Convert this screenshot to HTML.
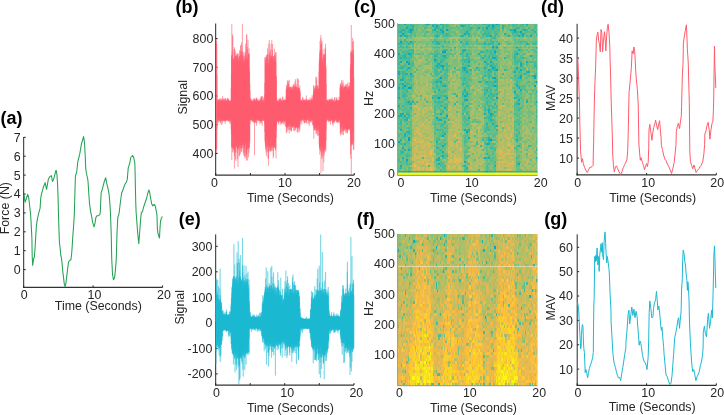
<!DOCTYPE html>
<html><head><meta charset="utf-8"><style>
html,body{margin:0;padding:0;background:#fff;overflow:hidden;}
svg{display:block;font-family:"Liberation Sans", sans-serif;will-change:transform;}
</style></head><body>
<svg width="724" height="415" viewBox="0 0 724 415">
<defs><filter id="sblur" x="-5%" y="-5%" width="110%" height="110%"><feGaussianBlur stdDeviation="0.55"/></filter></defs>
<rect width="724" height="415" fill="#fff"/>
<path d="M23.70 137.00 V288.00" fill="none" stroke="#262626" stroke-width="1"/>
<path d="M23.20 287.40 H162.60" fill="none" stroke="#333" stroke-width="1.25"/>
<line x1="23.70" y1="269.60" x2="25.70" y2="269.60" stroke="#262626" stroke-width="1"/>
<line x1="23.70" y1="250.70" x2="25.70" y2="250.70" stroke="#262626" stroke-width="1"/>
<line x1="23.70" y1="231.80" x2="25.70" y2="231.80" stroke="#262626" stroke-width="1"/>
<line x1="23.70" y1="212.90" x2="25.70" y2="212.90" stroke="#262626" stroke-width="1"/>
<line x1="23.70" y1="194.00" x2="25.70" y2="194.00" stroke="#262626" stroke-width="1"/>
<line x1="23.70" y1="175.10" x2="25.70" y2="175.10" stroke="#262626" stroke-width="1"/>
<line x1="23.70" y1="156.20" x2="25.70" y2="156.20" stroke="#262626" stroke-width="1"/>
<line x1="23.70" y1="137.30" x2="25.70" y2="137.30" stroke="#262626" stroke-width="1"/>
<line x1="23.70" y1="287.40" x2="23.70" y2="285.40" stroke="#262626" stroke-width="1"/>
<line x1="93.10" y1="287.40" x2="93.10" y2="285.40" stroke="#262626" stroke-width="1"/>
<line x1="162.60" y1="287.40" x2="162.60" y2="285.40" stroke="#262626" stroke-width="1"/>
<path d="M24.0 194.8 L25.1 202.2 L26.2 199.0 L27.6 194.3 L28.7 197.5 L29.8 207.0 L30.6 214.4 L31.1 222.6 L31.9 238.5 L32.2 256.5 L32.7 265.5 L33.6 258.6 L34.3 257.5 L35.0 249.0 L35.6 238.5 L36.4 225.8 L37.5 218.4 L38.6 213.6 L40.1 208.1 L40.7 198.5 L41.5 193.8 L43.2 187.8 L45.1 182.6 L46.6 189.5 L48.3 179.4 L49.5 176.9 L51.4 175.6 L52.5 181.5 L53.8 178.6 L55.9 170.5 L56.3 170.7 L57.0 175.2 L57.6 185.3 L58.1 198.0 L58.5 215.0 L58.9 228.0 L59.4 241.7 L60.1 248.0 L60.8 255.5 L61.6 258.6 L62.9 272.4 L64.3 284.1 L65.1 286.7 L65.8 284.1 L67.2 272.4 L68.6 261.8 L69.6 260.5 L70.9 259.7 L71.7 253.3 L72.3 245.0 L72.5 240.6 L73.6 225.8 L74.3 215.0 L74.9 193.2 L75.4 176.2 L76.7 172.0 L77.8 161.7 L78.9 157.5 L79.9 153.2 L81.5 143.7 L82.6 140.0 L83.6 136.5 L84.5 142.6 L85.2 155.3 L85.7 168.1 L86.3 172.5 L87.9 180.0 L89.5 203.8 L90.8 212.3 L91.6 216.2 L92.7 222.6 L94.0 226.8 L95.1 222.6 L95.8 217.8 L96.9 215.7 L98.5 215.7 L99.8 214.7 L100.3 212.0 L101.1 193.2 L102.2 189.5 L103.3 185.3 L104.3 181.5 L105.7 177.8 L106.8 183.7 L108.0 188.4 L109.1 194.3 L109.9 203.8 L110.4 212.0 L111.2 233.2 L111.7 258.0 L112.5 274.0 L113.5 279.8 L114.6 277.7 L115.5 269.2 L116.3 258.6 L117.0 233.2 L117.8 217.3 L118.8 214.7 L119.2 212.3 L120.2 203.8 L121.6 193.2 L122.9 190.0 L124.5 185.3 L126.1 182.6 L127.3 179.4 L128.2 168.1 L129.8 162.8 L130.8 157.5 L132.7 155.5 L133.7 157.5 L134.8 162.8 L135.1 172.0 L135.4 187.9 L135.8 203.8 L136.1 212.0 L136.9 222.6 L137.7 233.2 L138.8 243.8 L139.6 233.2 L140.7 218.4 L141.4 212.3 L142.5 211.8 L143.6 207.0 L145.1 202.8 L146.7 198.0 L147.8 193.2 L148.9 190.0 L149.7 192.7 L150.7 198.5 L151.7 203.8 L152.8 205.9 L154.2 204.3 L155.2 205.9 L156.3 211.2 L157.0 215.5 L157.3 227.9 L157.9 233.2 L158.9 236.4 L159.5 238.0 L160.0 227.9 L160.5 221.5 L161.3 218.4 L162.4 216.5" fill="none" stroke="#22a252" stroke-width="1.05" stroke-linejoin="round" opacity="1"/>
<path d="M215.70 23.50 V175.60" fill="none" stroke="#262626" stroke-width="1"/>
<path d="M215.20 175.00 H354.30" fill="none" stroke="#333" stroke-width="1.25"/>
<line x1="215.70" y1="153.40" x2="217.70" y2="153.40" stroke="#262626" stroke-width="1"/>
<line x1="215.70" y1="124.70" x2="217.70" y2="124.70" stroke="#262626" stroke-width="1"/>
<line x1="215.70" y1="96.00" x2="217.70" y2="96.00" stroke="#262626" stroke-width="1"/>
<line x1="215.70" y1="67.30" x2="217.70" y2="67.30" stroke="#262626" stroke-width="1"/>
<line x1="215.70" y1="38.60" x2="217.70" y2="38.60" stroke="#262626" stroke-width="1"/>
<line x1="215.70" y1="175.00" x2="215.70" y2="173.00" stroke="#262626" stroke-width="1"/>
<line x1="250.40" y1="175.00" x2="250.40" y2="173.00" stroke="#262626" stroke-width="1"/>
<line x1="285.00" y1="175.00" x2="285.00" y2="173.00" stroke="#262626" stroke-width="1"/>
<line x1="319.60" y1="175.00" x2="319.60" y2="173.00" stroke="#262626" stroke-width="1"/>
<line x1="354.30" y1="175.00" x2="354.30" y2="173.00" stroke="#262626" stroke-width="1"/>
<clipPath id="nclip11"><rect x="215" y="23.4" width="140" height="151.1"/></clipPath>
<path d="M217.00 74.7V128.8M217.20 99.1V121.1M217.40 102.2V120.9M217.60 100.2V121.9M217.80 100.2V120.1M218.00 101.8V120.1M218.20 101.0V123.4M218.40 100.0V120.7M218.60 99.3V120.6M218.80 101.3V119.9M219.00 99.6V119.3M219.20 101.0V120.8M219.40 98.7V119.9M219.60 99.3V119.2M219.80 100.7V121.7M220.00 98.6V121.0M220.20 101.3V122.2M220.40 100.6V119.6M220.60 99.7V123.5M220.80 101.9V121.9M221.00 98.2V119.3M221.20 101.6V120.6M221.40 99.6V125.0M221.60 100.7V118.9M221.80 100.9V121.0M222.00 98.7V120.6M222.20 100.3V120.4M222.40 100.2V123.6M222.60 96.2V120.4M222.80 101.6V119.9M223.00 98.9V120.6M223.20 100.2V121.0M223.40 100.5V118.2M223.60 98.6V120.2M223.80 101.6V119.7M224.00 98.7V122.0M224.20 100.7V120.7M224.40 102.3V121.4M224.60 100.7V120.0M224.80 98.6V118.2M225.00 99.3V120.3M225.20 100.2V124.0M225.40 98.0V120.8M225.60 98.9V120.6M225.80 100.1V121.3M226.00 100.5V120.2M226.20 101.1V120.0M226.40 100.7V120.2M226.60 101.0V120.9M226.80 100.0V118.6M227.00 100.6V119.1M227.20 98.2V120.7M227.40 100.1V120.6M227.60 98.9V120.0M227.80 98.0V118.8M228.00 100.6V120.4M228.20 99.8V120.7M228.40 100.8V119.0M228.60 98.5V121.0M228.80 99.5V121.3M229.00 100.5V122.1M229.20 101.8V120.7M229.40 101.2V120.5M229.60 101.1V119.6M229.80 100.9V122.6M230.00 102.5V120.2M230.20 100.4V124.1M230.40 100.6V119.4M230.60 100.4V120.2M230.80 102.3V120.7M231.00 100.2V121.9M231.20 88.0V129.6M231.40 73.9V134.2M231.60 54.9V146.7M231.80 57.6V160.1M232.00 56.5V148.0M232.20 51.4V147.1M232.40 61.7V147.5M232.60 34.4V152.2M232.80 36.2V148.2M233.00 58.2V148.8M233.20 58.8V145.5M233.40 71.0V136.0M233.60 59.0V150.2M233.80 59.4V148.1M234.00 49.5V152.8M234.20 61.7V148.6M234.40 47.2V168.6M234.60 56.9V156.3M234.80 49.2V150.6M235.00 64.0V142.3M235.20 68.0V148.9M235.40 51.7V159.5M235.60 56.0V152.2M235.80 55.2V145.4M236.00 56.7V161.2M236.20 59.8V146.4M236.40 53.8V146.1M236.60 57.1V141.5M236.80 56.0V147.0M237.00 55.5V147.3M237.20 55.6V152.8M237.40 58.6V147.9M237.60 53.3V159.2M237.80 61.7V149.8M238.00 54.9V148.5M238.20 53.3V148.2M238.40 61.6V149.5M238.60 58.1V142.1M238.80 57.7V148.2M239.00 61.9V145.5M239.20 63.4V155.6M239.40 56.0V156.4M239.60 56.1V146.9M239.80 49.8V141.1M240.00 51.0V140.2M240.20 60.3V145.6M240.40 54.3V154.0M240.60 45.5V145.6M240.80 59.4V147.9M241.00 44.9V148.6M241.20 61.5V151.9M241.40 51.9V147.5M241.60 42.2V151.5M241.80 55.2V148.0M242.00 61.6V145.6M242.20 50.5V144.3M242.40 55.4V145.5M242.60 58.4V144.1M242.80 51.8V148.8M243.00 61.6V145.3M243.20 64.6V153.2M243.40 60.3V141.7M243.60 56.2V143.7M243.80 52.7V155.7M244.00 59.0V151.4M244.20 60.4V146.4M244.40 62.2V156.1M244.60 60.4V148.0M244.80 55.5V158.3M245.00 57.2V146.2M245.20 51.4V141.5M245.40 54.1V142.7M245.60 43.6V144.2M245.80 64.6V157.9M246.00 60.7V155.9M246.20 60.9V153.1M246.40 58.4V154.5M246.60 34.5V160.7M246.80 34.7V147.1M247.00 57.1V149.8M247.20 46.7V143.2M247.40 49.5V160.3M247.60 59.5V149.4M247.80 63.3V147.5M248.00 39.8V142.4M248.20 60.7V148.3M248.40 54.3V141.4M248.60 53.8V157.5M248.80 53.2V152.7M249.00 48.2V147.2M249.20 53.7V148.9M249.40 68.5V147.6M249.60 72.3V140.0M249.80 83.9V142.9M250.00 91.2V123.7M250.20 99.7V119.5M250.40 101.4V120.0M250.60 98.5V119.9M250.80 98.5V120.4M251.00 100.3V120.6M251.20 98.8V118.7M251.40 101.4V118.8M251.60 101.1V120.1M251.80 101.9V120.8M252.00 100.1V119.8M252.20 100.1V121.8M252.40 102.5V119.6M252.60 101.1V121.6M252.80 100.9V120.2M253.00 100.9V118.3M253.20 101.8V120.8M253.40 99.2V122.9M253.60 101.4V119.6M253.80 99.7V121.6M254.00 98.2V121.2M254.20 100.2V119.1M254.40 98.3V122.2M254.60 100.9V122.3M254.80 100.6V121.2M255.00 99.4V120.7M255.20 101.9V122.1M255.40 100.3V120.2M255.60 100.2V122.8M255.80 101.4V120.3M256.00 98.8V123.0M256.20 97.8V119.1M256.40 98.8V125.9M256.60 97.7V119.5M256.80 101.8V119.5M257.00 98.5V123.4M257.20 100.5V118.1M257.40 101.1V120.1M257.60 100.3V119.3M257.80 99.4V120.1M258.00 101.1V120.8M258.20 101.1V120.3M258.40 102.6V121.4M258.60 100.6V120.3M258.80 99.6V119.5M259.00 101.2V120.3M259.20 103.1V119.6M259.40 100.1V119.6M259.60 100.4V120.9M259.80 101.3V124.4M260.00 102.1V121.0M260.20 98.1V120.6M260.40 101.8V120.7M260.60 99.9V123.1M260.80 100.6V120.7M261.00 96.1V120.7M261.20 98.9V121.9M261.40 97.3V123.4M261.60 97.9V120.9M261.80 100.7V119.1M262.00 96.3V120.7M262.20 96.1V125.9M262.40 101.0V117.8M262.60 100.6V119.2M262.80 100.1V120.5M263.00 101.6V119.8M263.20 100.5V120.9M263.40 102.6V120.9M263.60 97.4V119.9M263.80 98.9V119.9M264.00 100.9V121.2M264.20 101.7V120.9M264.40 101.7V119.8M264.60 94.9V124.3M264.80 83.0V131.9M265.00 57.0V140.4M265.20 57.6V142.6M265.40 59.0V147.9M265.60 64.2V144.6M265.80 66.8V150.0M266.00 61.5V146.5M266.20 55.4V152.6M266.40 63.2V156.1M266.60 56.9V139.6M266.80 58.1V146.2M267.00 55.1V144.9M267.20 54.5V138.4M267.40 54.8V147.3M267.60 48.3V151.8M267.80 66.6V138.2M268.00 53.4V158.0M268.20 72.7V144.9M268.40 59.1V165.8M268.60 63.2V159.0M268.80 43.4V143.5M269.00 64.5V146.9M269.20 61.9V146.3M269.40 63.6V149.1M269.60 54.2V146.2M269.80 51.7V151.8M270.00 68.2V150.9M270.20 55.1V150.5M270.40 49.5V140.4M270.60 56.3V147.2M270.80 59.2V151.1M271.00 43.8V151.5M271.20 55.9V145.7M271.40 58.9V139.8M271.60 55.5V148.0M271.80 40.2V150.2M272.00 56.9V145.7M272.20 58.1V151.0M272.40 50.5V144.5M272.60 44.1V145.9M272.80 61.8V145.8M273.00 60.1V148.4M273.20 59.6V158.2M273.40 56.0V147.6M273.60 56.1V156.2M273.80 75.0V147.3M274.00 58.8V142.3M274.20 60.3V145.0M274.40 48.7V147.0M274.60 54.8V147.9M274.80 57.7V147.7M275.00 57.2V145.6M275.20 54.1V149.5M275.40 61.4V141.9M275.60 52.4V150.4M275.80 62.0V147.2M276.00 52.1V158.4M276.20 77.6V137.8M276.40 75.8V129.9M276.60 101.1V125.7M276.80 97.7V121.4M277.00 100.5V121.5M277.20 100.3V119.5M277.40 101.8V121.1M277.60 101.3V121.7M277.80 102.9V121.0M278.00 101.3V121.6M278.20 101.8V124.6M278.40 100.4V122.9M278.60 101.0V121.5M278.80 100.4V123.3M279.00 98.4V120.8M279.20 102.7V119.0M279.40 99.0V121.3M279.60 100.0V120.9M279.80 101.6V121.6M280.00 99.1V121.2M280.20 97.6V125.0M280.40 100.1V119.9M280.60 100.4V120.9M280.80 98.5V122.3M281.00 102.6V122.7M281.20 99.3V121.0M281.40 101.0V122.8M281.60 101.8V123.9M281.80 100.1V121.4M282.00 101.2V123.7M282.20 100.1V119.9M282.40 97.1V122.4M282.60 103.2V120.3M282.80 96.6V121.9M283.00 101.1V121.4M283.20 101.3V124.3M283.40 100.4V120.7M283.60 100.2V120.4M283.80 99.9V123.7M284.00 98.6V121.8M284.20 100.4V121.2M284.40 100.9V121.5M284.60 100.3V120.3M284.80 100.9V120.8M285.00 99.4V124.5M285.20 99.8V125.9M285.40 100.8V121.1M285.60 100.0V118.8M285.80 100.7V121.2M286.00 97.2V127.1M286.20 89.3V127.6M286.40 84.8V133.4M286.60 90.1V124.5M286.80 86.9V131.5M287.00 89.2V131.8M287.20 87.8V127.4M287.40 80.3V126.7M287.60 84.6V128.6M287.80 81.5V127.0M288.00 88.6V126.6M288.20 87.3V124.8M288.40 84.0V123.9M288.60 80.9V130.0M288.80 87.0V125.5M289.00 90.8V126.7M289.20 79.8V133.5M289.40 86.6V124.2M289.60 94.8V126.1M289.80 87.4V130.1M290.00 88.7V129.3M290.20 88.1V123.9M290.40 87.1V126.1M290.60 86.7V125.1M290.80 89.1V130.7M291.00 87.0V125.4M291.20 87.7V130.5M291.40 89.2V131.9M291.60 88.7V130.2M291.80 86.5V126.7M292.00 90.9V127.5M292.20 89.8V125.5M292.40 89.0V127.0M292.60 86.4V127.1M292.80 87.0V127.9M293.00 91.1V126.3M293.20 84.0V126.2M293.40 87.7V125.4M293.60 89.3V130.8M293.80 85.4V126.2M294.00 86.7V125.5M294.20 84.2V127.1M294.40 87.1V125.4M294.60 86.3V131.2M294.80 89.1V129.5M295.00 81.6V126.9M295.20 87.4V127.6M295.40 79.2V127.2M295.60 86.8V130.1M295.80 86.1V128.0M296.00 86.7V128.2M296.20 84.3V127.3M296.40 87.3V127.0M296.60 90.2V127.1M296.80 87.6V127.1M297.00 91.5V125.5M297.20 78.1V132.5M297.40 91.0V132.0M297.60 88.0V127.8M297.80 87.1V126.6M298.00 79.9V127.3M298.20 78.9V128.7M298.40 87.6V125.9M298.60 87.6V127.8M298.80 91.9V132.5M299.00 88.0V125.8M299.20 88.0V127.6M299.40 89.0V129.4M299.60 89.7V126.9M299.80 85.1V131.4M300.00 93.1V122.9M300.20 91.5V124.6M300.40 102.1V119.3M300.60 100.5V120.9M300.80 99.9V118.9M301.00 100.2V120.3M301.20 101.6V119.9M301.40 101.8V121.9M301.60 99.7V120.2M301.80 100.3V124.3M302.00 100.1V119.7M302.20 102.0V120.3M302.40 101.5V118.9M302.60 96.9V119.2M302.80 97.8V120.5M303.00 100.3V118.3M303.20 101.5V120.3M303.40 101.0V119.7M303.60 98.9V121.3M303.80 100.1V117.0M304.00 100.3V123.0M304.20 101.1V119.5M304.40 100.2V119.6M304.60 99.5V123.3M304.80 100.7V123.2M305.00 100.5V118.9M305.20 100.6V119.4M305.40 102.2V120.7M305.60 98.6V118.9M305.80 100.2V122.6M306.00 101.0V119.6M306.20 101.3V122.8M306.40 95.5V122.1M306.60 100.4V120.2M306.80 99.4V120.3M307.00 99.2V124.0M307.20 101.2V120.0M307.40 101.9V119.8M307.60 100.1V119.6M307.80 100.6V118.8M308.00 99.8V120.4M308.20 100.1V117.2M308.40 101.9V120.7M308.60 100.1V118.0M308.80 100.4V123.8M309.00 99.5V123.0M309.20 101.4V126.1M309.40 99.8V120.7M309.60 100.7V118.4M309.80 101.6V119.9M310.00 97.5V121.0M310.20 99.6V119.3M310.40 101.2V121.8M310.60 100.3V120.6M310.80 100.6V122.5M311.00 99.2V120.7M311.20 101.5V120.2M311.40 98.1V120.2M311.60 99.8V121.9M311.80 100.8V120.4M312.00 95.3V120.9M312.20 101.6V118.7M312.40 100.0V124.7M312.60 99.7V120.6M312.80 98.0V119.6M313.00 96.7V125.6M313.20 95.0V124.2M313.40 92.5V127.6M313.60 85.2V124.3M313.80 85.5V138.7M314.00 88.6V124.4M314.20 91.9V130.5M314.40 92.2V130.0M314.60 88.4V128.2M314.80 90.1V128.6M315.00 89.5V130.4M315.20 87.0V129.6M315.40 86.1V127.3M315.60 86.0V126.9M315.80 76.7V129.5M316.00 90.5V133.9M316.20 88.8V130.9M316.40 79.3V127.0M316.60 88.3V134.1M316.80 76.8V130.1M317.00 85.5V129.7M317.20 87.5V128.8M317.40 90.1V131.8M317.60 85.4V127.0M317.80 88.9V136.0M318.00 85.5V134.9M318.20 92.7V127.1M318.40 87.5V130.7M318.60 88.9V128.3M318.80 89.0V129.6M319.00 71.5V135.6M319.20 60.3V144.3M319.40 64.0V146.7M319.60 52.4V148.5M319.80 57.7V154.7M320.00 40.8V149.7M320.20 49.4V148.0M320.40 58.8V150.3M320.60 51.0V151.7M320.80 35.0V147.0M321.00 44.1V172.9M321.20 44.4V145.1M321.40 61.8V147.4M321.60 42.6V155.3M321.80 53.3V159.1M322.00 40.7V143.1M322.20 58.4V151.9M322.40 61.9V157.4M322.60 62.5V148.2M322.80 58.3V145.8M323.00 49.2V146.4M323.20 65.8V151.6M323.40 54.3V152.4M323.60 55.2V150.9M323.80 58.0V162.5M324.00 55.6V156.0M324.20 60.0V153.7M324.40 54.5V147.4M324.60 54.4V149.5M324.80 67.1V150.6M325.00 47.9V139.7M325.20 53.6V148.5M325.40 49.2V145.0M325.60 43.8V150.0M325.80 69.0V151.9M326.00 66.1V140.5M326.20 84.4V130.0M326.40 101.1V122.3M326.60 99.8V118.6M326.80 103.9V118.9M327.00 100.6V118.9M327.20 101.5V120.0M327.40 100.1V120.4M327.60 100.2V119.0M327.80 100.3V120.3M328.00 99.1V121.0M328.20 101.3V120.3M328.40 100.1V121.9M328.60 101.1V119.1M328.80 101.0V119.4M329.00 102.0V120.1M329.20 99.2V122.4M329.40 100.8V120.6M329.60 99.3V119.0M329.80 100.1V120.3M330.00 100.1V121.6M330.20 103.4V120.7M330.40 98.9V120.8M330.60 100.8V124.8M330.80 98.8V119.3M331.00 100.5V120.9M331.20 98.9V116.8M331.40 101.3V120.6M331.60 99.4V120.5M331.80 100.8V120.2M332.00 100.1V119.7M332.20 97.5V119.5M332.40 100.2V123.7M332.60 101.5V123.1M332.80 100.1V118.0M333.00 99.4V125.7M333.20 100.5V123.6M333.40 100.7V122.3M333.60 101.6V120.1M333.80 101.5V118.6M334.00 99.0V121.9M334.20 102.2V121.4M334.40 101.6V120.4M334.60 97.6V121.8M334.80 101.3V123.2M335.00 97.1V120.7M335.20 100.6V119.1M335.40 101.4V120.7M335.60 101.6V120.2M335.80 101.1V117.9M336.00 99.7V118.4M336.20 100.3V119.6M336.40 100.8V121.7M336.60 98.2V121.4M336.80 97.1V121.6M337.00 99.2V122.3M337.20 100.0V123.3M337.40 100.4V119.1M337.60 100.8V122.3M337.80 100.5V119.9M338.00 101.0V121.6M338.20 101.2V122.6M338.40 100.4V121.7M338.60 100.2V121.1M338.80 100.6V119.6M339.00 97.1V122.6M339.20 100.0V117.7M339.40 100.3V119.7M339.60 101.4V120.6M339.80 96.8V121.3M340.00 88.5V123.4M340.20 85.2V133.2M340.40 83.1V125.7M340.60 84.0V135.4M340.80 88.3V128.7M341.00 86.2V134.1M341.20 87.6V132.9M341.40 86.4V131.1M341.60 79.9V128.3M341.80 87.1V128.6M342.00 82.3V123.5M342.20 86.1V126.6M342.40 91.9V125.3M342.60 84.7V134.6M342.80 86.0V131.0M343.00 80.3V131.2M343.20 87.6V131.1M343.40 89.9V135.1M343.60 88.1V128.0M343.80 83.4V129.3M344.00 90.3V127.5M344.20 86.9V129.6M344.40 88.2V129.1M344.60 86.6V130.8M344.80 86.1V124.4M345.00 86.8V127.8M345.20 87.3V132.4M345.40 85.6V129.4M345.60 86.5V128.8M345.80 86.9V127.8M346.00 84.0V128.9M346.20 86.9V133.5M346.40 84.8V129.0M346.60 87.2V131.4M346.80 90.2V129.0M347.00 87.7V129.2M347.20 83.6V128.5M347.40 87.5V133.4M347.60 91.3V132.6M347.80 89.1V129.2M348.00 82.6V130.1M348.20 85.8V130.1M348.40 88.9V129.5M348.60 88.4V128.7M348.80 86.6V128.0M349.00 86.1V129.4M349.20 86.1V128.0M349.40 82.5V127.9M349.60 86.4V128.9M349.80 90.3V129.9M350.00 91.2V130.4M350.20 91.5V129.9M350.40 67.8V134.3M350.60 64.3V154.0M350.80 52.2V158.6M351.00 50.5V142.2M351.20 70.7V144.7M351.40 52.9V144.0M351.60 52.3V139.5M351.80 51.2V145.8M352.00 53.5V144.7M352.20 62.6V143.7M352.40 59.2V132.5M352.60 38.0V144.5M352.80 54.3V134.0M353.00 50.6V144.5M353.20 54.5V142.2M353.40 50.1V149.6M353.60 40.7V140.8M353.80 76.9V150.0M216.10 39.0V153.0M216.50 41.0V151.0M216.90 44.0V149.0M231.80 24.0V110.0M242.40 24.0V110.0M238.00 110.0V167.0M269.30 40.0V110.0M254.50 110.0V155.0M321.00 38.0V110.0M323.00 110.0V171.0M351.30 25.0V174.0M352.70 42.0V110.0" stroke="#ff5b6b" stroke-width="0.6" fill="none" clip-path="url(#nclip11)"/>
<path d="M215.70 234.40 V385.70" fill="none" stroke="#262626" stroke-width="1"/>
<path d="M215.20 385.10 H354.00" fill="none" stroke="#333" stroke-width="1.25"/>
<line x1="215.70" y1="373.90" x2="217.70" y2="373.90" stroke="#262626" stroke-width="1"/>
<line x1="215.70" y1="348.38" x2="217.70" y2="348.38" stroke="#262626" stroke-width="1"/>
<line x1="215.70" y1="322.86" x2="217.70" y2="322.86" stroke="#262626" stroke-width="1"/>
<line x1="215.70" y1="297.34" x2="217.70" y2="297.34" stroke="#262626" stroke-width="1"/>
<line x1="215.70" y1="271.82" x2="217.70" y2="271.82" stroke="#262626" stroke-width="1"/>
<line x1="215.70" y1="246.30" x2="217.70" y2="246.30" stroke="#262626" stroke-width="1"/>
<line x1="215.70" y1="385.10" x2="215.70" y2="383.10" stroke="#262626" stroke-width="1"/>
<line x1="250.20" y1="385.10" x2="250.20" y2="383.10" stroke="#262626" stroke-width="1"/>
<line x1="284.70" y1="385.10" x2="284.70" y2="383.10" stroke="#262626" stroke-width="1"/>
<line x1="319.30" y1="385.10" x2="319.30" y2="383.10" stroke="#262626" stroke-width="1"/>
<line x1="354.00" y1="385.10" x2="354.00" y2="383.10" stroke="#262626" stroke-width="1"/>
<clipPath id="nclip23"><rect x="215" y="234.4" width="140" height="150.20000000000002"/></clipPath>
<path d="M216.00 292.8V363.8M216.20 300.1V351.5M216.40 295.6V345.6M216.60 279.5V346.6M216.80 295.1V340.4M217.00 291.4V346.4M217.20 294.2V347.3M217.40 294.6V345.3M217.60 304.1V342.8M217.80 279.7V344.1M218.00 295.2V342.0M218.20 298.3V347.6M218.40 286.3V347.2M218.60 300.4V347.4M218.80 300.4V350.3M219.00 299.7V346.5M219.20 299.4V355.8M219.40 300.4V347.9M219.60 302.1V347.8M219.80 288.4V345.8M220.00 300.2V347.5M220.20 299.1V362.1M220.40 295.4V356.8M220.60 306.7V343.8M220.80 301.9V344.2M221.00 301.2V355.0M221.20 303.0V344.4M221.40 306.1V344.1M221.60 302.8V344.8M221.80 310.1V338.6M222.00 309.6V336.2M222.20 312.0V340.9M222.40 311.2V336.0M222.60 311.6V330.4M222.80 314.9V331.3M223.00 314.0V329.9M223.20 310.7V330.7M223.40 315.4V328.4M223.60 314.1V330.6M223.80 313.6V330.6M224.00 316.0V330.6M224.20 314.4V329.7M224.40 313.9V329.9M224.60 315.6V329.7M224.80 314.1V329.1M225.00 311.7V329.6M225.20 314.5V330.1M225.40 314.3V330.2M225.60 314.9V329.8M225.80 314.3V330.1M226.00 314.2V331.4M226.20 312.7V329.2M226.40 309.5V332.0M226.60 311.8V330.4M226.80 315.0V330.9M227.00 314.2V331.1M227.20 315.0V330.9M227.40 315.3V330.8M227.60 315.1V330.7M227.80 315.2V330.3M228.00 314.9V330.6M228.20 314.4V329.9M228.40 314.7V330.6M228.60 314.3V335.2M228.80 315.1V336.9M229.00 315.2V330.8M229.20 314.0V332.8M229.40 316.1V329.9M229.60 311.7V336.0M229.80 314.4V330.7M230.00 311.7V332.5M230.20 315.3V332.4M230.40 315.6V329.5M230.60 311.8V332.0M230.80 310.5V334.2M231.00 305.9V337.8M231.20 303.8V344.0M231.40 297.4V344.1M231.60 300.3V348.2M231.80 292.7V349.8M232.00 287.3V343.4M232.20 287.1V353.0M232.40 283.8V353.1M232.60 283.4V353.4M232.80 278.6V354.4M233.00 278.6V348.8M233.20 280.3V346.7M233.40 276.2V364.4M233.60 277.9V355.4M233.80 276.6V352.9M234.00 276.7V355.2M234.20 279.8V354.7M234.40 279.2V357.2M234.60 286.8V359.1M234.80 264.5V354.4M235.00 276.4V372.4M235.20 279.5V353.0M235.40 277.7V352.8M235.60 282.7V354.2M235.80 280.2V358.2M236.00 284.3V365.0M236.20 278.1V363.4M236.40 279.7V370.0M236.60 276.0V350.1M236.80 280.6V356.6M237.00 252.5V358.9M237.20 262.9V345.1M237.40 282.8V357.7M237.60 262.8V358.0M237.80 280.8V353.8M238.00 280.0V367.5M238.20 241.2V352.7M238.40 284.9V364.9M238.60 283.1V357.6M238.80 277.4V358.1M239.00 258.7V357.1M239.20 278.3V358.6M239.40 274.8V366.3M239.60 262.7V380.3M239.80 270.8V356.6M240.00 276.8V378.4M240.20 285.8V357.0M240.40 277.6V357.3M240.60 276.6V358.2M240.80 279.8V353.7M241.00 279.1V356.9M241.20 279.4V358.5M241.40 282.4V358.5M241.60 281.2V355.3M241.80 292.7V361.3M242.00 280.0V363.7M242.20 283.0V356.5M242.40 279.0V354.9M242.60 264.9V352.7M242.80 272.5V369.4M243.00 280.6V354.5M243.20 292.5V376.6M243.40 283.4V356.3M243.60 277.2V350.5M243.80 281.1V354.7M244.00 265.4V355.4M244.20 286.1V354.6M244.40 280.6V353.3M244.60 281.3V357.9M244.80 280.3V370.2M245.00 275.0V357.5M245.20 281.6V353.0M245.40 285.5V355.7M245.60 284.8V353.7M245.80 278.4V351.2M246.00 265.9V364.6M246.20 281.6V353.7M246.40 283.1V353.5M246.60 279.2V350.4M246.80 282.2V351.4M247.00 273.4V352.1M247.20 282.0V353.0M247.40 280.4V352.1M247.60 279.0V353.6M247.80 286.1V355.1M248.00 271.5V352.5M248.20 289.0V352.5M248.40 284.4V344.6M248.60 292.7V352.0M248.80 287.9V352.1M249.00 279.3V354.5M249.20 304.6V338.2M249.40 301.1V330.5M249.60 309.5V328.0M249.80 316.4V328.5M250.00 317.0V327.8M250.20 313.9V328.4M250.40 312.2V328.3M250.60 317.2V328.4M250.80 316.6V329.3M251.00 317.2V328.6M251.20 316.7V328.9M251.40 316.9V331.9M251.60 317.2V328.6M251.80 315.8V328.1M252.00 317.1V329.1M252.20 316.8V328.5M252.40 316.8V328.3M252.60 316.6V329.7M252.80 316.4V330.1M253.00 313.9V327.9M253.20 316.4V328.3M253.40 315.9V328.1M253.60 315.3V329.3M253.80 317.0V328.3M254.00 316.4V328.0M254.20 317.0V328.5M254.40 315.4V330.3M254.60 315.7V329.2M254.80 317.1V328.6M255.00 316.5V328.5M255.20 317.5V329.6M255.40 317.7V328.4M255.60 316.9V328.1M255.80 317.4V330.9M256.00 317.5V328.1M256.20 316.7V328.5M256.40 316.9V328.1M256.60 317.0V328.1M256.80 314.5V328.8M257.00 317.1V328.4M257.20 316.8V328.7M257.40 317.1V331.7M257.60 316.0V329.1M257.80 317.3V330.1M258.00 317.8V328.8M258.20 317.1V328.6M258.40 315.1V328.6M258.60 317.1V328.9M258.80 315.3V331.3M259.00 317.0V329.0M259.20 317.2V330.5M259.40 312.9V328.8M259.60 317.6V329.0M259.80 317.0V328.5M260.00 317.4V328.7M260.20 316.0V330.4M260.40 316.9V330.7M260.60 312.5V330.2M260.80 317.0V328.3M261.00 317.7V331.5M261.20 314.6V328.7M261.40 313.7V329.1M261.60 313.7V336.4M261.80 311.8V332.5M262.00 312.1V333.6M262.20 303.9V335.0M262.40 309.3V342.3M262.60 301.6V337.4M262.80 295.0V339.7M263.00 304.9V337.5M263.20 304.4V342.7M263.40 301.4V338.5M263.60 301.3V337.3M263.80 298.7V338.9M264.00 296.5V339.0M264.20 296.2V351.1M264.40 294.6V342.6M264.60 292.5V340.8M264.80 292.1V344.6M265.00 289.6V339.3M265.20 286.9V343.9M265.40 293.5V349.2M265.60 289.6V342.2M265.80 287.9V344.9M266.00 288.5V343.5M266.20 267.5V346.2M266.40 292.1V345.0M266.60 284.7V364.6M266.80 291.2V346.4M267.00 287.1V342.7M267.20 287.9V346.0M267.40 291.8V343.4M267.60 286.8V340.3M267.80 271.1V353.0M268.00 297.0V346.4M268.20 288.2V344.5M268.40 288.4V352.0M268.60 291.8V366.4M268.80 286.8V347.0M269.00 289.0V355.9M269.20 283.0V343.7M269.40 285.7V344.1M269.60 285.8V342.3M269.80 285.3V350.2M270.00 297.6V346.2M270.20 287.0V346.8M270.40 288.2V341.2M270.60 292.7V344.9M270.80 267.7V345.7M271.00 285.4V343.8M271.20 285.2V344.5M271.40 285.5V349.8M271.60 289.9V357.6M271.80 265.9V346.3M272.00 276.6V343.9M272.20 287.4V351.9M272.40 288.8V345.7M272.60 290.8V342.5M272.80 292.6V346.6M273.00 282.5V352.1M273.20 284.4V347.2M273.40 287.7V347.0M273.60 272.4V342.7M273.80 289.7V355.3M274.00 288.3V346.1M274.20 283.7V346.7M274.40 294.1V344.2M274.60 288.3V348.9M274.80 286.2V346.2M275.00 291.5V346.9M275.20 293.1V344.2M275.40 292.1V375.6M275.60 286.6V347.6M275.80 288.4V345.7M276.00 289.7V342.4M276.20 295.4V341.2M276.40 294.2V344.3M276.60 287.8V345.1M276.80 291.8V342.4M277.00 288.2V346.1M277.20 296.8V350.2M277.40 287.1V346.1M277.60 285.7V343.4M277.80 272.1V344.1M278.00 289.9V346.6M278.20 292.4V345.5M278.40 288.1V343.1M278.60 280.2V349.3M278.80 287.5V343.6M279.00 290.3V344.3M279.20 296.6V344.4M279.40 294.7V342.7M279.60 295.9V345.5M279.80 290.0V342.2M280.00 299.9V344.0M280.20 291.6V342.0M280.40 293.5V352.8M280.60 295.6V355.6M280.80 277.7V344.8M281.00 294.8V343.4M281.20 295.5V341.4M281.40 295.6V344.1M281.60 295.3V342.1M281.80 296.3V348.4M282.00 299.5V341.4M282.20 299.5V357.4M282.40 288.8V340.2M282.60 304.7V341.3M282.80 295.2V342.8M283.00 301.6V347.8M283.20 300.8V339.8M283.40 303.5V342.4M283.60 299.2V343.2M283.80 299.2V342.0M284.00 299.2V341.3M284.20 297.4V344.1M284.40 288.9V344.8M284.60 294.8V338.2M284.80 294.5V342.1M285.00 281.0V356.0M285.20 292.2V343.1M285.40 293.3V348.8M285.60 299.9V346.0M285.80 286.8V350.2M286.00 292.2V341.4M286.20 292.9V348.2M286.40 283.5V346.0M286.60 291.9V344.4M286.80 294.7V358.1M287.00 286.9V344.9M287.20 280.0V347.2M287.40 297.1V347.5M287.60 276.3V355.5M287.80 291.7V347.6M288.00 286.5V345.9M288.20 288.9V343.7M288.40 296.0V346.7M288.60 283.1V346.4M288.80 294.3V345.8M289.00 295.2V343.3M289.20 293.6V346.6M289.40 289.7V346.1M289.60 293.2V352.6M289.80 285.5V355.4M290.00 289.9V347.5M290.20 288.9V347.1M290.40 290.6V346.9M290.60 289.3V345.5M290.80 289.8V347.5M291.00 289.1V346.9M291.20 292.5V346.9M291.40 289.9V349.5M291.60 290.8V345.7M291.80 288.6V362.0M292.00 292.6V347.7M292.20 291.8V352.6M292.40 277.1V344.4M292.60 293.9V353.2M292.80 281.8V341.5M293.00 291.4V346.3M293.20 293.1V348.5M293.40 293.6V347.8M293.60 284.2V350.6M293.80 294.3V352.7M294.00 295.4V344.8M294.20 293.9V346.8M294.40 285.0V350.7M294.60 281.3V347.3M294.80 285.4V347.7M295.00 291.1V347.3M295.20 291.3V346.0M295.40 289.5V346.7M295.60 285.3V344.9M295.80 293.8V353.3M296.00 293.4V345.0M296.20 294.1V344.9M296.40 290.2V364.2M296.60 289.6V346.1M296.80 292.8V346.7M297.00 295.1V343.8M297.20 290.1V345.8M297.40 290.4V346.7M297.60 290.7V348.2M297.80 293.2V342.6M298.00 291.4V345.9M298.20 289.8V350.9M298.40 290.7V360.1M298.60 291.4V358.9M298.80 295.9V346.9M299.00 292.8V346.6M299.20 295.9V346.8M299.40 297.7V341.2M299.60 302.1V339.0M299.80 308.6V340.5M300.00 308.7V333.9M300.20 313.1V336.7M300.40 316.7V329.3M300.60 318.3V328.3M300.80 317.3V327.9M301.00 318.1V328.3M301.20 317.5V330.7M301.40 318.6V328.7M301.60 317.1V328.4M301.80 318.6V328.3M302.00 318.2V331.2M302.20 318.0V333.1M302.40 318.3V327.9M302.60 317.9V327.2M302.80 318.5V330.3M303.00 318.4V327.8M303.20 319.1V328.3M303.40 318.8V328.9M303.60 318.7V328.7M303.80 318.7V329.1M304.00 319.0V328.3M304.20 318.9V328.6M304.40 318.8V328.9M304.60 318.9V327.7M304.80 318.9V327.9M305.00 318.6V328.7M305.20 319.3V327.9M305.40 319.0V328.6M305.60 318.7V327.8M305.80 318.8V328.8M306.00 318.4V328.0M306.20 319.3V327.6M306.40 316.7V328.8M306.60 318.9V328.7M306.80 318.9V328.4M307.00 318.7V328.8M307.20 318.9V327.8M307.40 318.7V328.9M307.60 319.5V329.5M307.80 318.8V328.7M308.00 318.9V327.7M308.20 319.2V328.5M308.40 319.1V329.0M308.60 319.5V327.8M308.80 317.9V328.7M309.00 319.1V327.7M309.20 319.4V329.0M309.40 319.6V327.3M309.60 318.4V333.3M309.80 319.6V329.9M310.00 318.0V328.3M310.20 318.4V330.1M310.40 314.2V332.9M310.60 309.0V335.1M310.80 309.4V338.5M311.00 309.9V339.4M311.20 303.9V342.0M311.40 291.0V341.8M311.60 296.7V346.6M311.80 298.4V347.1M312.00 301.5V344.6M312.20 300.3V347.9M312.40 300.8V343.8M312.60 292.3V348.1M312.80 292.3V349.1M313.00 299.5V349.3M313.20 298.1V363.4M313.40 298.7V351.3M313.60 299.5V347.7M313.80 302.7V346.9M314.00 301.4V345.2M314.20 296.4V349.8M314.40 297.5V359.9M314.60 294.9V348.3M314.80 286.1V345.5M315.00 298.7V344.5M315.20 297.2V350.8M315.40 296.5V359.9M315.60 298.2V359.9M315.80 294.9V356.4M316.00 289.3V359.0M316.20 294.3V351.9M316.40 289.8V349.5M316.60 296.1V361.0M316.80 293.3V355.4M317.00 294.7V349.3M317.20 278.5V353.5M317.40 291.0V346.9M317.60 290.4V345.0M317.80 268.9V349.1M318.00 293.7V346.3M318.20 290.0V360.0M318.40 290.9V353.9M318.60 298.4V359.8M318.80 291.5V352.8M319.00 290.3V354.4M319.20 265.7V374.2M319.40 291.5V354.0M319.60 282.6V350.1M319.80 296.3V357.1M320.00 292.9V362.5M320.20 292.1V343.3M320.40 290.6V377.9M320.60 290.7V348.2M320.80 291.3V356.8M321.00 287.8V355.6M321.20 290.0V353.7M321.40 290.4V357.8M321.60 292.9V368.9M321.80 296.3V349.9M322.00 289.5V354.8M322.20 295.0V357.1M322.40 291.3V353.5M322.60 282.4V354.4M322.80 292.8V352.9M323.00 294.9V351.4M323.20 289.2V361.7M323.40 294.2V363.9M323.60 292.1V362.8M323.80 291.7V355.6M324.00 288.7V356.2M324.20 289.2V379.2M324.40 280.6V354.5M324.60 294.6V355.3M324.80 294.8V355.2M325.00 292.0V354.6M325.20 289.4V353.8M325.40 292.0V360.9M325.60 271.8V349.8M325.80 289.6V352.3M326.00 295.6V351.8M326.20 291.7V357.2M326.40 294.5V350.7M326.60 295.3V360.8M326.80 294.5V348.4M327.00 289.4V349.2M327.20 292.2V353.6M327.40 294.1V350.1M327.60 296.5V351.5M327.80 297.6V348.7M328.00 296.1V343.4M328.20 287.0V348.5M328.40 292.7V341.4M328.60 304.4V341.1M328.80 310.4V339.3M329.00 309.7V333.6M329.20 312.3V331.3M329.40 314.9V333.4M329.60 314.6V329.9M329.80 315.2V329.2M330.00 316.4V329.9M330.20 316.1V328.6M330.40 316.3V329.0M330.60 317.6V333.8M330.80 316.2V332.2M331.00 316.1V331.1M331.20 314.3V329.5M331.40 316.0V330.8M331.60 312.2V329.8M331.80 315.9V329.6M332.00 316.6V330.1M332.20 316.4V329.8M332.40 316.3V329.3M332.60 317.1V328.6M332.80 316.2V330.6M333.00 317.2V328.7M333.20 316.4V327.7M333.40 316.0V329.5M333.60 314.0V329.9M333.80 312.2V332.7M334.00 316.7V330.3M334.20 314.8V329.1M334.40 316.4V332.5M334.60 315.6V332.4M334.80 317.2V329.6M335.00 316.7V329.5M335.20 316.7V329.7M335.40 316.6V327.6M335.60 316.2V332.1M335.80 316.2V329.5M336.00 313.9V329.1M336.20 316.9V331.0M336.40 316.8V327.7M336.60 316.2V328.9M336.80 316.2V329.9M337.00 313.6V329.7M337.20 315.5V328.7M337.40 316.2V331.1M337.60 316.3V329.5M337.80 315.7V329.4M338.00 316.1V333.1M338.20 314.6V330.8M338.40 315.7V329.7M338.60 316.2V329.8M338.80 316.3V328.7M339.00 317.4V329.6M339.20 316.0V329.6M339.40 316.7V329.0M339.60 316.4V329.7M339.80 317.3V329.2M340.00 317.0V329.3M340.20 316.3V330.7M340.40 313.1V334.9M340.60 311.5V334.7M340.80 310.2V338.9M341.00 309.2V337.1M341.20 311.7V342.7M341.40 307.6V339.9M341.60 295.4V341.8M341.80 302.1V346.7M342.00 303.1V343.1M342.20 303.3V354.7M342.40 302.0V341.4M342.60 298.4V343.0M342.80 285.0V339.7M343.00 288.5V346.0M343.20 285.7V343.1M343.40 289.5V342.4M343.60 293.3V343.6M343.80 296.9V363.0M344.00 295.3V342.2M344.20 295.4V340.7M344.40 295.9V362.4M344.60 293.7V342.1M344.80 296.4V344.0M345.00 298.8V348.0M345.20 293.5V352.4M345.40 292.9V347.8M345.60 294.5V348.4M345.80 288.4V351.1M346.00 297.9V345.8M346.20 293.3V345.7M346.40 293.0V346.8M346.60 296.2V347.4M346.80 295.2V353.5M347.00 296.6V348.2M347.20 271.6V348.2M347.40 261.6V350.7M347.60 284.1V351.9M347.80 293.4V347.5M348.00 296.7V347.1M348.20 290.6V353.0M348.40 295.0V348.7M348.60 292.6V350.2M348.80 292.1V350.6M349.00 296.1V348.5M349.20 288.2V342.4M349.40 296.0V344.7M349.60 296.5V346.2M349.80 292.9V357.3M350.00 285.0V351.3M350.20 294.3V354.4M350.40 283.0V367.7M350.60 293.6V353.3M350.80 292.7V351.2M351.00 290.9V350.4M351.20 291.3V347.7M351.40 291.1V371.4M351.60 294.7V349.6M351.80 292.9V348.1M352.00 293.9V362.0M352.20 298.2V347.8M352.40 284.0V351.1M352.60 288.4V352.1M352.80 294.0V348.4M353.00 295.9V349.8M353.20 282.2V347.4M353.40 279.7V347.7M353.60 284.4V349.7M353.80 295.1V347.8M220.10 268.5V322.0M216.00 278.6V322.0M233.90 244.0V322.0M242.40 238.0V322.0M240.30 255.0V322.0M265.60 278.6V322.0M285.90 270.5V322.0M293.00 274.5V322.0M320.70 234.0V322.0M322.30 252.0V322.0M350.90 237.0V322.0M352.00 256.0V322.0M238.90 322.0V385.0M350.00 322.0V375.0" stroke="#1cb9d3" stroke-width="0.65" fill="none" clip-path="url(#nclip23)"/>
<path d="M577.10 23.80 V175.50" fill="none" stroke="#262626" stroke-width="1"/>
<path d="M576.60 174.90 H716.30" fill="none" stroke="#333" stroke-width="1.25"/>
<line x1="577.10" y1="158.10" x2="579.10" y2="158.10" stroke="#262626" stroke-width="1"/>
<line x1="577.10" y1="138.10" x2="579.10" y2="138.10" stroke="#262626" stroke-width="1"/>
<line x1="577.10" y1="118.10" x2="579.10" y2="118.10" stroke="#262626" stroke-width="1"/>
<line x1="577.10" y1="98.10" x2="579.10" y2="98.10" stroke="#262626" stroke-width="1"/>
<line x1="577.10" y1="78.10" x2="579.10" y2="78.10" stroke="#262626" stroke-width="1"/>
<line x1="577.10" y1="58.10" x2="579.10" y2="58.10" stroke="#262626" stroke-width="1"/>
<line x1="577.10" y1="38.10" x2="579.10" y2="38.10" stroke="#262626" stroke-width="1"/>
<line x1="577.20" y1="174.90" x2="577.20" y2="172.90" stroke="#262626" stroke-width="1"/>
<line x1="646.60" y1="174.90" x2="646.60" y2="172.90" stroke="#262626" stroke-width="1"/>
<line x1="716.30" y1="174.90" x2="716.30" y2="172.90" stroke="#262626" stroke-width="1"/>
<path d="M577.8 58.0 L578.5 76.0 L579.1 92.0 L579.5 104.0 L579.8 121.2 L580.2 138.0 L580.6 151.8 L581.2 157.6 L581.6 162.4 L582.5 158.7 L583.3 163.5 L584.6 167.7 L586.2 170.9 L587.3 172.5 L588.6 169.8 L589.9 167.2 L591.0 167.2 L592.2 166.6 L593.1 165.6 L593.3 153.9 L593.6 144.0 L594.4 100.0 L595.0 81.2 L595.7 65.3 L596.3 41.2 L597.1 34.8 L597.9 32.2 L598.6 40.1 L599.5 44.4 L600.3 51.8 L601.0 29.5 L601.8 32.7 L602.6 51.8 L603.5 40.1 L604.5 31.7 L605.3 41.2 L605.8 50.8 L606.7 35.9 L607.4 27.4 L608.1 24.2 L609.0 32.7 L609.8 46.5 L610.1 60.0 L610.6 75.9 L611.2 101.0 L612.4 138.0 L612.7 153.9 L613.4 164.5 L614.3 171.9 L615.4 167.2 L616.4 165.8 L617.7 168.8 L619.1 171.9 L620.7 174.6 L621.9 171.9 L623.3 167.7 L624.7 164.5 L626.0 161.9 L627.0 159.2 L627.6 151.8 L627.9 144.0 L628.1 138.0 L628.9 100.0 L629.1 91.8 L630.2 81.2 L631.3 68.5 L631.8 58.0 L632.1 50.8 L633.2 53.9 L633.9 47.0 L634.7 50.8 L635.3 62.0 L635.7 70.6 L636.4 80.1 L637.4 89.7 L637.8 97.1 L638.2 104.0 L638.9 144.0 L639.7 153.9 L640.3 160.3 L641.0 157.6 L642.4 162.4 L643.5 165.6 L644.5 169.8 L645.6 166.1 L646.6 163.5 L647.4 166.6 L648.2 162.4 L648.7 148.6 L649.0 129.7 L649.8 124.4 L650.8 131.8 L651.9 140.3 L652.6 133.9 L653.7 127.6 L655.1 122.8 L655.6 120.1 L656.7 125.5 L657.7 129.7 L658.8 123.3 L659.6 120.7 L660.4 129.7 L661.1 138.2 L661.4 145.4 L662.5 149.7 L663.6 155.0 L664.9 159.2 L666.2 160.8 L667.3 164.0 L668.5 166.1 L669.9 169.3 L671.5 173.5 L672.8 168.8 L674.2 162.4 L675.2 152.8 L676.0 144.4 L676.3 131.8 L677.3 126.5 L678.4 123.3 L679.5 128.6 L680.5 121.2 L681.3 115.9 L681.6 106.4 L682.3 75.9 L683.0 64.2 L683.4 43.3 L684.4 35.9 L685.3 30.6 L686.4 24.8 L686.9 35.9 L687.4 49.7 L687.9 57.1 L688.3 64.2 L688.7 81.2 L689.3 102.4 L689.5 121.2 L689.8 150.7 L690.4 161.3 L691.7 165.6 L692.7 168.8 L694.0 165.0 L695.1 168.8 L696.1 172.5 L697.5 170.3 L698.9 168.8 L700.1 166.6 L701.4 165.0 L702.8 161.3 L703.9 153.9 L704.6 144.4 L704.9 133.9 L706.0 130.8 L707.0 125.5 L708.1 122.3 L709.2 129.7 L709.9 139.2 L711.0 129.7 L712.0 123.3 L712.9 121.2 L713.4 110.6 L713.7 100.0 L714.1 70.0 L714.5 46.0 L714.8 65.3 L715.2 72.7 L715.8 88.1" fill="none" stroke="#ff5b6b" stroke-width="1.0" stroke-linejoin="round" opacity="1"/>
<path d="M577.20 234.30 V385.90" fill="none" stroke="#262626" stroke-width="1"/>
<path d="M576.70 385.30 H716.30" fill="none" stroke="#333" stroke-width="1.25"/>
<line x1="577.20" y1="369.10" x2="579.20" y2="369.10" stroke="#262626" stroke-width="1"/>
<line x1="577.20" y1="344.74" x2="579.20" y2="344.74" stroke="#262626" stroke-width="1"/>
<line x1="577.20" y1="320.38" x2="579.20" y2="320.38" stroke="#262626" stroke-width="1"/>
<line x1="577.20" y1="296.02" x2="579.20" y2="296.02" stroke="#262626" stroke-width="1"/>
<line x1="577.20" y1="271.66" x2="579.20" y2="271.66" stroke="#262626" stroke-width="1"/>
<line x1="577.20" y1="247.30" x2="579.20" y2="247.30" stroke="#262626" stroke-width="1"/>
<line x1="577.20" y1="385.30" x2="577.20" y2="383.30" stroke="#262626" stroke-width="1"/>
<line x1="646.60" y1="385.30" x2="646.60" y2="383.30" stroke="#262626" stroke-width="1"/>
<line x1="716.30" y1="385.30" x2="716.30" y2="383.30" stroke="#262626" stroke-width="1"/>
<path d="M577.6 302.5 L578.2 306.0 L578.5 308.3 L578.8 312.0 L579.1 318.7 L579.8 333.6 L580.4 343.1 L580.6 349.0 L581.2 346.0 L581.4 335.7 L582.0 327.2 L582.5 324.6 L583.0 327.2 L583.3 337.8 L583.8 348.4 L584.4 352.5 L584.8 362.0 L585.2 372.6 L585.9 369.5 L586.7 372.6 L587.6 377.9 L588.3 373.7 L589.4 368.4 L590.4 365.2 L591.5 362.0 L592.6 357.8 L593.3 352.5 L593.5 330.0 L593.8 306.0 L594.1 299.8 L594.4 280.0 L594.7 256.5 L595.2 261.8 L595.7 255.5 L596.3 260.8 L597.1 248.0 L597.9 265.0 L598.6 256.5 L599.2 271.4 L599.8 254.4 L600.5 249.1 L601.0 243.8 L601.8 252.3 L602.3 242.7 L602.8 256.5 L603.5 259.7 L604.2 240.6 L605.0 232.1 L605.6 242.7 L606.0 251.2 L606.7 262.9 L607.4 256.5 L608.1 261.8 L609.0 269.2 L609.5 277.0 L610.1 294.5 L610.9 308.3 L611.1 321.9 L612.0 337.8 L612.7 350.0 L613.0 354.6 L614.1 363.1 L615.4 367.3 L616.4 371.6 L617.5 375.8 L618.5 377.9 L619.6 377.4 L620.7 380.6 L621.7 373.7 L622.8 367.3 L623.8 361.0 L624.7 354.6 L625.8 348.2 L626.0 341.0 L626.8 332.5 L627.6 321.9 L628.1 314.5 L628.9 310.2 L629.7 324.0 L630.7 315.5 L631.8 307.1 L632.9 315.5 L633.9 309.2 L635.0 317.7 L636.0 311.3 L637.1 316.6 L637.6 324.0 L638.5 335.7 L639.2 345.2 L640.0 341.0 L640.6 342.1 L641.3 346.3 L642.4 354.6 L643.5 359.9 L644.5 362.0 L645.9 364.1 L647.0 369.5 L647.7 362.0 L648.2 356.7 L648.7 340.0 L648.9 327.2 L649.2 312.4 L649.8 300.9 L650.8 308.3 L651.9 318.0 L653.0 316.6 L653.5 308.3 L654.5 303.0 L655.6 299.8 L656.5 291.3 L657.2 299.8 L657.9 310.0 L658.8 306.0 L659.6 312.0 L660.7 325.1 L661.4 330.4 L662.0 327.2 L662.8 337.8 L663.6 346.3 L664.1 354.6 L665.1 365.2 L666.0 374.8 L667.3 376.9 L668.5 381.1 L669.9 384.6 L671.0 383.2 L672.0 375.8 L672.8 365.2 L673.6 354.6 L674.7 337.8 L675.8 332.5 L676.8 327.2 L677.9 319.8 L678.7 317.7 L679.5 328.3 L680.2 320.8 L681.1 311.3 L681.6 289.2 L682.3 278.6 L682.6 261.8 L683.2 250.1 L684.0 253.3 L684.8 261.8 L685.5 265.0 L686.1 273.3 L686.9 280.7 L687.4 290.3 L687.9 281.8 L688.5 289.2 L689.0 299.8 L689.5 321.9 L690.4 343.1 L691.1 354.6 L691.9 365.2 L692.7 371.6 L693.8 369.5 L694.8 374.8 L695.9 380.6 L697.0 376.9 L698.0 374.8 L699.3 371.6 L700.4 365.2 L701.4 362.0 L702.3 356.7 L703.1 348.2 L703.3 332.5 L704.4 326.1 L705.4 333.6 L706.5 336.8 L707.6 319.8 L708.4 313.4 L709.5 328.3 L710.5 321.9 L711.6 310.2 L712.3 318.0 L712.9 300.0 L713.4 280.0 L713.9 255.0 L714.5 245.9 L715.0 259.7 L715.3 273.0 L715.8 288.1" fill="none" stroke="#1cb9d3" stroke-width="1.0" stroke-linejoin="round" opacity="1"/>
<clipPath id="clip5"><rect x="397.90" y="23.50" width="139.60" height="151.80"/></clipPath>
<g clip-path="url(#clip5)"><g filter="url(#sblur)"><g transform="translate(397.90 23.50) scale(1.9943 1.9974)" shape-rendering="crispEdges"><path fill="#0998d1" d="M23 14h1v1h-1zM5 20h1v1h-1z"/><path fill="#06a0cd" d="M5 32h1v1h-1zM46 58h1v1h-1z"/><path fill="#06a2cb" d="M47 11h1v1h-1zM49 37h1v1h-1zM34 54h1v1h-1z"/><path fill="#06a4c9" d="M47 1h1v1h-1zM22 4h1v1h-1zM47 22h1v1h-1zM49 23h1v1h-1zM21 27h1v1h-1zM34 38h1v1h-1z"/><path fill="#06a6c7" d="M44 2h1v1h-1zM58 3h1v1h-1zM61 4h1v1h-1zM49 12h1v1h-1zM48 14h1v1h-1zM18 18h1v1h-1zM6 25h1v1h-1zM48 27h1v1h-1zM20 37h1v1h-1zM24 46h1v1h-1zM5 58h1v1h-1zM4 68h1v1h-1zM5 74h1v1h-1z"/><path fill="#06a8c4" d="M3 0h1v1h-1zM49 0h1v1h-1zM6 3h1v1h-1zM24 3h1v1h-1zM2 5h1v1h-1zM47 7h2v1h-2zM1 9h1v1h-1zM47 12h1v1h-1zM22 14h1v1h-1zM4 19h1v1h-1zM22 21h1v1h-1zM69 29h1v1h-1zM3 31h1v1h-1zM48 31h1v1h-1zM68 31h1v1h-1zM46 45h1v1h-1zM22 56h1v1h-1zM5 57h1v1h-1zM0 59h1v1h-1zM44 74h1v1h-1z"/><path fill="#07aac1" d="M19 1h1v1h-1zM58 4h1v1h-1zM33 5h1v1h-1zM22 11h1v1h-1zM66 16h1v1h-1zM46 19h1v1h-1zM61 20h1v1h-1zM5 22h1v1h-1zM68 26h1v1h-1zM68 27h1v1h-1zM0 32h1v1h-1zM33 36h1v1h-1zM5 39h1v1h-1zM21 45h1v1h-1zM22 61h1v1h-1zM5 63h1v1h-1z"/><path fill="#09acbe" d="M32 1h1v1h-1zM1 6h1v1h-1zM6 9h1v1h-1zM1 11h1v1h-1zM59 12h1v1h-1zM0 15h1v1h-1zM47 17h2v1h-2zM1 19h1v1h-1zM33 22h1v1h-1zM45 23h1v1h-1zM61 23h1v1h-1zM34 24h1v1h-1zM65 24h1v1h-1zM61 26h1v1h-1zM47 27h1v1h-1zM61 27h1v1h-1zM61 33h1v1h-1zM34 35h1v1h-1zM60 40h1v1h-1zM23 42h1v1h-1zM20 67h1v1h-1zM19 68h1v1h-1z"/><path fill="#0dadbb" d="M15 0h1v1h-1zM64 0h1v1h-1zM21 3h1v1h-1zM6 4h1v1h-1zM66 6h1v1h-1zM33 13h1v1h-1zM23 16h1v1h-1zM35 19h1v1h-1zM46 21h1v1h-1zM6 32h1v1h-1zM58 34h1v1h-1zM0 37h1v1h-1zM24 37h1v1h-1zM60 38h1v1h-1zM69 39h1v1h-1zM45 43h1v1h-1zM19 47h1v1h-1zM44 60h1v1h-1zM43 67h1v1h-1zM33 69h1v1h-1z"/><path fill="#10afb8" d="M14 0h1v1h-1zM40 2h1v1h-1zM34 4h1v1h-1zM46 6h1v1h-1zM4 7h1v1h-1zM18 8h1v1h-1zM50 10h1v1h-1zM49 11h1v1h-1zM69 12h1v1h-1zM60 13h1v1h-1zM5 15h1v1h-1zM43 19h1v1h-1zM20 20h1v1h-1zM19 21h1v1h-1zM59 22h1v1h-1zM33 23h1v1h-1zM0 24h1v1h-1zM58 24h1v1h-1zM1 28h1v1h-1zM21 29h1v1h-1zM7 39h1v1h-1zM6 40h1v1h-1zM34 41h1v1h-1zM2 45h1v1h-1zM21 48h1v1h-1zM33 53h1v1h-1zM35 57h1v1h-1zM45 60h1v1h-1zM22 64h1v1h-1zM22 66h1v1h-1zM69 67h1v1h-1zM60 70h1v1h-1zM1 71h1v1h-1z"/><path fill="#15b0b5" d="M47 2h1v1h-1zM18 3h1v1h-1zM60 6h1v1h-1zM39 8h1v1h-1zM46 8h1v1h-1zM31 9h1v1h-1zM42 17h1v1h-1zM21 21h1v1h-1zM35 21h1v1h-1zM32 22h1v1h-1zM64 24h1v1h-1zM19 29h1v1h-1zM2 32h1v1h-1zM60 32h1v1h-1zM64 39h1v1h-1zM45 44h1v1h-1zM43 45h1v1h-1zM35 47h1v1h-1zM4 48h1v1h-1zM20 48h1v1h-1zM23 49h1v1h-1zM47 50h1v1h-1zM49 51h1v1h-1zM1 53h1v1h-1zM3 55h1v1h-1zM1 58h1v1h-1zM45 58h1v1h-1zM59 58h1v1h-1zM3 60h1v1h-1zM34 72h1v1h-1z"/><path fill="#19b2b1" d="M17 1h1v1h-1zM45 1h1v1h-1zM4 2h1v1h-1zM2 3h1v1h-1zM63 3h1v1h-1zM62 5h1v1h-1zM19 6h1v1h-1zM62 6h1v1h-1zM3 8h1v1h-1zM32 13h1v1h-1zM59 15h1v1h-1zM64 19h1v1h-1zM61 21h1v1h-1zM0 25h1v1h-1zM2 28h1v1h-1zM23 31h1v1h-1zM59 31h1v1h-1zM33 38h1v1h-1zM0 41h1v1h-1zM1 45h1v1h-1zM3 46h1v1h-1zM35 53h1v1h-1zM23 55h1v1h-1zM2 67h1v1h-1zM45 67h1v1h-1zM20 70h1v1h-1zM21 75h1v1h-1z"/><path fill="#1eb3ae" d="M21 0h1v1h-1zM7 1h1v1h-1zM1 4h1v1h-1zM35 5h1v1h-1zM53 5h1v1h-1zM55 6h1v1h-1zM43 10h1v1h-1zM64 10h1v1h-1zM4 11h1v1h-1zM6 15h1v1h-1zM3 16h1v1h-1zM1 17h1v1h-1zM22 22h1v1h-1zM39 22h1v1h-1zM43 22h1v1h-1zM4 25h1v1h-1zM67 26h1v1h-1zM44 29h1v1h-1zM48 29h1v1h-1zM2 30h1v1h-1zM20 33h1v1h-1zM33 33h1v1h-1zM58 37h1v1h-1zM0 46h2v1h-2zM19 59h1v1h-1zM2 62h1v1h-1zM19 62h1v1h-1zM46 74h1v1h-1z"/><path fill="#24b5aa" d="M47 0h1v1h-1zM31 1h1v1h-1zM7 3h1v1h-1zM56 3h2v1h-2zM68 4h1v1h-1zM3 6h1v1h-1zM19 7h1v1h-1zM19 9h1v1h-1zM34 10h1v1h-1zM28 12h1v1h-1zM23 13h1v1h-1zM40 15h1v1h-1zM18 16h1v1h-1zM3 17h1v1h-1zM2 22h1v1h-1zM48 23h1v1h-1zM63 25h1v1h-1zM22 31h1v1h-1zM44 33h1v1h-1zM32 35h1v1h-1zM43 35h1v1h-1zM23 36h1v1h-1zM29 36h1v1h-1zM34 36h1v1h-1zM17 37h1v1h-1zM48 40h1v1h-1zM6 42h1v1h-1zM22 44h1v1h-1zM46 46h1v1h-1zM44 50h1v1h-1zM4 54h2v1h-2zM3 56h1v1h-1zM45 57h1v1h-1zM60 61h1v1h-1zM3 63h1v1h-1zM2 64h1v1h-1zM20 68h1v1h-1zM33 71h1v1h-1zM48 71h1v1h-1zM60 75h1v1h-1z"/><path fill="#2ab6a7" d="M52 1h1v1h-1zM19 2h1v1h-1zM52 2h1v1h-1zM5 4h1v1h-1zM24 5h1v1h-1zM4 6h1v1h-1zM31 6h2v1h-2zM44 6h1v1h-1zM41 7h1v1h-1zM30 8h1v1h-1zM44 8h1v1h-1zM47 9h1v1h-1zM5 10h1v1h-1zM20 10h1v1h-1zM45 10h1v1h-1zM7 11h1v1h-1zM32 11h1v1h-1zM7 13h1v1h-1zM32 14h1v1h-1zM41 14h1v1h-1zM34 15h1v1h-1zM22 16h1v1h-1zM34 16h1v1h-1zM43 16h1v1h-1zM53 17h1v1h-1zM58 17h1v1h-1zM21 19h1v1h-1zM36 23h1v1h-1zM53 23h1v1h-1zM21 24h1v1h-1zM3 25h1v1h-1zM2 27h1v1h-1zM60 27h1v1h-1zM40 29h2v1h-2zM32 30h1v1h-1zM59 30h1v1h-1zM69 34h1v1h-1zM46 35h1v1h-1zM49 35h1v1h-1zM2 36h1v1h-1zM45 36h1v1h-1zM28 40h1v1h-1zM33 42h1v1h-1zM4 45h1v1h-1zM34 45h1v1h-1zM47 45h1v1h-1zM4 47h1v1h-1zM46 48h1v1h-1zM49 53h1v1h-1zM69 63h1v1h-1z"/><path fill="#30b7a3" d="M18 0h1v1h-1zM22 0h1v1h-1zM42 0h2v1h-2zM62 0h1v1h-1zM4 1h1v1h-1zM7 2h1v1h-1zM18 2h1v1h-1zM22 2h1v1h-1zM36 2h1v1h-1zM59 2h1v1h-1zM5 3h1v1h-1zM0 4h1v1h-1zM46 7h1v1h-1zM23 8h1v1h-1zM33 8h1v1h-1zM58 8h1v1h-1zM23 9h1v1h-1zM34 9h1v1h-1zM0 10h1v1h-1zM33 11h1v1h-1zM63 11h1v1h-1zM4 12h1v1h-1zM24 13h1v1h-1zM26 13h1v1h-1zM42 14h1v1h-1zM19 15h1v1h-1zM6 16h1v1h-1zM23 17h1v1h-1zM33 18h1v1h-1zM5 19h1v1h-1zM61 19h1v1h-1zM44 20h1v1h-1zM1 22h1v1h-1zM20 22h1v1h-1zM48 22h1v1h-1zM4 23h1v1h-1zM24 23h1v1h-1zM46 23h1v1h-1zM2 24h1v1h-1zM46 24h1v1h-1zM52 25h1v1h-1zM7 26h1v1h-1zM43 26h1v1h-1zM58 26h1v1h-1zM4 30h1v1h-1zM2 31h1v1h-1zM6 31h1v1h-1zM19 31h1v1h-1zM49 31h1v1h-1zM46 33h1v1h-1zM0 35h1v1h-1zM3 35h1v1h-1zM47 36h1v1h-1zM64 38h1v1h-1zM18 39h1v1h-1zM20 39h1v1h-1zM2 41h1v1h-1zM60 43h1v1h-1zM48 44h1v1h-1zM5 45h1v1h-1zM5 46h1v1h-1zM23 47h1v1h-1zM45 47h1v1h-1zM3 48h1v1h-1zM47 48h1v1h-1zM1 49h1v1h-1zM59 53h1v1h-1zM59 56h1v1h-1zM23 60h1v1h-1zM39 60h1v1h-1zM41 61h1v1h-1zM58 62h1v1h-1zM1 64h1v1h-1zM44 65h1v1h-1zM1 72h1v1h-1z"/><path fill="#36b99f" d="M0 0h1v1h-1zM6 0h1v1h-1zM17 0h1v1h-1zM22 1h1v1h-1zM33 1h1v1h-1zM60 2h1v1h-1zM42 3h1v1h-1zM44 3h1v1h-1zM64 3h1v1h-1zM67 3h1v1h-1zM19 4h1v1h-1zM42 5h2v1h-2zM45 5h1v1h-1zM49 5h1v1h-1zM69 5h1v1h-1zM18 6h1v1h-1zM35 6h1v1h-1zM45 6h1v1h-1zM48 6h1v1h-1zM6 7h1v1h-1zM24 7h1v1h-1zM42 7h1v1h-1zM1 8h1v1h-1zM17 9h1v1h-1zM43 9h1v1h-1zM19 10h1v1h-1zM46 10h1v1h-1zM2 12h1v1h-1zM6 13h1v1h-1zM44 13h1v1h-1zM48 13h1v1h-1zM7 14h1v1h-1zM69 14h1v1h-1zM3 15h1v1h-1zM31 15h1v1h-1zM46 15h1v1h-1zM2 16h1v1h-1zM19 16h1v1h-1zM45 16h1v1h-1zM4 17h1v1h-1zM62 17h1v1h-1zM32 18h1v1h-1zM35 18h1v1h-1zM49 18h1v1h-1zM0 20h1v1h-1zM7 20h1v1h-1zM47 20h1v1h-1zM48 21h1v1h-1zM68 21h1v1h-1zM28 22h1v1h-1zM18 23h1v1h-1zM22 23h1v1h-1zM32 23h1v1h-1zM59 23h1v1h-1zM23 25h1v1h-1zM45 25h1v1h-1zM2 26h1v1h-1zM45 26h2v1h-2zM45 27h1v1h-1zM19 28h2v1h-2zM33 28h1v1h-1zM49 28h1v1h-1zM3 29h1v1h-1zM18 29h1v1h-1zM20 29h1v1h-1zM47 30h1v1h-1zM47 31h1v1h-1zM4 33h1v1h-1zM43 33h1v1h-1zM49 33h1v1h-1zM18 34h1v1h-1zM33 34h1v1h-1zM28 35h1v1h-1zM21 36h1v1h-1zM59 36h1v1h-1zM19 37h1v1h-1zM44 37h1v1h-1zM46 37h1v1h-1zM59 37h1v1h-1zM47 38h1v1h-1zM4 39h1v1h-1zM44 39h1v1h-1zM59 39h1v1h-1zM5 40h1v1h-1zM32 40h1v1h-1zM59 40h1v1h-1zM21 41h1v1h-1zM49 41h1v1h-1zM45 42h1v1h-1zM61 42h1v1h-1zM32 45h1v1h-1zM69 46h1v1h-1zM46 47h1v1h-1zM34 48h1v1h-1zM1 50h1v1h-1zM60 50h1v1h-1zM44 52h1v1h-1zM19 53h1v1h-1zM45 53h1v1h-1zM42 58h1v1h-1zM45 59h1v1h-1zM65 61h1v1h-1zM46 62h1v1h-1zM21 63h1v1h-1zM4 66h1v1h-1zM44 67h1v1h-1zM43 74h1v1h-1z"/><path fill="#3dba9b" d="M46 0h1v1h-1zM57 0h1v1h-1zM24 1h1v1h-1zM48 1h1v1h-1zM13 2h1v1h-1zM20 2h1v1h-1zM65 2h1v1h-1zM3 3h1v1h-1zM17 3h1v1h-1zM22 3h1v1h-1zM62 3h1v1h-1zM3 4h1v1h-1zM14 4h1v1h-1zM43 4h1v1h-1zM45 4h1v1h-1zM57 4h1v1h-1zM59 4h1v1h-1zM3 5h1v1h-1zM34 5h1v1h-1zM44 5h1v1h-1zM57 5h1v1h-1zM59 5h1v1h-1zM20 6h1v1h-1zM64 6h1v1h-1zM69 6h1v1h-1zM34 7h1v1h-1zM58 7h1v1h-1zM65 7h1v1h-1zM68 7h1v1h-1zM34 8h1v1h-1zM60 8h1v1h-1zM4 9h1v1h-1zM20 9h1v1h-1zM25 9h1v1h-1zM61 9h1v1h-1zM69 9h1v1h-1zM1 10h1v1h-1zM65 10h1v1h-1zM67 10h2v1h-2zM14 11h1v1h-1zM19 11h1v1h-1zM24 11h1v1h-1zM35 11h1v1h-1zM48 11h1v1h-1zM0 12h1v1h-1zM20 12h1v1h-1zM48 12h1v1h-1zM53 12h1v1h-1zM61 13h1v1h-1zM2 14h1v1h-1zM59 14h1v1h-1zM48 15h1v1h-1zM58 15h1v1h-1zM0 16h1v1h-1zM47 16h1v1h-1zM58 16h1v1h-1zM5 17h1v1h-1zM35 17h1v1h-1zM45 17h1v1h-1zM2 18h1v1h-1zM19 18h1v1h-1zM22 18h1v1h-1zM34 18h1v1h-1zM19 19h1v1h-1zM33 19h1v1h-1zM59 19h1v1h-1zM66 19h1v1h-1zM24 20h1v1h-1zM32 20h1v1h-1zM45 20h1v1h-1zM3 21h1v1h-1zM20 21h1v1h-1zM47 21h1v1h-1zM69 21h1v1h-1zM69 22h1v1h-1zM40 23h1v1h-1zM3 24h1v1h-1zM60 24h1v1h-1zM18 25h1v1h-1zM20 25h1v1h-1zM48 25h1v1h-1zM69 25h1v1h-1zM6 26h1v1h-1zM24 26h1v1h-1zM23 27h1v1h-1zM33 27h1v1h-1zM42 27h1v1h-1zM6 28h1v1h-1zM34 29h1v1h-1zM46 29h1v1h-1zM68 29h1v1h-1zM1 30h1v1h-1zM5 30h1v1h-1zM33 30h1v1h-1zM34 31h1v1h-1zM60 31h1v1h-1zM17 32h1v1h-1zM45 32h1v1h-1zM0 33h1v1h-1zM4 34h1v1h-1zM34 34h1v1h-1zM44 34h1v1h-1zM0 36h1v1h-1zM3 36h1v1h-1zM18 36h1v1h-1zM9 39h1v1h-1zM14 39h1v1h-1zM21 39h1v1h-1zM44 40h1v1h-1zM45 41h1v1h-1zM69 41h1v1h-1zM43 42h1v1h-1zM47 42h1v1h-1zM69 43h1v1h-1zM69 44h1v1h-1zM33 47h1v1h-1zM43 47h1v1h-1zM45 48h1v1h-1zM4 50h1v1h-1zM22 50h1v1h-1zM34 50h1v1h-1zM48 51h1v1h-1zM5 52h1v1h-1zM23 52h1v1h-1zM22 54h1v1h-1zM43 54h1v1h-1zM60 54h1v1h-1zM5 55h1v1h-1zM20 58h1v1h-1zM33 59h1v1h-1zM1 60h1v1h-1zM35 62h1v1h-1zM47 62h1v1h-1zM48 63h1v1h-1zM24 66h1v1h-1zM35 66h1v1h-1zM59 67h1v1h-1zM4 69h1v1h-1zM23 71h1v1h-1zM1 75h1v1h-1zM19 75h1v1h-1zM33 75h1v1h-1z"/><path fill="#44bb97" d="M1 0h1v1h-1zM24 0h1v1h-1zM31 0h1v1h-1zM35 0h1v1h-1zM48 0h1v1h-1zM50 0h1v1h-1zM59 0h1v1h-1zM0 1h1v1h-1zM6 1h1v1h-1zM18 1h1v1h-1zM35 1h1v1h-1zM50 1h1v1h-1zM57 1h1v1h-1zM61 1h1v1h-1zM1 2h1v1h-1zM5 2h1v1h-1zM35 2h1v1h-1zM42 2h1v1h-1zM68 2h1v1h-1zM1 3h1v1h-1zM35 3h1v1h-1zM39 3h1v1h-1zM47 3h1v1h-1zM50 3h1v1h-1zM4 4h1v1h-1zM21 4h1v1h-1zM48 4h1v1h-1zM64 4h1v1h-1zM6 5h1v1h-1zM22 5h1v1h-1zM48 5h1v1h-1zM61 5h1v1h-1zM63 5h1v1h-1zM8 6h1v1h-1zM23 6h2v1h-2zM58 6h1v1h-1zM43 7h1v1h-1zM57 7h1v1h-1zM61 7h1v1h-1zM16 8h1v1h-1zM35 8h1v1h-1zM48 8h1v1h-1zM59 8h1v1h-1zM69 8h1v1h-1zM46 9h1v1h-1zM49 9h1v1h-1zM63 9h1v1h-1zM2 10h1v1h-1zM7 10h1v1h-1zM32 10h1v1h-1zM47 10h1v1h-1zM55 10h1v1h-1zM0 11h1v1h-1zM2 11h1v1h-1zM5 11h1v1h-1zM37 11h1v1h-1zM42 11h1v1h-1zM45 11h1v1h-1zM19 12h1v1h-1zM61 12h1v1h-1zM1 13h1v1h-1zM5 13h1v1h-1zM22 13h1v1h-1zM67 13h1v1h-1zM4 14h2v1h-2zM44 14h1v1h-1zM46 14h1v1h-1zM4 15h1v1h-1zM0 17h1v1h-1zM24 17h1v1h-1zM5 18h1v1h-1zM21 18h1v1h-1zM46 18h1v1h-1zM58 18h1v1h-1zM60 18h1v1h-1zM0 19h1v1h-1zM22 19h1v1h-1zM34 19h1v1h-1zM58 19h1v1h-1zM60 19h1v1h-1zM68 19h1v1h-1zM19 20h1v1h-1zM49 20h1v1h-1zM59 20h1v1h-1zM62 20h1v1h-1zM68 20h1v1h-1zM1 21h1v1h-1zM6 21h1v1h-1zM33 21h1v1h-1zM4 22h1v1h-1zM24 22h1v1h-1zM19 23h1v1h-1zM34 23h1v1h-1zM38 23h1v1h-1zM47 23h1v1h-1zM18 24h2v1h-2zM32 24h1v1h-1zM45 24h1v1h-1zM1 25h2v1h-2zM19 25h1v1h-1zM19 26h1v1h-1zM22 26h1v1h-1zM65 26h1v1h-1zM20 27h1v1h-1zM32 28h1v1h-1zM35 28h1v1h-1zM48 28h1v1h-1zM43 29h1v1h-1zM45 29h1v1h-1zM49 29h1v1h-1zM59 29h1v1h-1zM0 30h1v1h-1zM19 30h1v1h-1zM21 30h1v1h-1zM44 30h2v1h-2zM49 30h1v1h-1zM35 31h1v1h-1zM62 31h1v1h-1zM3 32h1v1h-1zM19 32h1v1h-1zM49 32h1v1h-1zM0 34h1v1h-1zM2 34h1v1h-1zM21 34h1v1h-1zM46 34h1v1h-1zM47 35h1v1h-1zM4 36h1v1h-1zM11 36h1v1h-1zM19 36h1v1h-1zM3 37h1v1h-1zM3 38h1v1h-1zM22 39h1v1h-1zM3 40h1v1h-1zM23 40h1v1h-1zM22 41h1v1h-1zM24 41h1v1h-1zM47 41h1v1h-1zM0 42h1v1h-1zM18 42h1v1h-1zM20 42h1v1h-1zM24 43h1v1h-1zM43 43h2v1h-2zM34 44h1v1h-1zM58 45h1v1h-1zM45 46h1v1h-1zM2 47h1v1h-1zM44 47h1v1h-1zM69 47h1v1h-1zM1 48h1v1h-1zM19 48h1v1h-1zM25 48h1v1h-1zM33 49h1v1h-1zM46 49h1v1h-1zM0 50h1v1h-1zM21 51h2v1h-2zM44 51h1v1h-1zM0 52h1v1h-1zM45 52h1v1h-1zM48 52h1v1h-1zM67 52h1v1h-1zM20 53h2v1h-2zM34 53h1v1h-1zM43 53h2v1h-2zM60 55h1v1h-1zM21 56h1v1h-1zM2 57h1v1h-1zM33 57h1v1h-1zM19 58h1v1h-1zM59 61h1v1h-1zM66 61h1v1h-1zM20 62h1v1h-1zM47 65h1v1h-1zM5 66h1v1h-1zM45 66h1v1h-1zM22 67h1v1h-1zM34 67h1v1h-1zM0 68h1v1h-1zM46 68h1v1h-1zM66 68h1v1h-1zM1 69h1v1h-1zM48 69h1v1h-1zM4 70h1v1h-1zM6 70h1v1h-1zM21 70h1v1h-1zM59 70h1v1h-1zM21 71h1v1h-1zM44 71h1v1h-1zM22 72h1v1h-1zM21 73h1v1h-1zM40 73h1v1h-1z"/><path fill="#4bbc93" d="M13 0h1v1h-1zM23 0h1v1h-1zM33 0h1v1h-1zM38 0h1v1h-1zM44 0h2v1h-2zM58 0h1v1h-1zM2 1h1v1h-1zM5 1h1v1h-1zM14 1h1v1h-1zM20 1h1v1h-1zM44 1h1v1h-1zM64 1h1v1h-1zM68 1h2v1h-2zM3 2h1v1h-1zM6 2h1v1h-1zM37 2h1v1h-1zM46 2h1v1h-1zM62 2h1v1h-1zM25 3h1v1h-1zM36 3h1v1h-1zM46 3h1v1h-1zM52 3h1v1h-1zM69 3h1v1h-1zM17 4h1v1h-1zM20 4h1v1h-1zM41 4h1v1h-1zM44 4h1v1h-1zM60 4h1v1h-1zM19 5h1v1h-1zM25 5h1v1h-1zM6 6h1v1h-1zM22 6h1v1h-1zM25 6h1v1h-1zM36 6h1v1h-1zM42 6h1v1h-1zM18 7h1v1h-1zM22 7h1v1h-1zM32 7h1v1h-1zM60 7h1v1h-1zM19 8h1v1h-1zM21 8h1v1h-1zM32 8h1v1h-1zM49 8h1v1h-1zM68 8h1v1h-1zM3 9h1v1h-1zM7 9h1v1h-1zM62 9h1v1h-1zM18 10h1v1h-1zM42 10h1v1h-1zM69 10h1v1h-1zM3 11h1v1h-1zM21 11h1v1h-1zM44 11h1v1h-1zM5 12h1v1h-1zM17 12h2v1h-2zM31 12h1v1h-1zM43 12h1v1h-1zM60 12h1v1h-1zM65 12h1v1h-1zM0 13h1v1h-1zM19 13h1v1h-1zM46 13h2v1h-2zM64 13h1v1h-1zM3 14h1v1h-1zM18 14h1v1h-1zM58 14h1v1h-1zM16 15h2v1h-2zM20 15h2v1h-2zM24 15h1v1h-1zM26 15h1v1h-1zM36 15h1v1h-1zM47 15h1v1h-1zM63 15h1v1h-1zM32 16h1v1h-1zM41 16h1v1h-1zM48 16h2v1h-2zM61 16h1v1h-1zM69 16h1v1h-1zM2 17h1v1h-1zM6 17h1v1h-1zM18 17h1v1h-1zM20 17h1v1h-1zM49 17h1v1h-1zM61 17h1v1h-1zM14 18h1v1h-1zM44 18h1v1h-1zM59 18h1v1h-1zM7 19h1v1h-1zM18 19h1v1h-1zM38 19h1v1h-1zM6 20h1v1h-1zM21 20h1v1h-1zM23 20h1v1h-1zM40 20h1v1h-1zM64 20h1v1h-1zM69 20h1v1h-1zM7 21h1v1h-1zM18 21h1v1h-1zM24 21h1v1h-1zM34 21h1v1h-1zM44 21h1v1h-1zM0 22h1v1h-1zM19 22h1v1h-1zM34 22h1v1h-1zM62 22h1v1h-1zM9 23h1v1h-1zM35 23h1v1h-1zM43 23h1v1h-1zM63 23h1v1h-1zM8 24h1v1h-1zM24 24h1v1h-1zM44 24h1v1h-1zM16 25h1v1h-1zM33 25h1v1h-1zM43 25h1v1h-1zM61 25h1v1h-1zM3 26h1v1h-1zM5 26h1v1h-1zM60 26h1v1h-1zM69 26h1v1h-1zM0 27h1v1h-1zM3 27h1v1h-1zM6 27h1v1h-1zM31 27h1v1h-1zM5 28h1v1h-1zM59 28h1v1h-1zM65 29h1v1h-1zM22 30h2v1h-2zM67 30h1v1h-1zM0 31h1v1h-1zM4 31h1v1h-1zM45 31h1v1h-1zM20 32h1v1h-1zM33 32h1v1h-1zM44 32h1v1h-1zM3 33h1v1h-1zM23 33h1v1h-1zM48 33h1v1h-1zM63 33h1v1h-1zM23 34h1v1h-1zM32 34h1v1h-1zM43 34h1v1h-1zM45 34h1v1h-1zM61 34h1v1h-1zM64 34h1v1h-1zM48 35h1v1h-1zM58 35h1v1h-1zM66 35h1v1h-1zM20 36h1v1h-1zM24 36h1v1h-1zM32 36h1v1h-1zM48 36h1v1h-1zM69 36h1v1h-1zM21 37h1v1h-1zM33 37h1v1h-1zM60 37h2v1h-2zM20 38h1v1h-1zM23 38h1v1h-1zM19 39h1v1h-1zM29 39h1v1h-1zM45 39h1v1h-1zM4 40h1v1h-1zM8 40h1v1h-1zM24 40h1v1h-1zM35 40h1v1h-1zM58 40h1v1h-1zM18 41h1v1h-1zM32 41h1v1h-1zM40 41h1v1h-1zM46 41h1v1h-1zM58 41h1v1h-1zM62 41h1v1h-1zM3 42h1v1h-1zM49 42h1v1h-1zM60 42h1v1h-1zM2 43h1v1h-1zM18 43h1v1h-1zM21 43h1v1h-1zM32 43h2v1h-2zM46 43h1v1h-1zM4 44h1v1h-1zM18 44h1v1h-1zM43 44h1v1h-1zM19 45h1v1h-1zM45 45h1v1h-1zM59 45h1v1h-1zM2 46h1v1h-1zM35 46h1v1h-1zM47 46h1v1h-1zM0 47h1v1h-1zM3 47h1v1h-1zM5 47h1v1h-1zM60 48h1v1h-1zM48 49h1v1h-1zM58 49h2v1h-2zM66 49h1v1h-1zM1 52h1v1h-1zM4 52h1v1h-1zM22 53h1v1h-1zM6 54h1v1h-1zM35 54h1v1h-1zM1 55h1v1h-1zM6 55h1v1h-1zM18 55h1v1h-1zM48 55h1v1h-1zM0 56h1v1h-1zM4 56h1v1h-1zM34 56h1v1h-1zM38 56h1v1h-1zM47 56h1v1h-1zM44 57h1v1h-1zM23 58h1v1h-1zM34 58h1v1h-1zM4 59h1v1h-1zM28 59h1v1h-1zM39 59h1v1h-1zM43 59h1v1h-1zM59 59h1v1h-1zM20 60h1v1h-1zM47 60h1v1h-1zM2 61h1v1h-1zM5 62h2v1h-2zM42 63h1v1h-1zM59 63h1v1h-1zM19 64h1v1h-1zM33 64h2v1h-2zM1 65h2v1h-2zM4 65h1v1h-1zM19 65h2v1h-2zM23 65h1v1h-1zM21 66h1v1h-1zM33 66h1v1h-1zM60 66h1v1h-1zM12 67h1v1h-1zM69 68h1v1h-1zM0 69h1v1h-1zM60 69h1v1h-1zM22 70h1v1h-1zM35 70h1v1h-1zM45 70h1v1h-1zM15 71h1v1h-1zM32 71h1v1h-1zM33 73h1v1h-1zM2 74h3v1h-3zM18 74h1v1h-1zM23 75h1v1h-1z"/><path fill="#53bd8f" d="M5 0h1v1h-1zM7 0h1v1h-1zM19 0h1v1h-1zM36 0h1v1h-1zM40 0h1v1h-1zM61 0h1v1h-1zM23 1h1v1h-1zM29 1h1v1h-1zM39 1h1v1h-1zM49 1h1v1h-1zM53 1h1v1h-1zM58 1h1v1h-1zM24 2h1v1h-1zM26 2h1v1h-1zM30 2h1v1h-1zM45 2h1v1h-1zM48 2h1v1h-1zM0 3h1v1h-1zM20 3h1v1h-1zM33 3h2v1h-2zM45 3h1v1h-1zM49 3h1v1h-1zM59 3h1v1h-1zM2 4h1v1h-1zM33 4h1v1h-1zM35 4h1v1h-1zM20 5h2v1h-2zM23 5h1v1h-1zM32 5h1v1h-1zM46 5h1v1h-1zM67 5h1v1h-1zM0 6h1v1h-1zM2 6h1v1h-1zM5 6h1v1h-1zM13 6h1v1h-1zM26 6h1v1h-1zM54 6h1v1h-1zM59 6h1v1h-1zM61 6h1v1h-1zM1 7h1v1h-1zM5 7h1v1h-1zM23 7h1v1h-1zM31 7h1v1h-1zM33 7h1v1h-1zM36 7h1v1h-1zM49 7h1v1h-1zM67 7h1v1h-1zM0 8h1v1h-1zM20 8h1v1h-1zM27 8h2v1h-2zM45 8h1v1h-1zM61 8h2v1h-2zM65 8h1v1h-1zM2 9h1v1h-1zM18 9h1v1h-1zM21 9h1v1h-1zM27 9h1v1h-1zM60 9h1v1h-1zM68 9h1v1h-1zM4 10h1v1h-1zM6 10h1v1h-1zM33 10h1v1h-1zM40 10h2v1h-2zM17 11h2v1h-2zM30 11h1v1h-1zM43 11h1v1h-1zM58 11h1v1h-1zM61 11h1v1h-1zM1 12h1v1h-1zM22 12h1v1h-1zM25 12h1v1h-1zM36 12h1v1h-1zM4 13h1v1h-1zM34 13h2v1h-2zM45 13h1v1h-1zM50 13h1v1h-1zM62 13h1v1h-1zM0 14h1v1h-1zM6 14h1v1h-1zM33 14h1v1h-1zM45 14h1v1h-1zM10 15h1v1h-1zM25 15h1v1h-1zM32 15h1v1h-1zM35 15h1v1h-1zM60 15h1v1h-1zM1 16h1v1h-1zM27 16h1v1h-1zM35 16h1v1h-1zM59 16h1v1h-1zM21 17h2v1h-2zM32 17h1v1h-1zM34 17h1v1h-1zM44 17h1v1h-1zM4 18h1v1h-1zM36 18h1v1h-1zM45 18h1v1h-1zM48 18h1v1h-1zM6 19h1v1h-1zM44 19h1v1h-1zM67 19h1v1h-1zM69 19h1v1h-1zM3 20h1v1h-1zM34 20h1v1h-1zM46 20h1v1h-1zM58 20h1v1h-1zM2 21h1v1h-1zM23 21h1v1h-1zM25 21h1v1h-1zM6 22h1v1h-1zM44 22h1v1h-1zM63 22h1v1h-1zM67 22h1v1h-1zM58 23h1v1h-1zM69 23h1v1h-1zM1 24h1v1h-1zM23 24h1v1h-1zM27 24h1v1h-1zM33 24h1v1h-1zM35 24h1v1h-1zM43 24h1v1h-1zM61 24h1v1h-1zM35 25h1v1h-1zM60 25h1v1h-1zM0 26h1v1h-1zM17 26h1v1h-1zM32 26h1v1h-1zM35 26h1v1h-1zM44 26h1v1h-1zM49 26h1v1h-1zM59 26h1v1h-1zM32 27h1v1h-1zM34 27h1v1h-1zM58 27h2v1h-2zM64 27h1v1h-1zM22 28h1v1h-1zM36 28h1v1h-1zM42 28h2v1h-2zM61 28h1v1h-1zM32 29h1v1h-1zM47 29h1v1h-1zM60 29h1v1h-1zM17 30h1v1h-1zM34 30h1v1h-1zM58 30h1v1h-1zM69 30h1v1h-1zM21 31h1v1h-1zM24 31h1v1h-1zM46 31h1v1h-1zM4 32h1v1h-1zM35 32h1v1h-1zM62 32h1v1h-1zM2 33h1v1h-1zM67 33h1v1h-1zM22 34h1v1h-1zM2 35h1v1h-1zM35 35h1v1h-1zM61 35h1v1h-1zM17 36h1v1h-1zM46 36h1v1h-1zM60 36h1v1h-1zM5 38h1v1h-1zM18 38h1v1h-1zM24 38h1v1h-1zM44 38h2v1h-2zM48 38h1v1h-1zM69 38h1v1h-1zM6 39h1v1h-1zM25 39h1v1h-1zM33 39h1v1h-1zM46 39h1v1h-1zM0 40h1v1h-1zM19 40h3v1h-3zM19 41h1v1h-1zM42 41h2v1h-2zM48 42h1v1h-1zM59 42h1v1h-1zM3 43h4v1h-4zM58 43h1v1h-1zM2 44h1v1h-1zM5 44h1v1h-1zM29 44h1v1h-1zM32 44h1v1h-1zM20 45h1v1h-1zM33 46h1v1h-1zM44 46h1v1h-1zM48 46h1v1h-1zM59 46h1v1h-1zM22 47h1v1h-1zM24 47h1v1h-1zM35 48h1v1h-1zM38 48h1v1h-1zM59 48h1v1h-1zM69 48h1v1h-1zM35 49h1v1h-1zM37 49h1v1h-1zM39 49h1v1h-1zM60 49h2v1h-2zM69 49h1v1h-1zM6 50h1v1h-1zM18 50h1v1h-1zM21 50h1v1h-1zM23 50h1v1h-1zM18 51h1v1h-1zM58 51h1v1h-1zM18 52h1v1h-1zM43 52h1v1h-1zM21 55h2v1h-2zM34 55h1v1h-1zM2 56h1v1h-1zM20 56h1v1h-1zM45 56h1v1h-1zM19 57h2v1h-2zM42 57h1v1h-1zM46 57h1v1h-1zM61 57h1v1h-1zM3 58h1v1h-1zM6 58h1v1h-1zM44 58h1v1h-1zM1 59h1v1h-1zM46 59h1v1h-1zM69 59h1v1h-1zM5 60h1v1h-1zM19 60h1v1h-1zM21 60h1v1h-1zM43 60h1v1h-1zM48 60h1v1h-1zM23 61h1v1h-1zM20 63h1v1h-1zM21 64h1v1h-1zM47 64h1v1h-1zM5 65h1v1h-1zM64 65h1v1h-1zM69 65h1v1h-1zM23 67h1v1h-1zM47 67h1v1h-1zM21 69h1v1h-1zM59 69h1v1h-1zM48 70h1v1h-1zM19 71h1v1h-1zM59 71h1v1h-1zM5 72h1v1h-1zM20 72h1v1h-1zM23 72h1v1h-1zM44 72h1v1h-1zM34 73h1v1h-1zM44 73h1v1h-1zM48 73h1v1h-1zM0 74h1v1h-1zM23 74h1v1h-1zM34 74h1v1h-1z"/><path fill="#5bbd8b" d="M4 0h1v1h-1zM34 0h1v1h-1zM55 0h1v1h-1zM68 0h2v1h-2zM1 1h1v1h-1zM12 1h1v1h-1zM25 1h1v1h-1zM55 1h1v1h-1zM62 1h1v1h-1zM21 2h1v1h-1zM32 2h1v1h-1zM34 2h1v1h-1zM39 2h1v1h-1zM43 2h1v1h-1zM49 2h2v1h-2zM58 2h1v1h-1zM4 3h1v1h-1zM9 3h1v1h-1zM32 3h1v1h-1zM43 3h1v1h-1zM48 3h1v1h-1zM66 3h1v1h-1zM7 4h1v1h-1zM12 4h1v1h-1zM25 4h1v1h-1zM31 4h1v1h-1zM46 4h1v1h-1zM49 4h2v1h-2zM63 4h1v1h-1zM65 4h1v1h-1zM0 5h1v1h-1zM8 5h1v1h-1zM13 5h1v1h-1zM28 5h1v1h-1zM38 5h1v1h-1zM66 5h1v1h-1zM40 6h1v1h-1zM50 6h1v1h-1zM20 7h1v1h-1zM44 7h1v1h-1zM62 7h1v1h-1zM66 7h1v1h-1zM69 7h1v1h-1zM7 8h1v1h-1zM36 8h1v1h-1zM57 8h1v1h-1zM5 9h1v1h-1zM8 9h1v1h-1zM33 9h1v1h-1zM35 9h1v1h-1zM39 9h1v1h-1zM54 9h1v1h-1zM58 9h1v1h-1zM64 9h1v1h-1zM66 9h1v1h-1zM3 10h1v1h-1zM39 10h1v1h-1zM44 10h1v1h-1zM61 10h1v1h-1zM11 11h1v1h-1zM25 11h1v1h-1zM34 11h1v1h-1zM59 11h1v1h-1zM65 11h1v1h-1zM3 12h1v1h-1zM23 12h1v1h-1zM33 12h1v1h-1zM35 12h1v1h-1zM39 12h1v1h-1zM42 12h1v1h-1zM67 12h2v1h-2zM3 13h1v1h-1zM43 13h1v1h-1zM68 13h1v1h-1zM19 14h2v1h-2zM35 14h1v1h-1zM43 14h1v1h-1zM49 14h1v1h-1zM65 14h1v1h-1zM68 14h1v1h-1zM2 15h1v1h-1zM7 15h1v1h-1zM12 15h1v1h-1zM18 15h1v1h-1zM22 15h1v1h-1zM62 15h1v1h-1zM69 15h1v1h-1zM5 16h1v1h-1zM21 16h1v1h-1zM33 16h1v1h-1zM46 16h1v1h-1zM41 17h1v1h-1zM60 17h1v1h-1zM63 17h1v1h-1zM67 17h1v1h-1zM69 17h1v1h-1zM0 18h1v1h-1zM3 18h1v1h-1zM23 18h1v1h-1zM43 18h1v1h-1zM69 18h1v1h-1zM32 19h1v1h-1zM47 19h1v1h-1zM65 19h1v1h-1zM4 20h1v1h-1zM14 20h1v1h-1zM35 20h1v1h-1zM10 21h1v1h-1zM32 21h1v1h-1zM49 21h1v1h-1zM62 21h1v1h-1zM64 21h1v1h-1zM17 22h2v1h-2zM49 22h1v1h-1zM60 22h1v1h-1zM6 23h1v1h-1zM23 23h1v1h-1zM30 23h1v1h-1zM5 24h1v1h-1zM48 24h1v1h-1zM57 24h1v1h-1zM69 24h1v1h-1zM34 25h1v1h-1zM36 25h1v1h-1zM68 25h1v1h-1zM4 26h1v1h-1zM21 26h1v1h-1zM33 26h1v1h-1zM35 27h1v1h-1zM49 27h1v1h-1zM56 27h1v1h-1zM3 28h2v1h-2zM21 28h1v1h-1zM24 28h1v1h-1zM58 28h1v1h-1zM60 28h1v1h-1zM4 29h3v1h-3zM25 29h1v1h-1zM64 29h1v1h-1zM3 30h1v1h-1zM7 30h1v1h-1zM35 30h1v1h-1zM46 30h1v1h-1zM20 31h1v1h-1zM32 31h1v1h-1zM61 31h1v1h-1zM63 31h1v1h-1zM65 31h1v1h-1zM43 32h1v1h-1zM46 32h1v1h-1zM57 32h1v1h-1zM63 32h1v1h-1zM18 33h1v1h-1zM22 33h1v1h-1zM24 33h1v1h-1zM37 33h1v1h-1zM58 33h1v1h-1zM69 33h1v1h-1zM3 34h1v1h-1zM20 34h1v1h-1zM48 34h1v1h-1zM6 35h1v1h-1zM20 35h3v1h-3zM45 35h1v1h-1zM59 35h1v1h-1zM68 35h1v1h-1zM22 36h1v1h-1zM43 36h1v1h-1zM49 36h1v1h-1zM2 37h1v1h-1zM5 37h1v1h-1zM18 37h1v1h-1zM0 38h1v1h-1zM4 38h1v1h-1zM13 38h1v1h-1zM22 38h1v1h-1zM49 38h1v1h-1zM32 39h1v1h-1zM60 39h1v1h-1zM36 40h1v1h-1zM46 40h1v1h-1zM52 40h1v1h-1zM68 40h1v1h-1zM4 41h1v1h-1zM6 41h1v1h-1zM23 41h1v1h-1zM59 41h1v1h-1zM66 41h1v1h-1zM1 42h1v1h-1zM4 42h1v1h-1zM24 42h1v1h-1zM22 43h1v1h-1zM59 43h1v1h-1zM33 44h1v1h-1zM35 44h1v1h-1zM46 44h1v1h-1zM49 44h1v1h-1zM18 45h1v1h-1zM24 45h1v1h-1zM67 45h1v1h-1zM6 46h1v1h-1zM60 46h1v1h-1zM20 47h2v1h-2zM32 47h1v1h-1zM60 47h2v1h-2zM0 48h1v1h-1zM2 48h1v1h-1zM32 48h2v1h-2zM3 49h1v1h-1zM6 49h1v1h-1zM18 49h1v1h-1zM40 49h1v1h-1zM47 49h1v1h-1zM19 50h2v1h-2zM35 50h1v1h-1zM48 50h1v1h-1zM59 50h1v1h-1zM1 51h1v1h-1zM3 51h1v1h-1zM6 51h1v1h-1zM24 51h1v1h-1zM33 51h2v1h-2zM46 51h1v1h-1zM60 51h1v1h-1zM24 52h1v1h-1zM52 52h1v1h-1zM5 53h2v1h-2zM24 53h1v1h-1zM32 53h1v1h-1zM46 53h1v1h-1zM2 54h1v1h-1zM18 54h1v1h-1zM23 54h2v1h-2zM0 55h1v1h-1zM45 55h2v1h-2zM49 55h1v1h-1zM58 55h2v1h-2zM33 56h1v1h-1zM48 56h1v1h-1zM3 57h1v1h-1zM59 57h2v1h-2zM22 58h1v1h-1zM33 58h1v1h-1zM47 58h2v1h-2zM5 59h1v1h-1zM0 60h1v1h-1zM2 60h1v1h-1zM33 60h1v1h-1zM19 61h1v1h-1zM21 61h1v1h-1zM33 61h1v1h-1zM38 61h1v1h-1zM46 61h1v1h-1zM22 62h1v1h-1zM48 62h1v1h-1zM69 62h1v1h-1zM2 63h1v1h-1zM6 63h1v1h-1zM34 63h1v1h-1zM44 63h1v1h-1zM64 63h1v1h-1zM61 64h1v1h-1zM0 65h1v1h-1zM22 65h1v1h-1zM33 65h1v1h-1zM6 66h1v1h-1zM23 66h1v1h-1zM34 66h1v1h-1zM0 67h1v1h-1zM4 67h1v1h-1zM33 67h1v1h-1zM2 68h1v1h-1zM33 68h1v1h-1zM38 68h1v1h-1zM3 69h1v1h-1zM2 70h1v1h-1zM5 70h1v1h-1zM19 70h1v1h-1zM34 70h1v1h-1zM22 71h1v1h-1zM0 72h1v1h-1zM0 73h1v1h-1zM23 73h1v1h-1zM48 74h1v1h-1zM3 75h1v1h-1zM34 75h1v1h-1z"/><path fill="#63be87" d="M9 0h2v1h-2zM63 0h1v1h-1zM8 1h1v1h-1zM13 1h1v1h-1zM34 1h1v1h-1zM41 1h1v1h-1zM46 1h1v1h-1zM59 1h1v1h-1zM0 2h1v1h-1zM9 2h1v1h-1zM23 2h1v1h-1zM25 2h1v1h-1zM27 2h2v1h-2zM41 2h1v1h-1zM55 2h1v1h-1zM69 2h1v1h-1zM19 3h1v1h-1zM30 3h1v1h-1zM55 3h1v1h-1zM15 4h1v1h-1zM18 4h1v1h-1zM28 4h1v1h-1zM66 4h1v1h-1zM69 4h1v1h-1zM1 5h1v1h-1zM16 5h1v1h-1zM18 5h1v1h-1zM54 5h1v1h-1zM60 5h1v1h-1zM12 6h1v1h-1zM33 6h1v1h-1zM38 6h1v1h-1zM49 6h1v1h-1zM0 7h1v1h-1zM38 7h1v1h-1zM45 7h1v1h-1zM50 7h1v1h-1zM64 7h1v1h-1zM2 8h1v1h-1zM22 8h1v1h-1zM25 8h1v1h-1zM31 8h1v1h-1zM52 8h1v1h-1zM63 8h2v1h-2zM67 8h1v1h-1zM36 9h1v1h-1zM44 9h1v1h-1zM48 9h1v1h-1zM14 10h1v1h-1zM21 10h1v1h-1zM35 10h1v1h-1zM37 10h1v1h-1zM49 10h1v1h-1zM58 10h2v1h-2zM16 11h1v1h-1zM20 11h1v1h-1zM23 11h1v1h-1zM31 11h1v1h-1zM36 11h1v1h-1zM68 11h1v1h-1zM7 12h1v1h-1zM26 12h1v1h-1zM38 12h1v1h-1zM46 12h1v1h-1zM58 12h1v1h-1zM18 13h1v1h-1zM49 13h1v1h-1zM58 13h1v1h-1zM69 13h1v1h-1zM25 14h1v1h-1zM47 14h1v1h-1zM55 14h1v1h-1zM61 14h1v1h-1zM9 15h1v1h-1zM15 15h1v1h-1zM43 15h3v1h-3zM50 15h1v1h-1zM4 16h1v1h-1zM24 16h1v1h-1zM44 16h1v1h-1zM54 16h1v1h-1zM67 16h1v1h-1zM7 17h1v1h-1zM17 17h1v1h-1zM19 17h1v1h-1zM68 17h1v1h-1zM6 18h1v1h-1zM31 18h1v1h-1zM37 18h1v1h-1zM41 18h1v1h-1zM61 18h1v1h-1zM15 19h1v1h-1zM24 19h1v1h-1zM17 20h1v1h-1zM43 20h1v1h-1zM48 20h1v1h-1zM0 21h1v1h-1zM4 21h1v1h-1zM43 21h1v1h-1zM59 21h1v1h-1zM42 22h1v1h-1zM58 22h1v1h-1zM61 22h1v1h-1zM65 22h1v1h-1zM68 22h1v1h-1zM0 23h1v1h-1zM2 23h2v1h-2zM5 23h1v1h-1zM25 23h1v1h-1zM29 23h1v1h-1zM44 23h1v1h-1zM54 23h1v1h-1zM14 24h1v1h-1zM20 24h1v1h-1zM42 24h1v1h-1zM24 25h1v1h-1zM32 25h1v1h-1zM39 25h1v1h-1zM46 25h1v1h-1zM59 25h1v1h-1zM64 25h1v1h-1zM34 26h1v1h-1zM1 27h1v1h-1zM5 27h1v1h-1zM22 27h1v1h-1zM24 27h1v1h-1zM63 27h1v1h-1zM69 27h1v1h-1zM18 28h1v1h-1zM23 28h1v1h-1zM34 28h1v1h-1zM45 28h2v1h-2zM62 28h1v1h-1zM1 29h1v1h-1zM33 29h1v1h-1zM36 29h1v1h-1zM61 29h1v1h-1zM6 30h1v1h-1zM18 30h1v1h-1zM24 30h1v1h-1zM48 30h1v1h-1zM60 30h1v1h-1zM7 31h1v1h-1zM1 32h1v1h-1zM18 32h1v1h-1zM21 32h1v1h-1zM30 32h1v1h-1zM61 32h1v1h-1zM1 33h1v1h-1zM7 33h1v1h-1zM21 33h1v1h-1zM32 33h1v1h-1zM59 33h1v1h-1zM68 33h1v1h-1zM50 34h1v1h-1zM67 34h1v1h-1zM1 35h1v1h-1zM5 35h1v1h-1zM19 35h1v1h-1zM27 35h1v1h-1zM33 35h1v1h-1zM36 35h1v1h-1zM60 35h1v1h-1zM65 35h1v1h-1zM69 35h1v1h-1zM61 36h1v1h-1zM66 36h1v1h-1zM1 37h1v1h-1zM23 37h1v1h-1zM35 37h1v1h-1zM42 37h2v1h-2zM66 37h1v1h-1zM68 37h2v1h-2zM7 38h1v1h-1zM43 38h1v1h-1zM46 38h1v1h-1zM62 38h1v1h-1zM3 39h1v1h-1zM43 39h1v1h-1zM49 39h1v1h-1zM62 39h1v1h-1zM68 39h1v1h-1zM1 40h1v1h-1zM43 40h1v1h-1zM45 40h1v1h-1zM5 41h1v1h-1zM33 41h1v1h-1zM60 41h1v1h-1zM2 42h1v1h-1zM5 42h1v1h-1zM34 42h2v1h-2zM39 42h1v1h-1zM69 42h1v1h-1zM0 43h1v1h-1zM0 44h1v1h-1zM6 44h1v1h-1zM61 44h1v1h-1zM0 45h1v1h-1zM8 45h1v1h-1zM60 45h2v1h-2zM19 46h1v1h-1zM6 48h1v1h-1zM23 48h1v1h-1zM48 48h1v1h-1zM4 49h2v1h-2zM44 49h2v1h-2zM32 50h2v1h-2zM43 50h1v1h-1zM58 50h1v1h-1zM69 50h1v1h-1zM45 51h1v1h-1zM58 52h3v1h-3zM47 53h1v1h-1zM58 53h1v1h-1zM69 53h1v1h-1zM20 54h1v1h-1zM46 54h1v1h-1zM49 54h1v1h-1zM4 55h1v1h-1zM20 55h1v1h-1zM47 55h1v1h-1zM6 56h1v1h-1zM23 56h1v1h-1zM6 57h1v1h-1zM23 57h1v1h-1zM43 57h1v1h-1zM69 57h1v1h-1zM29 58h1v1h-1zM60 58h2v1h-2zM69 58h1v1h-1zM21 59h1v1h-1zM23 59h1v1h-1zM34 59h1v1h-1zM4 60h1v1h-1zM22 60h1v1h-1zM46 60h1v1h-1zM61 60h1v1h-1zM3 61h1v1h-1zM44 61h1v1h-1zM47 61h1v1h-1zM61 61h1v1h-1zM23 62h1v1h-1zM34 62h1v1h-1zM43 62h2v1h-2zM61 62h1v1h-1zM1 63h1v1h-1zM4 63h1v1h-1zM20 64h1v1h-1zM27 64h1v1h-1zM45 64h1v1h-1zM24 65h1v1h-1zM45 65h1v1h-1zM48 66h1v1h-1zM48 67h1v1h-1zM5 68h1v1h-1zM21 68h1v1h-1zM44 68h1v1h-1zM2 69h1v1h-1zM18 69h1v1h-1zM20 69h1v1h-1zM22 69h1v1h-1zM47 69h1v1h-1zM44 70h1v1h-1zM67 71h1v1h-1zM6 72h1v1h-1zM33 72h1v1h-1zM45 72h1v1h-1zM47 72h2v1h-2zM5 73h1v1h-1zM45 73h1v1h-1zM61 73h1v1h-1zM21 74h2v1h-2zM2 75h1v1h-1zM5 75h1v1h-1zM53 75h1v1h-1zM59 75h1v1h-1z"/><path fill="#6abe83" d="M2 0h1v1h-1zM8 0h1v1h-1zM20 0h1v1h-1zM25 0h1v1h-1zM27 0h1v1h-1zM32 0h1v1h-1zM67 0h1v1h-1zM9 1h1v1h-1zM38 1h1v1h-1zM40 1h1v1h-1zM43 1h1v1h-1zM60 1h1v1h-1zM2 2h1v1h-1zM11 2h1v1h-1zM14 2h1v1h-1zM29 2h1v1h-1zM33 2h1v1h-1zM54 2h1v1h-1zM63 2h1v1h-1zM12 3h1v1h-1zM31 3h1v1h-1zM61 3h1v1h-1zM68 3h1v1h-1zM8 4h1v1h-1zM13 4h1v1h-1zM23 4h1v1h-1zM26 4h2v1h-2zM32 4h1v1h-1zM38 4h1v1h-1zM47 4h1v1h-1zM56 4h1v1h-1zM67 4h1v1h-1zM4 5h1v1h-1zM7 5h1v1h-1zM58 5h1v1h-1zM43 6h1v1h-1zM65 6h1v1h-1zM2 7h1v1h-1zM7 7h1v1h-1zM25 7h1v1h-1zM35 7h1v1h-1zM53 7h1v1h-1zM4 8h2v1h-2zM17 8h1v1h-1zM43 8h1v1h-1zM47 8h1v1h-1zM0 9h1v1h-1zM11 9h1v1h-1zM22 9h1v1h-1zM24 9h1v1h-1zM32 9h1v1h-1zM38 9h1v1h-1zM45 9h1v1h-1zM59 9h1v1h-1zM67 9h1v1h-1zM17 10h1v1h-1zM24 10h2v1h-2zM36 10h1v1h-1zM48 10h1v1h-1zM51 10h1v1h-1zM60 10h1v1h-1zM9 11h1v1h-1zM27 11h1v1h-1zM60 11h1v1h-1zM6 12h1v1h-1zM11 12h1v1h-1zM13 12h1v1h-1zM24 12h1v1h-1zM32 12h1v1h-1zM34 12h1v1h-1zM57 12h1v1h-1zM2 13h1v1h-1zM14 13h1v1h-1zM20 13h1v1h-1zM36 13h1v1h-1zM39 13h1v1h-1zM66 13h1v1h-1zM16 14h1v1h-1zM36 14h1v1h-1zM38 14h1v1h-1zM1 15h1v1h-1zM23 15h1v1h-1zM27 15h2v1h-2zM7 16h1v1h-1zM15 16h1v1h-1zM25 16h1v1h-1zM55 16h1v1h-1zM57 16h1v1h-1zM62 16h1v1h-1zM68 16h1v1h-1zM46 17h1v1h-1zM50 17h1v1h-1zM55 17h1v1h-1zM57 17h1v1h-1zM59 17h1v1h-1zM64 17h1v1h-1zM1 18h1v1h-1zM28 18h1v1h-1zM42 18h1v1h-1zM67 18h1v1h-1zM20 19h1v1h-1zM23 19h1v1h-1zM31 19h1v1h-1zM50 19h1v1h-1zM33 20h1v1h-1zM57 20h1v1h-1zM36 21h1v1h-1zM3 22h1v1h-1zM21 22h1v1h-1zM40 22h1v1h-1zM46 22h1v1h-1zM50 22h1v1h-1zM56 22h1v1h-1zM1 23h1v1h-1zM21 23h1v1h-1zM31 23h1v1h-1zM60 23h1v1h-1zM62 23h1v1h-1zM65 23h1v1h-1zM4 24h1v1h-1zM28 24h1v1h-1zM36 24h1v1h-1zM41 24h1v1h-1zM49 24h1v1h-1zM31 25h1v1h-1zM44 25h1v1h-1zM58 25h1v1h-1zM62 25h1v1h-1zM65 25h1v1h-1zM23 26h1v1h-1zM42 26h1v1h-1zM48 26h1v1h-1zM64 26h1v1h-1zM7 27h1v1h-1zM18 27h1v1h-1zM51 27h1v1h-1zM57 27h1v1h-1zM0 28h1v1h-1zM17 28h1v1h-1zM0 29h1v1h-1zM16 29h2v1h-2zM43 30h1v1h-1zM64 30h1v1h-1zM1 31h1v1h-1zM5 31h1v1h-1zM18 31h1v1h-1zM22 32h3v1h-3zM34 32h1v1h-1zM58 32h1v1h-1zM68 32h1v1h-1zM6 33h1v1h-1zM35 33h1v1h-1zM42 33h1v1h-1zM45 33h1v1h-1zM64 33h1v1h-1zM66 33h1v1h-1zM5 34h1v1h-1zM35 34h1v1h-1zM60 34h1v1h-1zM4 35h1v1h-1zM44 35h1v1h-1zM9 36h1v1h-1zM35 36h1v1h-1zM42 36h1v1h-1zM6 37h1v1h-1zM32 37h1v1h-1zM34 37h1v1h-1zM41 37h1v1h-1zM45 37h1v1h-1zM47 37h1v1h-1zM62 37h1v1h-1zM1 38h1v1h-1zM42 38h1v1h-1zM2 39h1v1h-1zM35 39h1v1h-1zM48 39h1v1h-1zM66 39h1v1h-1zM69 40h1v1h-1zM3 41h1v1h-1zM20 41h1v1h-1zM44 41h1v1h-1zM48 41h1v1h-1zM58 42h1v1h-1zM1 43h1v1h-1zM19 43h1v1h-1zM34 43h1v1h-1zM49 43h1v1h-1zM3 44h1v1h-1zM21 44h1v1h-1zM59 44h2v1h-2zM65 44h2v1h-2zM23 45h1v1h-1zM35 45h1v1h-1zM69 45h1v1h-1zM18 46h1v1h-1zM62 46h1v1h-1zM65 46h1v1h-1zM18 47h1v1h-1zM34 47h1v1h-1zM18 48h1v1h-1zM22 48h1v1h-1zM0 49h1v1h-1zM20 49h1v1h-1zM51 49h1v1h-1zM17 50h1v1h-1zM32 51h1v1h-1zM43 51h1v1h-1zM6 52h1v1h-1zM19 52h1v1h-1zM21 52h2v1h-2zM61 52h1v1h-1zM69 52h1v1h-1zM2 53h1v1h-1zM60 53h1v1h-1zM39 54h1v1h-1zM47 54h2v1h-2zM69 54h1v1h-1zM33 55h1v1h-1zM42 55h1v1h-1zM44 55h1v1h-1zM32 56h1v1h-1zM58 56h1v1h-1zM1 57h1v1h-1zM58 58h1v1h-1zM22 59h1v1h-1zM49 59h1v1h-1zM63 59h1v1h-1zM24 60h1v1h-1zM69 60h1v1h-1zM0 61h1v1h-1zM4 61h2v1h-2zM20 61h1v1h-1zM34 61h1v1h-1zM59 62h1v1h-1zM0 63h1v1h-1zM18 63h1v1h-1zM23 63h1v1h-1zM33 63h1v1h-1zM46 63h2v1h-2zM5 64h2v1h-2zM18 64h1v1h-1zM44 64h1v1h-1zM68 64h1v1h-1zM3 65h1v1h-1zM21 65h1v1h-1zM37 65h1v1h-1zM0 66h2v1h-2zM3 66h1v1h-1zM19 66h1v1h-1zM19 67h1v1h-1zM46 67h1v1h-1zM60 67h1v1h-1zM47 68h2v1h-2zM59 68h1v1h-1zM6 69h1v1h-1zM34 69h1v1h-1zM44 69h1v1h-1zM46 69h1v1h-1zM69 69h1v1h-1zM1 70h1v1h-1zM3 70h1v1h-1zM47 70h1v1h-1zM0 71h1v1h-1zM4 71h1v1h-1zM60 71h1v1h-1zM3 72h1v1h-1zM19 72h1v1h-1zM59 72h1v1h-1zM3 73h1v1h-1zM47 74h1v1h-1zM47 75h1v1h-1z"/><path fill="#72bf80" d="M11 0h1v1h-1zM16 0h1v1h-1zM41 0h1v1h-1zM56 0h1v1h-1zM65 0h1v1h-1zM37 1h1v1h-1zM42 1h1v1h-1zM63 1h1v1h-1zM66 1h1v1h-1zM16 2h1v1h-1zM38 2h1v1h-1zM57 2h1v1h-1zM61 2h1v1h-1zM67 2h1v1h-1zM13 3h1v1h-1zM60 3h1v1h-1zM10 4h1v1h-1zM36 4h1v1h-1zM62 4h1v1h-1zM11 5h1v1h-1zM17 5h1v1h-1zM29 5h1v1h-1zM36 5h2v1h-2zM39 5h1v1h-1zM10 6h1v1h-1zM14 6h2v1h-2zM17 6h1v1h-1zM29 6h1v1h-1zM57 6h1v1h-1zM67 6h2v1h-2zM3 7h1v1h-1zM15 7h1v1h-1zM21 7h1v1h-1zM12 8h2v1h-2zM15 8h1v1h-1zM24 8h1v1h-1zM51 8h1v1h-1zM55 8h1v1h-1zM10 9h1v1h-1zM40 9h1v1h-1zM50 9h1v1h-1zM22 10h1v1h-1zM31 10h1v1h-1zM56 10h1v1h-1zM62 10h2v1h-2zM26 11h1v1h-1zM54 11h1v1h-1zM57 11h1v1h-1zM21 12h1v1h-1zM30 12h1v1h-1zM45 12h1v1h-1zM50 12h1v1h-1zM54 12h1v1h-1zM63 12h1v1h-1zM21 13h1v1h-1zM28 13h1v1h-1zM31 13h1v1h-1zM41 13h2v1h-2zM54 13h1v1h-1zM59 13h1v1h-1zM1 14h1v1h-1zM34 14h1v1h-1zM50 14h1v1h-1zM53 14h1v1h-1zM33 15h1v1h-1zM39 15h1v1h-1zM41 15h1v1h-1zM57 15h1v1h-1zM14 16h1v1h-1zM17 16h1v1h-1zM20 16h1v1h-1zM40 16h1v1h-1zM10 17h1v1h-1zM25 17h1v1h-1zM43 17h1v1h-1zM51 17h1v1h-1zM17 18h1v1h-1zM20 18h1v1h-1zM29 18h1v1h-1zM38 18h1v1h-1zM47 18h1v1h-1zM62 18h1v1h-1zM64 18h1v1h-1zM2 19h1v1h-1zM42 19h1v1h-1zM54 19h1v1h-1zM18 20h1v1h-1zM22 20h1v1h-1zM42 20h1v1h-1zM63 20h1v1h-1zM65 20h1v1h-1zM26 21h1v1h-1zM29 21h1v1h-1zM45 21h1v1h-1zM50 21h1v1h-1zM52 21h2v1h-2zM58 21h1v1h-1zM65 21h1v1h-1zM67 21h1v1h-1zM8 22h1v1h-1zM30 22h1v1h-1zM41 22h1v1h-1zM6 24h1v1h-1zM31 24h1v1h-1zM62 24h1v1h-1zM67 24h2v1h-2zM5 25h1v1h-1zM7 25h1v1h-1zM22 25h1v1h-1zM40 25h3v1h-3zM49 25h1v1h-1zM18 26h1v1h-1zM29 26h1v1h-1zM62 26h1v1h-1zM36 27h1v1h-1zM65 28h1v1h-1zM24 29h1v1h-1zM10 30h1v1h-1zM20 30h1v1h-1zM25 30h1v1h-1zM42 30h1v1h-1zM63 30h1v1h-1zM39 31h1v1h-1zM41 31h2v1h-2zM58 31h1v1h-1zM47 32h1v1h-1zM59 32h1v1h-1zM60 33h1v1h-1zM1 34h1v1h-1zM19 34h1v1h-1zM24 34h1v1h-1zM49 34h1v1h-1zM24 35h1v1h-1zM62 35h1v1h-1zM1 36h1v1h-1zM6 36h1v1h-1zM44 36h1v1h-1zM58 36h1v1h-1zM63 36h1v1h-1zM22 37h1v1h-1zM65 37h1v1h-1zM6 38h1v1h-1zM19 38h1v1h-1zM32 38h1v1h-1zM36 38h1v1h-1zM59 38h1v1h-1zM61 38h1v1h-1zM40 39h1v1h-1zM47 39h1v1h-1zM58 39h1v1h-1zM61 39h1v1h-1zM2 40h1v1h-1zM18 40h1v1h-1zM33 40h1v1h-1zM61 40h2v1h-2zM1 41h1v1h-1zM13 41h1v1h-1zM35 41h1v1h-1zM64 41h1v1h-1zM19 42h1v1h-1zM22 42h1v1h-1zM32 42h1v1h-1zM35 43h1v1h-1zM39 43h1v1h-1zM47 43h1v1h-1zM65 43h1v1h-1zM47 44h1v1h-1zM56 44h1v1h-1zM58 44h1v1h-1zM64 44h1v1h-1zM44 45h1v1h-1zM49 45h1v1h-1zM65 45h1v1h-1zM4 46h1v1h-1zM21 46h1v1h-1zM32 46h1v1h-1zM1 47h1v1h-1zM6 47h1v1h-1zM58 47h1v1h-1zM15 48h1v1h-1zM37 48h1v1h-1zM43 48h2v1h-2zM58 48h1v1h-1zM21 49h2v1h-2zM32 49h1v1h-1zM43 49h1v1h-1zM49 49h1v1h-1zM45 50h2v1h-2zM64 50h1v1h-1zM0 51h1v1h-1zM2 51h1v1h-1zM5 51h1v1h-1zM35 51h2v1h-2zM47 51h1v1h-1zM61 51h1v1h-1zM2 52h2v1h-2zM20 52h1v1h-1zM33 52h1v1h-1zM35 52h1v1h-1zM46 52h2v1h-2zM18 53h1v1h-1zM41 53h1v1h-1zM48 53h1v1h-1zM21 54h1v1h-1zM44 54h1v1h-1zM58 54h1v1h-1zM68 54h1v1h-1zM19 55h1v1h-1zM35 55h1v1h-1zM61 55h1v1h-1zM1 56h1v1h-1zM5 56h1v1h-1zM35 56h1v1h-1zM60 56h1v1h-1zM18 57h1v1h-1zM24 57h1v1h-1zM34 57h1v1h-1zM48 57h1v1h-1zM4 58h1v1h-1zM18 58h1v1h-1zM21 58h1v1h-1zM35 58h1v1h-1zM43 58h1v1h-1zM65 58h1v1h-1zM16 59h1v1h-1zM24 59h1v1h-1zM36 59h1v1h-1zM60 60h1v1h-1zM6 61h1v1h-1zM18 61h1v1h-1zM21 62h1v1h-1zM55 62h1v1h-1zM19 63h1v1h-1zM0 64h1v1h-1zM4 64h1v1h-1zM59 64h2v1h-2zM6 65h1v1h-1zM46 66h2v1h-2zM59 66h1v1h-1zM5 67h1v1h-1zM3 68h1v1h-1zM24 68h1v1h-1zM19 69h1v1h-1zM23 69h1v1h-1zM3 71h1v1h-1zM5 71h1v1h-1zM2 72h1v1h-1zM60 72h1v1h-1zM63 72h1v1h-1zM22 73h1v1h-1zM46 73h1v1h-1zM59 73h2v1h-2zM1 74h1v1h-1zM20 74h1v1h-1zM33 74h1v1h-1zM69 74h1v1h-1zM4 75h1v1h-1zM22 75h1v1h-1zM46 75h1v1h-1zM48 75h1v1h-1z"/><path fill="#7abf7c" d="M51 0h2v1h-2zM60 0h1v1h-1zM66 0h1v1h-1zM3 1h1v1h-1zM10 1h1v1h-1zM26 1h1v1h-1zM56 1h1v1h-1zM10 2h1v1h-1zM66 2h1v1h-1zM8 3h1v1h-1zM23 3h1v1h-1zM26 3h1v1h-1zM29 3h1v1h-1zM37 3h1v1h-1zM54 3h1v1h-1zM65 3h1v1h-1zM9 4h1v1h-1zM52 4h1v1h-1zM5 5h1v1h-1zM26 5h2v1h-2zM40 5h2v1h-2zM47 5h1v1h-1zM64 5h1v1h-1zM68 5h1v1h-1zM27 6h1v1h-1zM34 6h1v1h-1zM47 6h1v1h-1zM8 7h2v1h-2zM14 7h1v1h-1zM27 7h1v1h-1zM51 7h1v1h-1zM56 7h1v1h-1zM59 7h1v1h-1zM9 8h1v1h-1zM26 8h1v1h-1zM37 8h1v1h-1zM42 8h1v1h-1zM66 8h1v1h-1zM14 9h2v1h-2zM28 9h1v1h-1zM37 9h1v1h-1zM41 9h2v1h-2zM55 9h1v1h-1zM9 10h1v1h-1zM16 10h1v1h-1zM23 10h1v1h-1zM27 10h1v1h-1zM54 10h1v1h-1zM28 11h2v1h-2zM41 11h1v1h-1zM46 11h1v1h-1zM50 11h1v1h-1zM66 11h2v1h-2zM52 12h1v1h-1zM17 13h1v1h-1zM25 13h1v1h-1zM27 13h1v1h-1zM38 13h1v1h-1zM40 13h1v1h-1zM57 13h1v1h-1zM63 13h1v1h-1zM11 14h1v1h-1zM24 14h1v1h-1zM28 14h1v1h-1zM57 14h1v1h-1zM60 14h1v1h-1zM11 15h1v1h-1zM42 15h1v1h-1zM51 15h1v1h-1zM67 15h2v1h-2zM11 16h1v1h-1zM31 16h1v1h-1zM36 16h1v1h-1zM38 16h2v1h-2zM8 17h1v1h-1zM14 17h2v1h-2zM36 17h2v1h-2zM7 18h1v1h-1zM9 18h1v1h-1zM24 18h1v1h-1zM40 18h1v1h-1zM56 18h2v1h-2zM65 18h1v1h-1zM3 19h1v1h-1zM17 19h1v1h-1zM27 19h3v1h-3zM36 19h1v1h-1zM39 19h1v1h-1zM48 19h1v1h-1zM57 19h1v1h-1zM62 19h1v1h-1zM2 20h1v1h-1zM13 20h1v1h-1zM37 20h2v1h-2zM67 20h1v1h-1zM27 21h1v1h-1zM60 21h1v1h-1zM9 22h1v1h-1zM25 22h2v1h-2zM54 22h1v1h-1zM7 23h1v1h-1zM28 23h1v1h-1zM42 23h1v1h-1zM66 23h1v1h-1zM7 24h1v1h-1zM13 24h1v1h-1zM17 24h1v1h-1zM25 24h1v1h-1zM47 24h1v1h-1zM10 25h1v1h-1zM12 25h1v1h-1zM27 25h1v1h-1zM36 26h1v1h-1zM38 26h1v1h-1zM40 26h1v1h-1zM47 26h1v1h-1zM66 26h1v1h-1zM40 27h1v1h-1zM66 27h1v1h-1zM7 28h1v1h-1zM31 28h1v1h-1zM47 28h1v1h-1zM57 28h1v1h-1zM63 28h1v1h-1zM68 28h1v1h-1zM2 29h1v1h-1zM7 29h1v1h-1zM22 29h2v1h-2zM35 29h1v1h-1zM58 29h1v1h-1zM62 29h1v1h-1zM66 29h2v1h-2zM61 30h1v1h-1zM36 31h1v1h-1zM43 31h2v1h-2zM66 31h1v1h-1zM42 32h1v1h-1zM48 32h1v1h-1zM69 32h1v1h-1zM5 33h1v1h-1zM19 33h1v1h-1zM47 33h1v1h-1zM65 33h1v1h-1zM7 34h1v1h-1zM39 34h1v1h-1zM59 34h1v1h-1zM68 34h1v1h-1zM18 35h1v1h-1zM23 35h1v1h-1zM63 35h1v1h-1zM5 36h1v1h-1zM68 36h1v1h-1zM31 37h1v1h-1zM40 37h1v1h-1zM21 38h1v1h-1zM35 38h1v1h-1zM66 38h1v1h-1zM0 39h2v1h-2zM24 39h1v1h-1zM30 39h1v1h-1zM17 40h1v1h-1zM22 40h1v1h-1zM31 40h1v1h-1zM34 40h1v1h-1zM41 40h2v1h-2zM65 40h1v1h-1zM61 41h1v1h-1zM21 42h1v1h-1zM36 42h1v1h-1zM44 42h1v1h-1zM46 42h1v1h-1zM64 42h1v1h-1zM20 43h1v1h-1zM61 43h1v1h-1zM40 44h1v1h-1zM62 44h1v1h-1zM6 45h1v1h-1zM17 46h1v1h-1zM34 46h1v1h-1zM49 46h1v1h-1zM58 46h1v1h-1zM63 46h1v1h-1zM14 47h1v1h-1zM48 47h1v1h-1zM56 47h1v1h-1zM65 47h1v1h-1zM68 48h1v1h-1zM17 49h1v1h-1zM41 49h1v1h-1zM65 49h1v1h-1zM2 50h2v1h-2zM5 50h1v1h-1zM24 50h1v1h-1zM49 50h1v1h-1zM61 50h1v1h-1zM19 51h1v1h-1zM42 51h1v1h-1zM59 51h1v1h-1zM32 52h1v1h-1zM34 52h1v1h-1zM36 52h1v1h-1zM42 52h1v1h-1zM65 52h1v1h-1zM0 53h1v1h-1zM3 53h2v1h-2zM23 53h1v1h-1zM39 53h1v1h-1zM3 54h1v1h-1zM66 54h1v1h-1zM2 55h1v1h-1zM69 55h1v1h-1zM18 56h2v1h-2zM24 56h1v1h-1zM61 56h1v1h-1zM63 56h1v1h-1zM65 56h1v1h-1zM0 57h1v1h-1zM4 57h1v1h-1zM47 57h1v1h-1zM58 57h1v1h-1zM62 57h1v1h-1zM67 57h1v1h-1zM0 58h1v1h-1zM3 59h1v1h-1zM32 59h1v1h-1zM6 60h1v1h-1zM67 60h1v1h-1zM45 61h1v1h-1zM1 62h1v1h-1zM4 62h1v1h-1zM33 62h1v1h-1zM45 62h1v1h-1zM22 63h1v1h-1zM3 64h1v1h-1zM48 64h1v1h-1zM43 65h1v1h-1zM48 65h1v1h-1zM2 66h1v1h-1zM41 66h1v1h-1zM69 66h1v1h-1zM1 67h1v1h-1zM45 69h1v1h-1zM61 69h1v1h-1zM23 70h1v1h-1zM46 70h1v1h-1zM20 71h1v1h-1zM34 71h1v1h-1zM45 71h1v1h-1zM62 71h1v1h-1zM43 72h1v1h-1zM53 72h1v1h-1zM69 72h1v1h-1zM1 73h1v1h-1zM19 73h1v1h-1zM6 74h1v1h-1zM19 74h1v1h-1zM45 74h1v1h-1zM56 74h1v1h-1zM59 74h1v1h-1zM61 74h1v1h-1zM0 75h1v1h-1zM37 75h1v1h-1zM45 75h1v1h-1z"/><path fill="#81bf79" d="M12 0h1v1h-1zM26 0h1v1h-1zM37 0h1v1h-1zM39 0h1v1h-1zM53 0h1v1h-1zM21 1h1v1h-1zM27 1h1v1h-1zM36 1h1v1h-1zM65 1h1v1h-1zM8 2h1v1h-1zM15 2h1v1h-1zM17 2h1v1h-1zM31 2h1v1h-1zM53 2h1v1h-1zM11 3h1v1h-1zM27 3h1v1h-1zM40 3h2v1h-2zM11 4h1v1h-1zM16 4h1v1h-1zM24 4h1v1h-1zM39 4h1v1h-1zM54 4h1v1h-1zM9 5h2v1h-2zM14 5h1v1h-1zM50 5h1v1h-1zM55 5h1v1h-1zM65 5h1v1h-1zM7 6h1v1h-1zM28 6h1v1h-1zM30 6h1v1h-1zM41 6h1v1h-1zM53 6h1v1h-1zM56 6h1v1h-1zM10 7h2v1h-2zM17 7h1v1h-1zM30 7h1v1h-1zM63 7h1v1h-1zM6 8h1v1h-1zM8 8h1v1h-1zM50 8h1v1h-1zM12 9h2v1h-2zM16 9h1v1h-1zM51 9h1v1h-1zM53 9h1v1h-1zM15 10h1v1h-1zM26 10h1v1h-1zM30 10h1v1h-1zM38 10h1v1h-1zM57 10h1v1h-1zM15 11h1v1h-1zM39 11h2v1h-2zM52 11h1v1h-1zM64 11h1v1h-1zM69 11h1v1h-1zM37 12h1v1h-1zM55 12h2v1h-2zM62 12h1v1h-1zM64 12h1v1h-1zM9 13h2v1h-2zM30 13h1v1h-1zM37 13h1v1h-1zM51 13h1v1h-1zM53 13h1v1h-1zM31 14h1v1h-1zM8 15h1v1h-1zM14 15h1v1h-1zM30 15h1v1h-1zM61 15h1v1h-1zM13 16h1v1h-1zM29 16h1v1h-1zM42 16h1v1h-1zM60 16h1v1h-1zM65 16h1v1h-1zM11 17h1v1h-1zM54 17h1v1h-1zM65 17h1v1h-1zM8 18h1v1h-1zM16 18h1v1h-1zM25 18h2v1h-2zM39 18h1v1h-1zM51 18h1v1h-1zM53 18h1v1h-1zM25 19h1v1h-1zM49 19h1v1h-1zM1 20h1v1h-1zM15 20h1v1h-1zM27 20h2v1h-2zM30 20h1v1h-1zM36 20h1v1h-1zM5 21h1v1h-1zM11 21h1v1h-1zM17 21h1v1h-1zM42 21h1v1h-1zM54 21h1v1h-1zM56 21h1v1h-1zM66 21h1v1h-1zM7 22h1v1h-1zM23 22h1v1h-1zM31 22h1v1h-1zM35 22h1v1h-1zM37 22h2v1h-2zM45 22h1v1h-1zM57 22h1v1h-1zM10 23h1v1h-1zM39 23h1v1h-1zM41 23h1v1h-1zM51 23h1v1h-1zM55 23h1v1h-1zM57 23h1v1h-1zM67 23h1v1h-1zM38 24h1v1h-1zM59 24h1v1h-1zM63 24h1v1h-1zM21 25h1v1h-1zM47 25h1v1h-1zM54 25h1v1h-1zM1 26h1v1h-1zM13 26h1v1h-1zM25 26h1v1h-1zM51 26h1v1h-1zM55 26h1v1h-1zM4 27h1v1h-1zM44 27h1v1h-1zM46 27h1v1h-1zM53 27h1v1h-1zM67 27h1v1h-1zM37 28h1v1h-1zM41 28h1v1h-1zM44 28h1v1h-1zM69 28h1v1h-1zM27 29h1v1h-1zM38 29h1v1h-1zM31 30h1v1h-1zM37 30h1v1h-1zM65 30h1v1h-1zM17 31h1v1h-1zM27 31h1v1h-1zM31 31h1v1h-1zM33 31h1v1h-1zM7 32h1v1h-1zM25 32h1v1h-1zM31 32h2v1h-2zM40 32h1v1h-1zM66 32h1v1h-1zM17 33h1v1h-1zM25 33h1v1h-1zM27 33h1v1h-1zM34 33h1v1h-1zM38 33h1v1h-1zM62 33h1v1h-1zM14 34h1v1h-1zM31 34h1v1h-1zM37 34h1v1h-1zM47 34h1v1h-1zM63 34h1v1h-1zM15 35h1v1h-1zM39 35h1v1h-1zM42 35h1v1h-1zM36 36h1v1h-1zM62 36h1v1h-1zM4 37h1v1h-1zM11 37h1v1h-1zM13 37h1v1h-1zM36 37h1v1h-1zM52 37h1v1h-1zM11 38h1v1h-1zM17 38h1v1h-1zM39 38h1v1h-1zM41 38h1v1h-1zM53 38h1v1h-1zM55 38h1v1h-1zM23 39h1v1h-1zM34 39h1v1h-1zM38 39h1v1h-1zM39 40h1v1h-1zM49 40h1v1h-1zM27 41h1v1h-1zM41 42h1v1h-1zM62 42h1v1h-1zM7 43h1v1h-1zM23 43h1v1h-1zM42 43h1v1h-1zM24 44h1v1h-1zM44 44h1v1h-1zM3 45h1v1h-1zM22 45h1v1h-1zM42 45h1v1h-1zM66 45h1v1h-1zM22 46h1v1h-1zM38 46h1v1h-1zM66 46h1v1h-1zM59 47h1v1h-1zM64 47h1v1h-1zM24 48h1v1h-1zM63 48h1v1h-1zM2 49h1v1h-1zM19 49h1v1h-1zM24 49h1v1h-1zM36 49h1v1h-1zM38 49h1v1h-1zM25 50h1v1h-1zM63 50h1v1h-1zM68 50h1v1h-1zM20 51h1v1h-1zM23 51h1v1h-1zM69 51h1v1h-1zM68 52h1v1h-1zM7 53h1v1h-1zM30 53h1v1h-1zM63 53h1v1h-1zM66 53h1v1h-1zM68 53h1v1h-1zM19 54h1v1h-1zM33 54h1v1h-1zM45 54h1v1h-1zM59 54h1v1h-1zM24 55h1v1h-1zM31 55h1v1h-1zM32 57h1v1h-1zM51 58h1v1h-1zM18 59h1v1h-1zM35 59h1v1h-1zM44 59h1v1h-1zM60 59h1v1h-1zM64 59h1v1h-1zM63 60h1v1h-1zM24 61h1v1h-1zM49 61h1v1h-1zM68 61h1v1h-1zM0 62h1v1h-1zM3 62h1v1h-1zM60 62h1v1h-1zM67 62h1v1h-1zM45 63h1v1h-1zM46 64h1v1h-1zM69 64h1v1h-1zM46 65h1v1h-1zM59 65h2v1h-2zM44 66h1v1h-1zM64 66h1v1h-1zM3 67h1v1h-1zM40 67h1v1h-1zM42 67h1v1h-1zM64 67h1v1h-1zM43 68h1v1h-1zM49 68h1v1h-1zM60 68h1v1h-1zM5 69h1v1h-1zM7 69h1v1h-1zM63 69h1v1h-1zM0 70h1v1h-1zM33 70h1v1h-1zM65 70h1v1h-1zM68 70h1v1h-1zM2 71h1v1h-1zM42 71h1v1h-1zM46 71h1v1h-1zM66 72h1v1h-1zM47 73h1v1h-1zM64 73h1v1h-1zM20 75h1v1h-1z"/><path fill="#88bf76" d="M30 0h1v1h-1zM11 1h1v1h-1zM16 1h1v1h-1zM54 1h1v1h-1zM14 3h1v1h-1zM28 3h1v1h-1zM30 4h1v1h-1zM37 4h1v1h-1zM42 4h1v1h-1zM51 4h1v1h-1zM30 5h2v1h-2zM51 5h1v1h-1zM9 6h1v1h-1zM16 6h1v1h-1zM39 6h1v1h-1zM63 6h1v1h-1zM13 7h1v1h-1zM37 7h1v1h-1zM40 7h1v1h-1zM11 8h1v1h-1zM41 8h1v1h-1zM54 8h1v1h-1zM29 9h1v1h-1zM56 9h1v1h-1zM10 10h1v1h-1zM12 10h1v1h-1zM28 10h1v1h-1zM6 11h1v1h-1zM13 11h1v1h-1zM38 11h1v1h-1zM56 11h1v1h-1zM12 12h1v1h-1zM15 12h2v1h-2zM44 12h1v1h-1zM66 12h1v1h-1zM13 13h1v1h-1zM56 13h1v1h-1zM12 14h1v1h-1zM14 14h1v1h-1zM26 14h1v1h-1zM29 14h1v1h-1zM40 14h1v1h-1zM54 14h1v1h-1zM62 14h3v1h-3zM49 15h1v1h-1zM37 16h1v1h-1zM16 17h1v1h-1zM66 17h1v1h-1zM27 18h1v1h-1zM14 19h1v1h-1zM16 19h1v1h-1zM37 19h1v1h-1zM40 19h1v1h-1zM45 19h1v1h-1zM63 19h1v1h-1zM12 20h1v1h-1zM29 20h1v1h-1zM41 20h1v1h-1zM50 20h1v1h-1zM60 20h1v1h-1zM66 20h1v1h-1zM8 21h1v1h-1zM28 21h1v1h-1zM39 21h2v1h-2zM11 22h1v1h-1zM52 22h2v1h-2zM66 22h1v1h-1zM14 23h2v1h-2zM17 23h1v1h-1zM50 23h1v1h-1zM15 24h1v1h-1zM22 24h1v1h-1zM40 24h1v1h-1zM57 25h1v1h-1zM20 26h1v1h-1zM37 26h1v1h-1zM39 26h1v1h-1zM56 26h1v1h-1zM63 26h1v1h-1zM9 27h1v1h-1zM29 27h2v1h-2zM41 27h1v1h-1zM52 27h1v1h-1zM26 28h1v1h-1zM39 28h2v1h-2zM55 28h1v1h-1zM64 28h1v1h-1zM67 28h1v1h-1zM10 29h1v1h-1zM28 29h1v1h-1zM37 29h1v1h-1zM42 29h1v1h-1zM8 30h1v1h-1zM13 30h1v1h-1zM36 30h1v1h-1zM38 30h1v1h-1zM55 30h1v1h-1zM62 30h1v1h-1zM66 30h1v1h-1zM38 31h1v1h-1zM51 31h1v1h-1zM55 31h1v1h-1zM64 31h1v1h-1zM36 33h1v1h-1zM41 33h1v1h-1zM53 33h1v1h-1zM6 34h1v1h-1zM10 34h1v1h-1zM17 34h1v1h-1zM36 34h1v1h-1zM53 34h1v1h-1zM57 34h1v1h-1zM62 34h1v1h-1zM8 35h1v1h-1zM14 35h1v1h-1zM37 35h1v1h-1zM40 35h1v1h-1zM50 35h1v1h-1zM31 36h1v1h-1zM39 36h2v1h-2zM37 37h2v1h-2zM50 37h1v1h-1zM2 38h1v1h-1zM37 38h1v1h-1zM68 38h1v1h-1zM15 39h1v1h-1zM17 39h1v1h-1zM31 39h1v1h-1zM65 39h1v1h-1zM67 39h1v1h-1zM40 40h1v1h-1zM17 41h1v1h-1zM38 41h1v1h-1zM55 41h1v1h-1zM42 42h1v1h-1zM65 42h1v1h-1zM48 43h1v1h-1zM62 43h2v1h-2zM16 44h1v1h-1zM23 44h1v1h-1zM63 44h1v1h-1zM67 44h1v1h-1zM38 45h1v1h-1zM48 45h1v1h-1zM62 45h1v1h-1zM64 45h1v1h-1zM20 46h1v1h-1zM23 46h1v1h-1zM29 46h1v1h-1zM40 46h1v1h-1zM52 46h1v1h-1zM51 47h1v1h-1zM17 48h1v1h-1zM27 48h1v1h-1zM40 48h1v1h-1zM61 48h1v1h-1zM34 49h1v1h-1zM63 49h1v1h-1zM40 50h1v1h-1zM62 50h1v1h-1zM4 51h1v1h-1zM38 52h1v1h-1zM52 53h1v1h-1zM61 53h1v1h-1zM1 54h1v1h-1zM61 54h2v1h-2zM67 55h1v1h-1zM69 56h1v1h-1zM39 57h1v1h-1zM49 57h1v1h-1zM66 57h1v1h-1zM24 58h1v1h-1zM32 58h1v1h-1zM41 58h1v1h-1zM49 58h1v1h-1zM64 58h1v1h-1zM67 58h1v1h-1zM6 59h1v1h-1zM20 59h1v1h-1zM41 59h1v1h-1zM62 59h1v1h-1zM66 59h1v1h-1zM32 60h1v1h-1zM34 60h1v1h-1zM32 61h1v1h-1zM36 61h1v1h-1zM48 61h1v1h-1zM24 62h1v1h-1zM63 62h1v1h-1zM65 62h1v1h-1zM63 63h1v1h-1zM67 63h1v1h-1zM23 64h2v1h-2zM32 64h1v1h-1zM58 64h1v1h-1zM20 66h1v1h-1zM61 66h1v1h-1zM24 67h1v1h-1zM61 67h1v1h-1zM1 68h1v1h-1zM18 68h1v1h-1zM45 68h1v1h-1zM24 69h1v1h-1zM18 70h1v1h-1zM43 70h1v1h-1zM66 70h1v1h-1zM69 70h1v1h-1zM18 71h1v1h-1zM40 71h1v1h-1zM47 71h1v1h-1zM21 72h1v1h-1zM4 73h1v1h-1zM6 73h1v1h-1zM20 73h1v1h-1zM69 73h1v1h-1zM60 74h1v1h-1zM18 75h1v1h-1zM69 75h1v1h-1z"/><path fill="#8fbf73" d="M15 1h1v1h-1zM67 1h1v1h-1zM12 2h1v1h-1zM51 2h1v1h-1zM64 2h1v1h-1zM38 3h1v1h-1zM53 4h1v1h-1zM55 4h1v1h-1zM56 5h1v1h-1zM11 6h1v1h-1zM52 6h1v1h-1zM12 7h1v1h-1zM16 7h1v1h-1zM54 7h2v1h-2zM14 8h1v1h-1zM40 8h1v1h-1zM9 9h1v1h-1zM65 9h1v1h-1zM55 11h1v1h-1zM62 11h1v1h-1zM8 12h1v1h-1zM41 12h1v1h-1zM52 13h1v1h-1zM65 13h1v1h-1zM13 14h1v1h-1zM17 14h1v1h-1zM21 14h1v1h-1zM37 14h1v1h-1zM39 14h1v1h-1zM67 14h1v1h-1zM53 15h1v1h-1zM55 15h2v1h-2zM50 16h1v1h-1zM52 16h1v1h-1zM56 16h1v1h-1zM64 16h1v1h-1zM13 17h1v1h-1zM29 17h1v1h-1zM33 17h1v1h-1zM13 18h1v1h-1zM63 18h1v1h-1zM66 18h1v1h-1zM68 18h1v1h-1zM9 19h1v1h-1zM41 19h1v1h-1zM51 19h2v1h-2zM11 20h1v1h-1zM26 20h1v1h-1zM31 20h1v1h-1zM51 20h1v1h-1zM53 20h1v1h-1zM55 21h1v1h-1zM12 22h1v1h-1zM11 23h1v1h-1zM20 23h1v1h-1zM68 23h1v1h-1zM11 24h1v1h-1zM56 24h1v1h-1zM66 24h1v1h-1zM13 25h1v1h-1zM29 25h1v1h-1zM56 25h1v1h-1zM10 26h1v1h-1zM16 26h1v1h-1zM31 26h1v1h-1zM53 26h1v1h-1zM57 26h1v1h-1zM10 27h1v1h-1zM26 27h2v1h-2zM54 27h1v1h-1zM65 27h1v1h-1zM15 28h1v1h-1zM29 28h1v1h-1zM53 28h1v1h-1zM15 29h1v1h-1zM30 29h1v1h-1zM12 30h1v1h-1zM15 30h1v1h-1zM40 30h2v1h-2zM54 30h1v1h-1zM68 30h1v1h-1zM11 31h1v1h-1zM15 31h1v1h-1zM52 31h2v1h-2zM65 32h1v1h-1zM26 33h1v1h-1zM29 33h1v1h-1zM16 34h1v1h-1zM27 34h1v1h-1zM42 34h1v1h-1zM7 35h1v1h-1zM26 35h1v1h-1zM29 35h1v1h-1zM41 35h1v1h-1zM53 35h1v1h-1zM67 35h1v1h-1zM38 36h1v1h-1zM41 36h1v1h-1zM53 36h1v1h-1zM55 36h1v1h-1zM27 37h1v1h-1zM30 37h1v1h-1zM39 37h1v1h-1zM30 38h2v1h-2zM51 38h1v1h-1zM58 38h1v1h-1zM63 38h1v1h-1zM65 38h1v1h-1zM16 39h1v1h-1zM25 40h1v1h-1zM37 40h1v1h-1zM47 40h1v1h-1zM12 41h1v1h-1zM57 41h1v1h-1zM65 41h1v1h-1zM67 41h1v1h-1zM17 42h1v1h-1zM31 42h1v1h-1zM66 42h1v1h-1zM36 43h1v1h-1zM50 43h1v1h-1zM66 43h1v1h-1zM1 44h1v1h-1zM15 44h1v1h-1zM17 44h1v1h-1zM19 44h2v1h-2zM25 44h1v1h-1zM38 44h2v1h-2zM68 44h1v1h-1zM54 45h1v1h-1zM15 46h1v1h-1zM31 46h1v1h-1zM37 46h1v1h-1zM41 46h1v1h-1zM43 46h1v1h-1zM61 46h1v1h-1zM68 46h1v1h-1zM12 47h1v1h-1zM36 47h1v1h-1zM54 47h1v1h-1zM66 47h2v1h-2zM39 48h1v1h-1zM49 48h1v1h-1zM62 48h1v1h-1zM65 48h2v1h-2zM64 49h1v1h-1zM65 50h1v1h-1zM39 51h1v1h-1zM64 51h1v1h-1zM68 51h1v1h-1zM25 52h1v1h-1zM42 53h1v1h-1zM0 54h1v1h-1zM7 55h1v1h-1zM39 55h1v1h-1zM43 56h2v1h-2zM67 56h1v1h-1zM21 57h1v1h-1zM57 57h1v1h-1zM2 58h1v1h-1zM2 59h1v1h-1zM58 59h1v1h-1zM58 60h1v1h-1zM35 61h1v1h-1zM37 61h1v1h-1zM69 61h1v1h-1zM49 62h1v1h-1zM64 62h1v1h-1zM28 63h1v1h-1zM32 63h1v1h-1zM43 63h1v1h-1zM60 63h1v1h-1zM35 64h1v1h-1zM39 64h1v1h-1zM41 65h1v1h-1zM63 66h1v1h-1zM66 66h1v1h-1zM6 67h1v1h-1zM18 67h1v1h-1zM35 67h1v1h-1zM68 67h1v1h-1zM6 68h1v1h-1zM22 68h1v1h-1zM34 68h1v1h-1zM37 68h1v1h-1zM61 68h1v1h-1zM67 69h1v1h-1zM69 71h1v1h-1zM4 72h1v1h-1zM63 74h1v1h-1zM44 75h1v1h-1z"/><path fill="#96bf71" d="M28 0h1v1h-1zM30 1h1v1h-1zM51 1h1v1h-1zM16 3h1v1h-1zM12 5h1v1h-1zM21 6h1v1h-1zM37 6h1v1h-1zM26 7h1v1h-1zM28 7h2v1h-2zM39 7h1v1h-1zM10 8h1v1h-1zM29 8h1v1h-1zM56 8h1v1h-1zM26 9h1v1h-1zM52 9h1v1h-1zM57 9h1v1h-1zM13 10h1v1h-1zM52 10h1v1h-1zM8 11h1v1h-1zM12 11h1v1h-1zM51 11h1v1h-1zM9 12h2v1h-2zM29 12h1v1h-1zM9 14h1v1h-1zM15 14h1v1h-1zM51 14h2v1h-2zM38 15h1v1h-1zM39 17h1v1h-1zM50 18h1v1h-1zM52 18h1v1h-1zM54 18h1v1h-1zM12 19h1v1h-1zM26 19h1v1h-1zM30 19h1v1h-1zM25 20h1v1h-1zM54 20h1v1h-1zM12 21h1v1h-1zM31 21h1v1h-1zM37 21h2v1h-2zM41 21h1v1h-1zM27 22h1v1h-1zM55 22h1v1h-1zM13 23h1v1h-1zM26 23h1v1h-1zM64 23h1v1h-1zM16 24h1v1h-1zM54 24h1v1h-1zM9 25h1v1h-1zM14 25h1v1h-1zM38 25h1v1h-1zM50 25h2v1h-2zM55 25h1v1h-1zM66 25h1v1h-1zM27 26h1v1h-1zM30 26h1v1h-1zM54 26h1v1h-1zM15 27h1v1h-1zM19 27h1v1h-1zM43 27h1v1h-1zM10 28h1v1h-1zM13 28h1v1h-1zM38 28h1v1h-1zM8 29h1v1h-1zM31 29h1v1h-1zM50 29h2v1h-2zM53 29h1v1h-1zM63 29h1v1h-1zM57 30h1v1h-1zM57 31h1v1h-1zM67 31h1v1h-1zM8 32h1v1h-1zM15 32h1v1h-1zM38 32h2v1h-2zM50 32h1v1h-1zM64 32h1v1h-1zM9 33h1v1h-1zM15 33h2v1h-2zM57 33h1v1h-1zM28 34h1v1h-1zM30 34h1v1h-1zM40 34h1v1h-1zM51 34h1v1h-1zM55 34h1v1h-1zM64 35h1v1h-1zM37 36h1v1h-1zM7 37h2v1h-2zM15 37h1v1h-1zM48 37h1v1h-1zM53 37h1v1h-1zM57 37h1v1h-1zM63 37h1v1h-1zM67 38h1v1h-1zM8 39h1v1h-1zM10 39h1v1h-1zM12 39h1v1h-1zM27 39h1v1h-1zM39 39h1v1h-1zM42 39h1v1h-1zM55 39h1v1h-1zM7 40h1v1h-1zM12 40h1v1h-1zM15 40h1v1h-1zM30 40h1v1h-1zM50 40h1v1h-1zM53 40h2v1h-2zM63 40h2v1h-2zM15 41h1v1h-1zM28 41h2v1h-2zM54 41h1v1h-1zM68 41h1v1h-1zM29 42h1v1h-1zM38 42h1v1h-1zM63 42h1v1h-1zM52 43h1v1h-1zM7 44h1v1h-1zM11 44h1v1h-1zM30 44h1v1h-1zM53 44h1v1h-1zM57 44h1v1h-1zM7 45h1v1h-1zM14 45h1v1h-1zM16 45h1v1h-1zM31 45h1v1h-1zM7 46h1v1h-1zM11 46h1v1h-1zM38 47h1v1h-1zM47 47h1v1h-1zM49 47h2v1h-2zM68 47h1v1h-1zM54 48h1v1h-1zM9 49h1v1h-1zM31 49h1v1h-1zM52 49h2v1h-2zM68 49h1v1h-1zM13 50h1v1h-1zM26 50h1v1h-1zM9 51h1v1h-1zM26 51h1v1h-1zM62 51h1v1h-1zM65 51h1v1h-1zM56 52h1v1h-1zM63 52h1v1h-1zM62 53h1v1h-1zM67 53h1v1h-1zM27 54h1v1h-1zM42 54h1v1h-1zM51 54h1v1h-1zM67 54h1v1h-1zM13 55h1v1h-1zM63 55h1v1h-1zM7 56h1v1h-1zM14 56h1v1h-1zM39 56h1v1h-1zM46 56h1v1h-1zM55 56h1v1h-1zM68 56h1v1h-1zM38 57h1v1h-1zM64 57h1v1h-1zM56 58h1v1h-1zM37 59h1v1h-1zM65 59h1v1h-1zM68 59h1v1h-1zM18 60h1v1h-1zM35 60h1v1h-1zM59 60h1v1h-1zM65 60h1v1h-1zM68 60h1v1h-1zM1 61h1v1h-1zM17 61h1v1h-1zM42 61h2v1h-2zM32 62h1v1h-1zM39 62h1v1h-1zM24 63h1v1h-1zM38 63h1v1h-1zM43 64h1v1h-1zM65 64h1v1h-1zM9 65h1v1h-1zM34 65h1v1h-1zM39 65h1v1h-1zM32 66h1v1h-1zM49 66h1v1h-1zM21 67h1v1h-1zM36 67h1v1h-1zM38 67h1v1h-1zM49 67h1v1h-1zM65 67h1v1h-1zM67 67h1v1h-1zM43 69h1v1h-1zM61 70h2v1h-2zM58 71h1v1h-1zM35 73h1v1h-1zM62 73h1v1h-1zM68 74h1v1h-1zM35 75h1v1h-1zM39 75h2v1h-2zM43 75h1v1h-1zM64 75h1v1h-1z"/><path fill="#9dbf6e" d="M54 0h1v1h-1zM28 1h1v1h-1zM56 2h1v1h-1zM10 3h1v1h-1zM51 3h1v1h-1zM29 4h1v1h-1zM40 4h1v1h-1zM51 6h1v1h-1zM38 8h1v1h-1zM53 8h1v1h-1zM11 10h1v1h-1zM53 10h1v1h-1zM66 10h1v1h-1zM27 12h1v1h-1zM8 13h1v1h-1zM15 13h1v1h-1zM29 13h1v1h-1zM55 13h1v1h-1zM56 14h1v1h-1zM54 15h1v1h-1zM65 15h2v1h-2zM8 16h1v1h-1zM10 16h1v1h-1zM12 16h1v1h-1zM30 16h1v1h-1zM53 16h1v1h-1zM63 16h1v1h-1zM26 17h2v1h-2zM31 17h1v1h-1zM38 17h1v1h-1zM40 17h1v1h-1zM52 17h1v1h-1zM15 18h1v1h-1zM30 18h1v1h-1zM55 18h1v1h-1zM8 20h1v1h-1zM39 20h1v1h-1zM52 20h1v1h-1zM13 21h1v1h-1zM16 21h1v1h-1zM51 21h1v1h-1zM57 21h1v1h-1zM36 22h1v1h-1zM64 22h1v1h-1zM27 23h1v1h-1zM56 23h1v1h-1zM12 24h1v1h-1zM37 24h1v1h-1zM55 24h1v1h-1zM11 25h1v1h-1zM28 25h1v1h-1zM8 26h2v1h-2zM14 26h1v1h-1zM8 27h1v1h-1zM13 27h1v1h-1zM39 27h1v1h-1zM50 27h1v1h-1zM55 27h1v1h-1zM12 28h1v1h-1zM16 28h1v1h-1zM25 28h1v1h-1zM66 28h1v1h-1zM12 29h1v1h-1zM39 29h1v1h-1zM56 29h1v1h-1zM11 30h1v1h-1zM30 30h1v1h-1zM39 30h1v1h-1zM51 30h2v1h-2zM9 31h1v1h-1zM30 31h1v1h-1zM50 31h1v1h-1zM10 32h2v1h-2zM14 32h1v1h-1zM26 32h2v1h-2zM37 32h1v1h-1zM51 32h1v1h-1zM13 33h1v1h-1zM30 33h1v1h-1zM54 34h1v1h-1zM11 35h1v1h-1zM25 35h1v1h-1zM30 35h1v1h-1zM10 36h1v1h-1zM25 36h1v1h-1zM28 36h1v1h-1zM64 36h1v1h-1zM67 36h1v1h-1zM25 37h1v1h-1zM29 37h1v1h-1zM54 37h1v1h-1zM64 37h1v1h-1zM67 37h1v1h-1zM15 38h1v1h-1zM40 38h1v1h-1zM26 39h1v1h-1zM51 39h1v1h-1zM63 39h1v1h-1zM11 40h1v1h-1zM26 40h1v1h-1zM55 40h2v1h-2zM67 40h1v1h-1zM10 41h1v1h-1zM16 41h1v1h-1zM39 41h1v1h-1zM12 42h1v1h-1zM37 42h1v1h-1zM52 42h1v1h-1zM57 42h1v1h-1zM67 42h2v1h-2zM13 43h1v1h-1zM15 43h1v1h-1zM28 43h1v1h-1zM51 43h1v1h-1zM31 44h1v1h-1zM52 44h1v1h-1zM13 45h1v1h-1zM27 45h1v1h-1zM29 45h1v1h-1zM39 45h1v1h-1zM51 45h1v1h-1zM55 45h1v1h-1zM68 45h1v1h-1zM16 46h1v1h-1zM57 46h1v1h-1zM25 47h1v1h-1zM42 47h1v1h-1zM62 47h1v1h-1zM5 48h1v1h-1zM7 48h1v1h-1zM64 48h1v1h-1zM7 49h1v1h-1zM14 49h1v1h-1zM55 49h1v1h-1zM62 49h1v1h-1zM8 50h2v1h-2zM53 50h1v1h-1zM67 50h1v1h-1zM7 51h1v1h-1zM16 51h1v1h-1zM56 51h1v1h-1zM17 52h1v1h-1zM26 52h1v1h-1zM28 52h1v1h-1zM53 52h1v1h-1zM66 52h1v1h-1zM17 53h1v1h-1zM38 54h1v1h-1zM41 54h1v1h-1zM50 54h1v1h-1zM65 54h1v1h-1zM12 55h1v1h-1zM14 55h1v1h-1zM30 55h1v1h-1zM41 55h1v1h-1zM68 55h1v1h-1zM31 56h1v1h-1zM37 56h1v1h-1zM49 56h1v1h-1zM66 56h1v1h-1zM7 57h1v1h-1zM12 57h1v1h-1zM41 57h1v1h-1zM51 57h1v1h-1zM53 57h1v1h-1zM15 58h1v1h-1zM28 58h1v1h-1zM66 58h1v1h-1zM47 59h2v1h-2zM56 59h1v1h-1zM61 59h1v1h-1zM30 60h1v1h-1zM40 60h1v1h-1zM49 60h1v1h-1zM63 61h1v1h-1zM67 61h1v1h-1zM18 62h1v1h-1zM38 62h1v1h-1zM61 63h1v1h-1zM30 64h1v1h-1zM36 65h1v1h-1zM42 65h1v1h-1zM61 65h1v1h-1zM63 65h1v1h-1zM68 65h1v1h-1zM17 66h2v1h-2zM25 66h1v1h-1zM54 66h1v1h-1zM57 66h1v1h-1zM68 66h1v1h-1zM37 67h1v1h-1zM62 67h1v1h-1zM58 68h1v1h-1zM62 68h1v1h-1zM68 68h1v1h-1zM37 69h2v1h-2zM32 70h1v1h-1zM38 70h1v1h-1zM49 70h1v1h-1zM43 71h1v1h-1zM61 71h1v1h-1zM65 71h1v1h-1zM29 72h1v1h-1zM32 72h1v1h-1zM35 72h1v1h-1zM46 72h1v1h-1zM61 72h1v1h-1zM68 72h1v1h-1zM2 73h1v1h-1zM24 73h1v1h-1zM43 73h1v1h-1zM65 73h1v1h-1zM67 73h2v1h-2zM35 74h1v1h-1zM39 74h1v1h-1zM42 74h1v1h-1zM57 74h1v1h-1zM36 75h1v1h-1zM66 75h1v1h-1z"/><path fill="#a3be6c" d="M53 3h1v1h-1zM15 5h1v1h-1zM52 5h1v1h-1zM30 9h1v1h-1zM53 11h1v1h-1zM14 12h1v1h-1zM40 12h1v1h-1zM11 13h1v1h-1zM16 13h1v1h-1zM8 14h1v1h-1zM66 14h1v1h-1zM52 15h1v1h-1zM26 16h1v1h-1zM28 17h1v1h-1zM11 19h1v1h-1zM13 19h1v1h-1zM53 19h1v1h-1zM56 19h1v1h-1zM9 20h1v1h-1zM55 20h1v1h-1zM30 21h1v1h-1zM10 22h1v1h-1zM14 22h1v1h-1zM37 23h1v1h-1zM52 23h1v1h-1zM9 24h2v1h-2zM51 24h1v1h-1zM17 25h1v1h-1zM25 25h1v1h-1zM53 25h1v1h-1zM12 26h1v1h-1zM50 26h1v1h-1zM14 27h1v1h-1zM17 27h1v1h-1zM25 27h1v1h-1zM28 27h1v1h-1zM8 28h1v1h-1zM11 28h1v1h-1zM14 29h1v1h-1zM26 29h1v1h-1zM57 29h1v1h-1zM53 30h1v1h-1zM56 30h1v1h-1zM12 31h1v1h-1zM16 31h1v1h-1zM25 31h1v1h-1zM28 31h2v1h-2zM54 31h1v1h-1zM69 31h1v1h-1zM29 32h1v1h-1zM67 32h1v1h-1zM28 33h1v1h-1zM31 33h1v1h-1zM56 33h1v1h-1zM8 34h1v1h-1zM38 34h1v1h-1zM56 34h1v1h-1zM65 34h2v1h-2zM9 35h1v1h-1zM56 35h1v1h-1zM56 36h1v1h-1zM65 36h1v1h-1zM26 37h1v1h-1zM28 37h1v1h-1zM14 38h1v1h-1zM25 38h1v1h-1zM28 38h1v1h-1zM36 39h1v1h-1zM53 39h2v1h-2zM9 40h1v1h-1zM13 40h1v1h-1zM66 40h1v1h-1zM7 41h1v1h-1zM14 41h1v1h-1zM30 41h1v1h-1zM63 41h1v1h-1zM27 42h1v1h-1zM30 42h1v1h-1zM54 42h1v1h-1zM9 43h1v1h-1zM11 43h1v1h-1zM27 43h1v1h-1zM64 43h1v1h-1zM67 43h2v1h-2zM26 44h2v1h-2zM41 44h2v1h-2zM55 44h1v1h-1zM11 45h1v1h-1zM28 45h1v1h-1zM36 45h1v1h-1zM57 45h1v1h-1zM63 45h1v1h-1zM26 46h1v1h-1zM39 46h1v1h-1zM53 46h1v1h-1zM64 46h1v1h-1zM8 47h1v1h-1zM37 47h1v1h-1zM12 48h1v1h-1zM41 48h1v1h-1zM53 48h1v1h-1zM67 48h1v1h-1zM12 49h1v1h-1zM42 49h1v1h-1zM16 50h1v1h-1zM31 50h1v1h-1zM36 50h1v1h-1zM41 50h1v1h-1zM10 51h1v1h-1zM25 51h1v1h-1zM37 51h1v1h-1zM51 51h1v1h-1zM55 51h1v1h-1zM63 51h1v1h-1zM66 51h1v1h-1zM49 52h1v1h-1zM54 52h1v1h-1zM57 52h1v1h-1zM25 53h1v1h-1zM36 53h2v1h-2zM11 54h1v1h-1zM55 54h1v1h-1zM9 55h1v1h-1zM40 55h1v1h-1zM65 55h1v1h-1zM17 56h1v1h-1zM52 56h1v1h-1zM64 56h1v1h-1zM28 57h1v1h-1zM36 57h1v1h-1zM40 57h1v1h-1zM26 58h1v1h-1zM40 58h1v1h-1zM54 58h1v1h-1zM62 58h2v1h-2zM68 58h1v1h-1zM7 59h1v1h-1zM17 59h1v1h-1zM53 59h1v1h-1zM50 60h1v1h-1zM66 60h1v1h-1zM7 61h1v1h-1zM53 61h1v1h-1zM64 61h1v1h-1zM16 62h1v1h-1zM27 62h1v1h-1zM40 62h1v1h-1zM11 63h1v1h-1zM35 63h1v1h-1zM58 63h1v1h-1zM36 64h1v1h-1zM56 64h1v1h-1zM67 64h1v1h-1zM32 65h1v1h-1zM36 66h1v1h-1zM40 66h1v1h-1zM43 66h1v1h-1zM62 66h1v1h-1zM67 66h1v1h-1zM26 67h1v1h-1zM54 67h1v1h-1zM58 67h1v1h-1zM32 68h1v1h-1zM36 68h1v1h-1zM40 69h1v1h-1zM62 69h1v1h-1zM65 69h1v1h-1zM31 70h1v1h-1zM42 70h1v1h-1zM67 70h1v1h-1zM11 71h2v1h-2zM26 71h1v1h-1zM37 71h1v1h-1zM41 71h1v1h-1zM37 72h1v1h-1zM40 72h2v1h-2zM18 73h1v1h-1zM27 73h1v1h-1zM39 73h1v1h-1zM66 73h1v1h-1zM6 75h1v1h-1zM29 75h1v1h-1zM61 75h1v1h-1zM65 75h1v1h-1zM67 75h1v1h-1z"/><path fill="#a9be69" d="M29 0h1v1h-1zM15 3h1v1h-1zM8 10h1v1h-1zM29 10h1v1h-1zM51 12h1v1h-1zM12 13h1v1h-1zM10 14h1v1h-1zM27 14h1v1h-1zM30 14h1v1h-1zM13 15h1v1h-1zM29 15h1v1h-1zM37 15h1v1h-1zM51 16h1v1h-1zM9 17h1v1h-1zM12 17h1v1h-1zM30 17h1v1h-1zM56 17h1v1h-1zM12 18h1v1h-1zM55 19h1v1h-1zM10 20h1v1h-1zM16 20h1v1h-1zM63 21h1v1h-1zM15 22h2v1h-2zM12 23h1v1h-1zM16 23h1v1h-1zM26 24h1v1h-1zM39 24h1v1h-1zM52 24h1v1h-1zM8 25h1v1h-1zM15 25h1v1h-1zM30 25h1v1h-1zM37 25h1v1h-1zM11 26h1v1h-1zM15 26h1v1h-1zM28 26h1v1h-1zM12 27h1v1h-1zM16 27h1v1h-1zM37 27h2v1h-2zM62 27h1v1h-1zM9 28h1v1h-1zM28 28h1v1h-1zM50 28h1v1h-1zM13 29h1v1h-1zM29 29h1v1h-1zM55 29h1v1h-1zM26 30h1v1h-1zM28 30h2v1h-2zM8 31h1v1h-1zM10 31h1v1h-1zM13 31h1v1h-1zM16 32h1v1h-1zM52 32h1v1h-1zM54 32h1v1h-1zM10 33h1v1h-1zM39 33h1v1h-1zM54 33h2v1h-2zM12 34h2v1h-2zM15 34h1v1h-1zM25 34h1v1h-1zM29 34h1v1h-1zM41 34h1v1h-1zM13 35h1v1h-1zM16 35h1v1h-1zM31 35h1v1h-1zM57 35h1v1h-1zM8 36h1v1h-1zM12 36h1v1h-1zM15 36h1v1h-1zM26 36h1v1h-1zM51 36h2v1h-2zM54 36h1v1h-1zM8 38h3v1h-3zM29 38h1v1h-1zM38 38h1v1h-1zM52 38h1v1h-1zM54 38h1v1h-1zM28 39h1v1h-1zM41 39h1v1h-1zM52 39h1v1h-1zM57 39h1v1h-1zM10 40h1v1h-1zM27 40h1v1h-1zM38 40h1v1h-1zM51 40h1v1h-1zM11 41h1v1h-1zM7 42h3v1h-3zM25 42h1v1h-1zM53 42h1v1h-1zM16 43h1v1h-1zM38 43h1v1h-1zM54 43h1v1h-1zM14 44h1v1h-1zM36 44h1v1h-1zM25 45h1v1h-1zM41 45h1v1h-1zM13 46h1v1h-1zM28 46h1v1h-1zM36 46h1v1h-1zM42 46h1v1h-1zM10 47h1v1h-1zM26 47h1v1h-1zM29 47h1v1h-1zM31 47h1v1h-1zM39 47h1v1h-1zM63 47h1v1h-1zM10 48h2v1h-2zM13 48h1v1h-1zM30 48h1v1h-1zM36 48h1v1h-1zM51 48h2v1h-2zM56 48h1v1h-1zM26 49h1v1h-1zM28 49h2v1h-2zM54 49h1v1h-1zM67 49h1v1h-1zM39 50h1v1h-1zM51 50h1v1h-1zM66 50h1v1h-1zM8 51h1v1h-1zM50 51h1v1h-1zM53 51h1v1h-1zM67 51h1v1h-1zM7 52h2v1h-2zM11 52h2v1h-2zM31 52h1v1h-1zM51 52h1v1h-1zM13 53h1v1h-1zM27 53h1v1h-1zM38 53h1v1h-1zM65 53h1v1h-1zM7 54h1v1h-1zM17 54h1v1h-1zM32 54h1v1h-1zM52 54h1v1h-1zM54 54h1v1h-1zM25 55h1v1h-1zM27 55h1v1h-1zM32 55h1v1h-1zM43 55h1v1h-1zM64 55h1v1h-1zM8 56h1v1h-1zM29 56h1v1h-1zM42 56h1v1h-1zM68 57h1v1h-1zM13 58h1v1h-1zM27 58h1v1h-1zM30 58h1v1h-1zM10 60h1v1h-1zM53 60h1v1h-1zM30 61h2v1h-2zM51 61h1v1h-1zM58 61h1v1h-1zM68 62h1v1h-1zM15 63h1v1h-1zM26 63h1v1h-1zM29 63h1v1h-1zM41 63h1v1h-1zM53 63h1v1h-1zM62 63h1v1h-1zM65 63h1v1h-1zM62 64h1v1h-1zM64 64h1v1h-1zM7 65h1v1h-1zM35 65h1v1h-1zM49 65h1v1h-1zM62 65h1v1h-1zM67 65h1v1h-1zM27 66h1v1h-1zM37 66h2v1h-2zM56 66h1v1h-1zM15 67h1v1h-1zM27 67h1v1h-1zM32 67h1v1h-1zM10 68h1v1h-1zM23 68h1v1h-1zM42 68h1v1h-1zM51 68h2v1h-2zM35 69h1v1h-1zM58 69h1v1h-1zM66 69h1v1h-1zM27 70h1v1h-1zM37 70h1v1h-1zM53 70h1v1h-1zM6 71h1v1h-1zM24 71h1v1h-1zM36 71h1v1h-1zM49 71h1v1h-1zM63 71h1v1h-1zM7 72h1v1h-1zM38 72h1v1h-1zM42 72h1v1h-1zM54 72h1v1h-1zM28 73h1v1h-1zM8 74h1v1h-1zM38 74h1v1h-1zM28 75h1v1h-1zM42 75h1v1h-1zM63 75h1v1h-1z"/><path fill="#afbe67" d="M10 11h1v1h-1zM64 15h1v1h-1zM28 16h1v1h-1zM8 19h1v1h-1zM14 21h2v1h-2zM8 23h1v1h-1zM29 24h2v1h-2zM50 24h1v1h-1zM26 25h1v1h-1zM67 25h1v1h-1zM11 27h1v1h-1zM14 28h1v1h-1zM52 28h1v1h-1zM54 28h1v1h-1zM54 29h1v1h-1zM16 30h1v1h-1zM14 31h1v1h-1zM26 31h1v1h-1zM12 32h2v1h-2zM36 32h1v1h-1zM41 32h1v1h-1zM55 32h1v1h-1zM8 33h1v1h-1zM11 33h1v1h-1zM40 33h1v1h-1zM52 33h1v1h-1zM10 35h1v1h-1zM52 35h1v1h-1zM16 36h1v1h-1zM57 36h1v1h-1zM9 37h1v1h-1zM16 37h1v1h-1zM12 38h1v1h-1zM57 38h1v1h-1zM25 41h2v1h-2zM37 41h1v1h-1zM41 41h1v1h-1zM11 42h1v1h-1zM14 42h2v1h-2zM50 42h1v1h-1zM55 42h2v1h-2zM8 43h1v1h-1zM17 43h1v1h-1zM29 43h2v1h-2zM40 43h1v1h-1zM10 44h1v1h-1zM37 44h1v1h-1zM30 45h1v1h-1zM33 45h1v1h-1zM40 45h1v1h-1zM52 45h1v1h-1zM56 45h1v1h-1zM50 46h1v1h-1zM54 46h1v1h-1zM67 46h1v1h-1zM7 47h1v1h-1zM9 47h1v1h-1zM13 47h1v1h-1zM16 47h1v1h-1zM30 47h1v1h-1zM41 47h1v1h-1zM16 48h1v1h-1zM31 48h1v1h-1zM42 48h1v1h-1zM10 49h2v1h-2zM15 50h1v1h-1zM29 50h2v1h-2zM42 50h1v1h-1zM14 51h1v1h-1zM17 51h1v1h-1zM38 51h1v1h-1zM16 52h1v1h-1zM27 52h1v1h-1zM37 52h1v1h-1zM64 52h1v1h-1zM11 53h1v1h-1zM14 53h2v1h-2zM50 53h1v1h-1zM64 53h1v1h-1zM25 54h2v1h-2zM31 54h1v1h-1zM56 54h1v1h-1zM63 54h1v1h-1zM15 55h1v1h-1zM36 55h2v1h-2zM54 55h1v1h-1zM62 55h1v1h-1zM15 56h1v1h-1zM26 56h1v1h-1zM30 56h1v1h-1zM36 56h1v1h-1zM40 56h1v1h-1zM50 56h1v1h-1zM62 56h1v1h-1zM10 57h1v1h-1zM22 57h1v1h-1zM52 57h1v1h-1zM56 57h1v1h-1zM65 57h1v1h-1zM37 58h1v1h-1zM39 58h1v1h-1zM53 58h1v1h-1zM13 59h1v1h-1zM40 59h1v1h-1zM42 59h1v1h-1zM67 59h1v1h-1zM9 60h1v1h-1zM36 60h2v1h-2zM10 61h1v1h-1zM25 61h1v1h-1zM39 61h1v1h-1zM10 62h1v1h-1zM26 62h1v1h-1zM37 62h1v1h-1zM41 62h1v1h-1zM51 62h1v1h-1zM62 62h1v1h-1zM66 62h1v1h-1zM49 63h1v1h-1zM57 63h1v1h-1zM37 64h1v1h-1zM40 64h1v1h-1zM42 64h1v1h-1zM63 64h1v1h-1zM66 64h1v1h-1zM38 65h1v1h-1zM58 65h1v1h-1zM66 65h1v1h-1zM29 66h1v1h-1zM39 66h1v1h-1zM42 66h1v1h-1zM51 66h1v1h-1zM58 66h1v1h-1zM11 67h1v1h-1zM14 67h1v1h-1zM41 67h1v1h-1zM63 67h1v1h-1zM66 67h1v1h-1zM40 68h2v1h-2zM65 68h1v1h-1zM8 69h1v1h-1zM16 69h1v1h-1zM39 69h1v1h-1zM49 69h1v1h-1zM55 69h1v1h-1zM68 69h1v1h-1zM24 70h3v1h-3zM28 70h1v1h-1zM63 70h2v1h-2zM13 71h1v1h-1zM29 71h1v1h-1zM35 71h1v1h-1zM64 71h1v1h-1zM18 72h1v1h-1zM39 72h1v1h-1zM52 72h1v1h-1zM57 72h2v1h-2zM64 72h2v1h-2zM13 73h1v1h-1zM32 73h1v1h-1zM36 73h3v1h-3zM50 73h1v1h-1zM58 73h1v1h-1zM63 73h1v1h-1zM24 74h1v1h-1z"/><path fill="#b5bd64" d="M52 7h1v1h-1zM9 16h1v1h-1zM16 16h1v1h-1zM11 18h1v1h-1zM56 20h1v1h-1zM9 21h1v1h-1zM13 22h1v1h-1zM29 22h1v1h-1zM51 22h1v1h-1zM53 24h1v1h-1zM41 26h1v1h-1zM52 26h1v1h-1zM9 29h1v1h-1zM11 29h1v1h-1zM52 29h1v1h-1zM9 30h1v1h-1zM27 30h1v1h-1zM37 31h1v1h-1zM40 31h1v1h-1zM28 32h1v1h-1zM53 32h1v1h-1zM26 34h1v1h-1zM12 35h1v1h-1zM54 35h1v1h-1zM10 37h1v1h-1zM50 38h1v1h-1zM56 38h1v1h-1zM11 39h1v1h-1zM37 39h1v1h-1zM50 39h1v1h-1zM14 40h1v1h-1zM31 41h1v1h-1zM40 42h1v1h-1zM31 43h1v1h-1zM37 43h1v1h-1zM53 43h1v1h-1zM55 43h1v1h-1zM9 44h1v1h-1zM28 44h1v1h-1zM15 45h1v1h-1zM37 45h1v1h-1zM53 45h1v1h-1zM10 46h1v1h-1zM51 46h1v1h-1zM11 47h1v1h-1zM17 47h1v1h-1zM27 47h2v1h-2zM40 47h1v1h-1zM8 48h1v1h-1zM26 48h1v1h-1zM28 48h1v1h-1zM50 48h1v1h-1zM13 49h1v1h-1zM50 49h1v1h-1zM56 49h1v1h-1zM11 50h1v1h-1zM27 50h1v1h-1zM50 50h1v1h-1zM55 50h1v1h-1zM29 51h1v1h-1zM31 51h1v1h-1zM40 51h2v1h-2zM30 52h1v1h-1zM41 52h1v1h-1zM62 52h1v1h-1zM12 53h1v1h-1zM54 53h1v1h-1zM56 53h1v1h-1zM8 54h1v1h-1zM16 54h1v1h-1zM28 54h1v1h-1zM64 54h1v1h-1zM16 55h1v1h-1zM26 55h1v1h-1zM29 55h1v1h-1zM50 55h3v1h-3zM55 55h1v1h-1zM57 55h1v1h-1zM9 56h2v1h-2zM41 56h1v1h-1zM57 56h1v1h-1zM16 57h1v1h-1zM26 57h1v1h-1zM37 57h1v1h-1zM9 58h1v1h-1zM14 58h1v1h-1zM50 58h1v1h-1zM50 59h1v1h-1zM54 59h1v1h-1zM28 60h1v1h-1zM38 60h1v1h-1zM52 60h1v1h-1zM57 60h1v1h-1zM64 60h1v1h-1zM8 61h1v1h-1zM14 61h1v1h-1zM28 61h1v1h-1zM14 62h1v1h-1zM28 62h1v1h-1zM36 62h1v1h-1zM54 62h1v1h-1zM7 63h1v1h-1zM10 63h1v1h-1zM12 63h1v1h-1zM25 63h1v1h-1zM40 63h1v1h-1zM52 63h1v1h-1zM66 63h1v1h-1zM68 63h1v1h-1zM14 64h1v1h-1zM41 64h1v1h-1zM18 65h1v1h-1zM28 65h1v1h-1zM31 65h1v1h-1zM40 65h1v1h-1zM52 65h1v1h-1zM7 66h1v1h-1zM50 66h1v1h-1zM9 68h1v1h-1zM16 68h1v1h-1zM25 68h1v1h-1zM50 68h1v1h-1zM54 68h1v1h-1zM56 68h2v1h-2zM64 68h1v1h-1zM13 69h1v1h-1zM32 69h1v1h-1zM36 69h1v1h-1zM41 69h1v1h-1zM9 70h2v1h-2zM30 70h1v1h-1zM39 70h1v1h-1zM58 70h1v1h-1zM51 71h1v1h-1zM49 72h1v1h-1zM67 72h1v1h-1zM25 73h1v1h-1zM40 74h2v1h-2zM51 74h1v1h-1zM54 74h1v1h-1zM64 74h1v1h-1zM67 74h1v1h-1zM24 75h1v1h-1zM31 75h1v1h-1zM41 75h1v1h-1zM49 75h1v1h-1zM62 75h1v1h-1z"/><path fill="#bbbd62" d="M10 18h1v1h-1zM10 19h1v1h-1zM30 28h1v1h-1zM51 28h1v1h-1zM50 30h1v1h-1zM9 32h1v1h-1zM56 32h1v1h-1zM12 33h1v1h-1zM14 33h1v1h-1zM51 33h1v1h-1zM9 34h1v1h-1zM52 34h1v1h-1zM17 35h1v1h-1zM55 35h1v1h-1zM12 37h1v1h-1zM14 37h1v1h-1zM56 37h1v1h-1zM16 38h1v1h-1zM26 38h2v1h-2zM16 40h1v1h-1zM36 41h1v1h-1zM50 41h2v1h-2zM56 41h1v1h-1zM26 42h1v1h-1zM26 43h1v1h-1zM41 43h1v1h-1zM56 43h1v1h-1zM8 44h1v1h-1zM51 44h1v1h-1zM9 45h1v1h-1zM9 46h1v1h-1zM12 46h1v1h-1zM27 46h1v1h-1zM15 47h1v1h-1zM52 47h1v1h-1zM8 49h1v1h-1zM16 49h1v1h-1zM25 49h1v1h-1zM30 49h1v1h-1zM57 49h1v1h-1zM28 50h1v1h-1zM54 50h1v1h-1zM57 50h1v1h-1zM12 51h1v1h-1zM28 51h1v1h-1zM30 51h1v1h-1zM15 52h1v1h-1zM39 52h1v1h-1zM8 53h2v1h-2zM40 53h1v1h-1zM14 54h1v1h-1zM37 54h1v1h-1zM53 55h1v1h-1zM66 55h1v1h-1zM25 56h1v1h-1zM27 56h1v1h-1zM54 56h1v1h-1zM17 57h1v1h-1zM63 57h1v1h-1zM7 58h1v1h-1zM17 58h1v1h-1zM31 58h1v1h-1zM27 59h1v1h-1zM29 59h1v1h-1zM31 59h1v1h-1zM38 59h1v1h-1zM51 59h1v1h-1zM57 59h1v1h-1zM8 60h1v1h-1zM17 60h1v1h-1zM25 60h1v1h-1zM41 60h1v1h-1zM54 60h1v1h-1zM56 60h1v1h-1zM62 60h1v1h-1zM16 61h1v1h-1zM50 61h1v1h-1zM54 61h1v1h-1zM7 62h1v1h-1zM9 62h1v1h-1zM11 62h1v1h-1zM17 62h1v1h-1zM29 62h2v1h-2zM42 62h1v1h-1zM50 62h1v1h-1zM13 63h1v1h-1zM39 63h1v1h-1zM56 63h1v1h-1zM8 64h1v1h-1zM17 64h1v1h-1zM26 64h1v1h-1zM38 64h1v1h-1zM49 64h1v1h-1zM54 64h1v1h-1zM12 65h1v1h-1zM14 65h1v1h-1zM29 65h1v1h-1zM50 65h1v1h-1zM31 66h1v1h-1zM65 66h1v1h-1zM39 67h1v1h-1zM53 67h1v1h-1zM55 67h1v1h-1zM27 68h1v1h-1zM39 68h1v1h-1zM63 68h1v1h-1zM15 69h1v1h-1zM31 69h1v1h-1zM42 69h1v1h-1zM56 69h1v1h-1zM40 70h1v1h-1zM52 70h1v1h-1zM31 71h1v1h-1zM66 71h1v1h-1zM13 72h1v1h-1zM24 72h1v1h-1zM26 72h1v1h-1zM55 72h2v1h-2zM42 73h1v1h-1zM49 73h1v1h-1zM57 73h1v1h-1zM11 74h2v1h-2zM26 74h1v1h-1zM28 74h1v1h-1zM50 74h1v1h-1zM62 74h1v1h-1zM65 74h2v1h-2zM52 75h1v1h-1z"/><path fill="#c1bc60" d="M56 31h1v1h-1zM50 33h1v1h-1zM11 34h1v1h-1zM38 35h1v1h-1zM51 35h1v1h-1zM13 36h2v1h-2zM27 36h1v1h-1zM30 36h1v1h-1zM50 36h1v1h-1zM55 37h1v1h-1zM13 39h1v1h-1zM56 39h1v1h-1zM28 42h1v1h-1zM13 44h1v1h-1zM50 44h1v1h-1zM54 44h1v1h-1zM12 45h1v1h-1zM26 45h1v1h-1zM8 46h1v1h-1zM14 46h1v1h-1zM25 46h1v1h-1zM56 46h1v1h-1zM53 47h1v1h-1zM55 47h1v1h-1zM57 47h1v1h-1zM9 48h1v1h-1zM55 48h1v1h-1zM10 50h1v1h-1zM14 50h1v1h-1zM37 50h1v1h-1zM56 50h1v1h-1zM27 51h1v1h-1zM14 52h1v1h-1zM50 52h1v1h-1zM16 53h1v1h-1zM28 53h2v1h-2zM55 53h1v1h-1zM13 54h1v1h-1zM15 54h1v1h-1zM29 54h1v1h-1zM53 54h1v1h-1zM57 54h1v1h-1zM28 55h1v1h-1zM13 56h1v1h-1zM13 57h1v1h-1zM27 57h1v1h-1zM38 58h1v1h-1zM52 58h1v1h-1zM10 59h1v1h-1zM14 59h1v1h-1zM55 59h1v1h-1zM11 60h2v1h-2zM16 60h1v1h-1zM27 60h1v1h-1zM31 60h1v1h-1zM11 61h1v1h-1zM40 61h1v1h-1zM53 62h1v1h-1zM14 63h1v1h-1zM37 63h1v1h-1zM54 63h1v1h-1zM7 64h1v1h-1zM28 64h1v1h-1zM50 64h1v1h-1zM53 64h1v1h-1zM57 64h1v1h-1zM11 65h1v1h-1zM26 65h2v1h-2zM30 65h1v1h-1zM10 66h1v1h-1zM30 66h1v1h-1zM55 66h1v1h-1zM7 67h1v1h-1zM7 68h1v1h-1zM55 68h1v1h-1zM11 69h1v1h-1zM12 70h2v1h-2zM51 70h1v1h-1zM38 71h1v1h-1zM30 73h1v1h-1zM53 73h1v1h-1zM10 74h1v1h-1zM15 74h1v1h-1zM29 74h2v1h-2zM37 74h1v1h-1zM55 74h1v1h-1zM17 75h1v1h-1zM38 75h1v1h-1zM57 75h1v1h-1z"/><path fill="#c6bc5d" d="M26 26h1v1h-1zM14 30h1v1h-1zM7 36h1v1h-1zM51 37h1v1h-1zM29 40h1v1h-1zM57 40h1v1h-1zM12 43h1v1h-1zM14 43h1v1h-1zM25 43h1v1h-1zM57 43h1v1h-1zM17 45h1v1h-1zM27 49h1v1h-1zM38 50h1v1h-1zM15 51h1v1h-1zM57 51h1v1h-1zM13 52h1v1h-1zM29 52h1v1h-1zM31 53h1v1h-1zM53 53h1v1h-1zM57 53h1v1h-1zM40 54h1v1h-1zM17 55h1v1h-1zM38 55h1v1h-1zM12 56h1v1h-1zM16 56h1v1h-1zM53 56h1v1h-1zM9 57h1v1h-1zM11 57h1v1h-1zM25 57h1v1h-1zM30 57h2v1h-2zM50 57h1v1h-1zM11 58h1v1h-1zM36 58h1v1h-1zM55 58h1v1h-1zM57 58h1v1h-1zM8 59h1v1h-1zM25 59h1v1h-1zM52 59h1v1h-1zM7 60h1v1h-1zM51 60h1v1h-1zM12 61h1v1h-1zM27 61h1v1h-1zM8 62h1v1h-1zM52 62h1v1h-1zM8 63h1v1h-1zM30 63h1v1h-1zM36 63h1v1h-1zM10 64h1v1h-1zM31 64h1v1h-1zM15 65h1v1h-1zM25 65h1v1h-1zM65 65h1v1h-1zM9 66h1v1h-1zM16 66h1v1h-1zM13 67h1v1h-1zM16 67h1v1h-1zM57 67h1v1h-1zM15 68h1v1h-1zM35 68h1v1h-1zM9 69h1v1h-1zM17 69h1v1h-1zM64 69h1v1h-1zM7 70h1v1h-1zM41 70h1v1h-1zM50 70h1v1h-1zM7 71h1v1h-1zM10 71h1v1h-1zM27 71h1v1h-1zM55 71h1v1h-1zM57 71h1v1h-1zM68 71h1v1h-1zM8 72h2v1h-2zM15 72h1v1h-1zM28 72h1v1h-1zM51 72h1v1h-1zM62 72h1v1h-1zM9 73h1v1h-1zM29 73h1v1h-1zM41 73h1v1h-1zM52 73h1v1h-1zM9 74h1v1h-1zM36 74h1v1h-1zM8 75h1v1h-1zM26 75h1v1h-1z"/><path fill="#ccbb5b" d="M27 28h1v1h-1zM52 41h2v1h-2zM10 42h1v1h-1zM51 42h1v1h-1zM10 43h1v1h-1zM10 45h1v1h-1zM30 46h1v1h-1zM55 46h1v1h-1zM29 48h1v1h-1zM15 49h1v1h-1zM7 50h1v1h-1zM52 50h1v1h-1zM13 51h1v1h-1zM54 51h1v1h-1zM40 52h1v1h-1zM51 53h1v1h-1zM10 54h1v1h-1zM36 54h1v1h-1zM8 55h1v1h-1zM56 55h1v1h-1zM11 56h1v1h-1zM51 56h1v1h-1zM10 58h1v1h-1zM25 58h1v1h-1zM26 59h1v1h-1zM13 60h1v1h-1zM26 60h1v1h-1zM26 61h1v1h-1zM52 61h1v1h-1zM55 61h3v1h-3zM62 61h1v1h-1zM13 62h1v1h-1zM56 62h1v1h-1zM9 63h1v1h-1zM12 64h1v1h-1zM15 64h1v1h-1zM29 64h1v1h-1zM52 64h1v1h-1zM55 64h1v1h-1zM8 65h1v1h-1zM53 65h1v1h-1zM57 65h1v1h-1zM12 66h1v1h-1zM14 66h2v1h-2zM8 67h1v1h-1zM30 67h1v1h-1zM51 67h1v1h-1zM11 68h2v1h-2zM14 68h1v1h-1zM53 68h1v1h-1zM29 69h1v1h-1zM51 69h1v1h-1zM53 69h1v1h-1zM17 70h1v1h-1zM36 70h1v1h-1zM54 70h1v1h-1zM14 71h1v1h-1zM16 71h2v1h-2zM30 71h1v1h-1zM52 71h1v1h-1zM54 71h1v1h-1zM56 71h1v1h-1zM11 72h1v1h-1zM14 72h1v1h-1zM11 73h1v1h-1zM26 73h1v1h-1zM31 73h1v1h-1zM7 74h1v1h-1zM14 74h1v1h-1zM25 74h1v1h-1zM32 74h1v1h-1zM52 74h1v1h-1zM58 74h1v1h-1zM10 75h2v1h-2zM25 75h1v1h-1zM27 75h1v1h-1zM32 75h1v1h-1zM54 75h1v1h-1zM58 75h1v1h-1z"/><path fill="#d1bb59" d="M50 45h1v1h-1zM57 48h1v1h-1zM11 51h1v1h-1zM52 51h1v1h-1zM9 52h2v1h-2zM10 53h1v1h-1zM26 53h1v1h-1zM12 54h1v1h-1zM30 54h1v1h-1zM10 55h1v1h-1zM8 57h1v1h-1zM14 57h2v1h-2zM55 57h1v1h-1zM12 58h1v1h-1zM15 59h1v1h-1zM14 60h1v1h-1zM29 60h1v1h-1zM42 60h1v1h-1zM13 61h1v1h-1zM15 61h1v1h-1zM15 62h1v1h-1zM25 62h1v1h-1zM27 63h1v1h-1zM51 63h1v1h-1zM9 64h1v1h-1zM13 64h1v1h-1zM10 65h1v1h-1zM17 65h1v1h-1zM56 65h1v1h-1zM31 67h1v1h-1zM52 67h1v1h-1zM8 68h1v1h-1zM67 68h1v1h-1zM14 69h1v1h-1zM27 69h1v1h-1zM54 69h1v1h-1zM15 70h2v1h-2zM29 70h1v1h-1zM28 71h1v1h-1zM39 71h1v1h-1zM53 71h1v1h-1zM31 72h1v1h-1zM7 73h1v1h-1zM15 73h1v1h-1zM16 74h1v1h-1zM9 75h1v1h-1zM56 75h1v1h-1zM68 75h1v1h-1z"/><path fill="#d7ba57" d="M56 28h1v1h-1zM8 41h2v1h-2zM13 42h1v1h-1zM12 44h1v1h-1zM29 57h1v1h-1zM54 57h1v1h-1zM16 58h1v1h-1zM9 59h1v1h-1zM12 59h1v1h-1zM12 62h1v1h-1zM31 62h1v1h-1zM17 63h1v1h-1zM13 65h1v1h-1zM55 65h1v1h-1zM26 66h1v1h-1zM28 66h1v1h-1zM53 66h1v1h-1zM9 67h1v1h-1zM25 67h1v1h-1zM29 67h1v1h-1zM50 67h1v1h-1zM56 67h1v1h-1zM28 68h1v1h-1zM26 69h1v1h-1zM30 69h1v1h-1zM50 69h1v1h-1zM11 70h1v1h-1zM56 70h2v1h-2zM9 71h1v1h-1zM17 72h1v1h-1zM27 72h1v1h-1zM50 72h1v1h-1zM12 73h1v1h-1zM51 73h1v1h-1zM27 74h1v1h-1zM53 74h1v1h-1zM7 75h1v1h-1zM12 75h1v1h-1zM51 75h1v1h-1z"/><path fill="#dcba54" d="M14 48h1v1h-1zM12 50h1v1h-1zM9 54h1v1h-1zM56 56h1v1h-1zM30 59h1v1h-1zM55 60h1v1h-1zM9 61h1v1h-1zM50 63h1v1h-1zM11 64h1v1h-1zM51 65h1v1h-1zM8 66h1v1h-1zM52 66h1v1h-1zM28 67h1v1h-1zM25 69h1v1h-1zM28 69h1v1h-1zM55 70h1v1h-1zM25 71h1v1h-1zM50 71h1v1h-1zM12 72h1v1h-1zM25 72h1v1h-1zM36 72h1v1h-1zM15 75h2v1h-2zM30 75h1v1h-1z"/><path fill="#e2b952" d="M16 42h1v1h-1zM55 52h1v1h-1zM15 60h1v1h-1zM29 61h1v1h-1zM57 62h1v1h-1zM16 63h1v1h-1zM51 64h1v1h-1zM54 65h1v1h-1zM13 66h1v1h-1zM10 67h1v1h-1zM17 67h1v1h-1zM13 68h1v1h-1zM31 68h1v1h-1zM10 69h1v1h-1zM12 69h1v1h-1zM52 69h1v1h-1zM57 69h1v1h-1zM8 70h1v1h-1zM8 73h1v1h-1zM10 73h1v1h-1zM54 73h2v1h-2zM13 74h1v1h-1zM17 74h1v1h-1zM49 74h1v1h-1zM55 75h1v1h-1z"/><path fill="#e7b94f" d="M11 55h1v1h-1zM8 58h1v1h-1zM11 59h1v1h-1zM55 63h1v1h-1zM16 64h1v1h-1zM11 66h1v1h-1zM26 68h1v1h-1zM29 68h2v1h-2zM10 72h1v1h-1zM30 72h1v1h-1zM14 73h1v1h-1zM17 73h1v1h-1zM56 73h1v1h-1zM13 75h2v1h-2z"/><path fill="#ecb94c" d="M28 56h1v1h-1zM31 63h1v1h-1zM25 64h1v1h-1zM17 68h1v1h-1zM16 72h1v1h-1zM31 74h1v1h-1zM50 75h1v1h-1z"/><path fill="#f1b949" d="M16 65h1v1h-1z"/><path fill="#f6ba46" d="M14 70h1v1h-1zM8 71h1v1h-1z"/><path fill="#fabc41" d="M16 73h1v1h-1z"/></g></g></g>
<rect x="397.9" y="37.4" width="139.6" height="1.2" fill="#d8c860" opacity="0.55"/>
<rect x="397.9" y="39.4" width="139.6" height="1.2" fill="#d8c860" opacity="0.4"/>
<rect x="397.9" y="45.2" width="139.6" height="1.2" fill="#d8c860" opacity="0.5"/>
<rect x="397.9" y="48.2" width="139.6" height="1.2" fill="#d8c860" opacity="0.35"/>
<rect x="397.9" y="170.9" width="139.6" height="1.8" fill="#0cadbb" opacity="0.75"/>
<rect x="397.9" y="172.6" width="139.6" height="2.7" fill="#f9fb0e"/>
<path d="M397.6 23.5 V175.4 H537.5" fill="none" stroke="#7a7a8a" stroke-width="0.8"/>
<clipPath id="clip9"><rect x="397.90" y="233.90" width="139.70" height="151.70"/></clipPath>
<g clip-path="url(#clip9)"><g filter="url(#sblur)"><g transform="translate(397.90 233.90) scale(1.3970 3.0340)" shape-rendering="crispEdges"><path fill="#06a6c7" d="M69 4h1v1h-1z"/><path fill="#0dadbb" d="M11 2h1v1h-1zM0 5h1v1h-1z"/><path fill="#10afb8" d="M27 4h1v1h-1z"/><path fill="#15b0b5" d="M33 0h1v1h-1z"/><path fill="#19b2b1" d="M30 1h1v1h-1zM60 2h1v1h-1zM62 27h1v1h-1z"/><path fill="#1eb3ae" d="M32 12h1v1h-1z"/><path fill="#24b5aa" d="M33 3h1v1h-1zM61 5h1v1h-1zM63 9h1v1h-1zM96 18h1v1h-1zM94 20h1v1h-1z"/><path fill="#30b7a3" d="M46 1h1v1h-1zM11 5h1v1h-1zM2 11h1v1h-1zM9 13h1v1h-1zM99 15h1v1h-1zM27 16h1v1h-1zM5 19h1v1h-1zM30 26h1v1h-1z"/><path fill="#36b99f" d="M5 0h1v1h-1zM67 0h1v1h-1zM25 5h1v1h-1zM1 7h1v1h-1zM47 10h1v1h-1zM44 15h1v1h-1zM27 17h1v1h-1zM28 18h1v1h-1zM29 49h1v1h-1z"/><path fill="#3dba9b" d="M17 3h1v1h-1zM12 6h1v1h-1zM85 6h1v1h-1zM34 7h1v1h-1zM95 7h1v1h-1zM97 10h1v1h-1zM90 18h1v1h-1zM70 26h1v1h-1zM27 29h1v1h-1zM61 32h1v1h-1z"/><path fill="#44bb97" d="M9 4h1v1h-1zM66 5h1v1h-1zM69 7h1v1h-1zM44 8h1v1h-1zM39 12h1v1h-1zM28 13h1v1h-1zM88 24h1v1h-1zM30 33h1v1h-1zM68 38h1v1h-1zM25 49h1v1h-1z"/><path fill="#4bbc93" d="M85 0h1v1h-1zM47 1h1v1h-1zM34 2h1v1h-1zM17 5h1v1h-1zM68 12h1v1h-1zM85 13h1v1h-1zM90 16h1v1h-1zM92 16h1v1h-1zM43 20h1v1h-1zM2 23h1v1h-1zM28 29h1v1h-1zM86 31h1v1h-1zM88 38h1v1h-1zM29 46h1v1h-1zM61 49h1v1h-1zM65 49h1v1h-1z"/><path fill="#53bd8f" d="M8 1h1v1h-1zM21 1h1v1h-1zM28 1h1v1h-1zM10 9h1v1h-1zM15 11h1v1h-1zM34 11h1v1h-1zM48 19h1v1h-1zM87 19h1v1h-1zM46 22h1v1h-1zM79 23h1v1h-1zM45 24h1v1h-1zM86 28h1v1h-1zM87 29h1v1h-1zM67 32h1v1h-1zM91 32h1v1h-1zM2 33h1v1h-1zM29 33h1v1h-1zM28 46h1v1h-1zM4 49h1v1h-1zM24 49h1v1h-1z"/><path fill="#5bbd8b" d="M1 3h1v1h-1zM39 7h1v1h-1zM6 8h1v1h-1zM25 8h1v1h-1zM5 10h1v1h-1zM27 10h1v1h-1zM26 14h1v1h-1zM61 14h1v1h-1zM8 16h1v1h-1zM5 18h1v1h-1zM11 22h1v1h-1zM63 28h1v1h-1zM61 40h1v1h-1zM2 43h1v1h-1zM5 45h1v1h-1z"/><path fill="#63be87" d="M95 3h1v1h-1zM34 5h1v1h-1zM28 6h1v1h-1zM23 12h1v1h-1zM2 13h1v1h-1zM84 16h1v1h-1zM90 17h1v1h-1zM46 20h1v1h-1zM46 21h1v1h-1zM4 22h1v1h-1zM90 26h1v1h-1zM33 33h1v1h-1zM29 34h1v1h-1zM7 41h1v1h-1zM68 49h1v1h-1zM94 49h1v1h-1zM96 49h1v1h-1z"/><path fill="#6abe83" d="M12 2h1v1h-1zM25 3h1v1h-1zM28 3h1v1h-1zM94 3h1v1h-1zM69 6h1v1h-1zM65 8h1v1h-1zM60 9h1v1h-1zM59 12h1v1h-1zM57 14h1v1h-1zM52 21h1v1h-1zM75 22h1v1h-1zM64 24h1v1h-1zM4 26h1v1h-1zM3 27h1v1h-1zM94 29h1v1h-1zM86 38h1v1h-1zM68 44h1v1h-1zM53 49h1v1h-1zM66 49h1v1h-1z"/><path fill="#72bf80" d="M34 0h1v1h-1zM65 0h1v1h-1zM77 2h1v1h-1zM68 3h1v1h-1zM87 3h1v1h-1zM6 4h1v1h-1zM93 4h1v1h-1zM56 6h1v1h-1zM62 10h1v1h-1zM86 10h1v1h-1zM26 12h1v1h-1zM41 12h1v1h-1zM87 12h1v1h-1zM6 13h1v1h-1zM4 14h1v1h-1zM43 14h1v1h-1zM49 14h1v1h-1zM84 17h1v1h-1zM89 17h1v1h-1zM98 18h1v1h-1zM34 20h1v1h-1zM69 20h1v1h-1zM67 21h1v1h-1zM94 25h1v1h-1zM46 26h1v1h-1zM98 27h1v1h-1zM95 28h1v1h-1zM32 30h1v1h-1zM90 35h1v1h-1zM43 39h1v1h-1zM6 42h1v1h-1zM27 45h1v1h-1z"/><path fill="#7abf7c" d="M87 0h1v1h-1zM91 0h1v1h-1zM31 1h1v1h-1zM39 3h1v1h-1zM66 3h1v1h-1zM86 4h1v1h-1zM26 5h1v1h-1zM68 5h1v1h-1zM4 6h1v1h-1zM53 6h1v1h-1zM56 8h1v1h-1zM30 9h1v1h-1zM9 11h1v1h-1zM9 12h1v1h-1zM84 19h1v1h-1zM26 25h1v1h-1zM64 26h1v1h-1zM85 32h1v1h-1zM67 33h1v1h-1zM42 35h1v1h-1zM43 38h1v1h-1zM98 49h1v1h-1z"/><path fill="#81bf79" d="M1 0h1v1h-1zM28 0h1v1h-1zM10 1h1v1h-1zM70 1h1v1h-1zM13 2h1v1h-1zM22 2h1v1h-1zM25 2h2v1h-2zM91 2h1v1h-1zM10 3h1v1h-1zM3 5h1v1h-1zM62 8h1v1h-1zM25 9h1v1h-1zM5 12h1v1h-1zM49 13h1v1h-1zM96 14h1v1h-1zM95 17h1v1h-1zM69 18h1v1h-1zM62 19h1v1h-1zM85 23h1v1h-1zM27 25h1v1h-1zM38 28h1v1h-1zM91 28h1v1h-1zM89 29h1v1h-1zM41 49h1v1h-1zM83 49h1v1h-1z"/><path fill="#88bf76" d="M11 0h1v1h-1zM17 0h1v1h-1zM31 0h1v1h-1zM62 0h1v1h-1zM75 0h1v1h-1zM39 1h1v1h-1zM44 1h1v1h-1zM65 1h1v1h-1zM7 2h1v1h-1zM1 5h1v1h-1zM41 5h1v1h-1zM43 5h1v1h-1zM1 6h1v1h-1zM44 6h1v1h-1zM6 7h1v1h-1zM12 7h1v1h-1zM69 8h1v1h-1zM39 9h1v1h-1zM44 10h1v1h-1zM84 10h1v1h-1zM32 11h1v1h-1zM33 12h1v1h-1zM62 13h1v1h-1zM21 15h1v1h-1zM40 15h1v1h-1zM29 16h1v1h-1zM51 16h1v1h-1zM68 16h1v1h-1zM78 19h1v1h-1zM75 20h1v1h-1zM6 23h1v1h-1zM90 23h1v1h-1zM66 26h1v1h-1zM67 27h1v1h-1zM91 27h1v1h-1zM46 28h1v1h-1zM85 28h1v1h-1zM55 31h1v1h-1zM34 35h1v1h-1zM49 36h1v1h-1zM67 44h1v1h-1zM61 47h1v1h-1zM2 48h1v1h-1z"/><path fill="#8fbf73" d="M24 0h1v1h-1zM27 1h1v1h-1zM29 2h1v1h-1zM38 2h1v1h-1zM63 2h1v1h-1zM67 2h1v1h-1zM18 3h1v1h-1zM44 4h1v1h-1zM64 4h1v1h-1zM71 4h1v1h-1zM24 5h1v1h-1zM60 5h1v1h-1zM52 7h1v1h-1zM64 7h1v1h-1zM68 8h1v1h-1zM87 8h1v1h-1zM46 9h1v1h-1zM58 9h1v1h-1zM64 9h1v1h-1zM67 9h1v1h-1zM91 10h2v1h-2zM7 13h1v1h-1zM88 13h1v1h-1zM34 14h1v1h-1zM93 14h1v1h-1zM63 15h1v1h-1zM9 16h1v1h-1zM8 17h1v1h-1zM25 20h1v1h-1zM75 23h1v1h-1zM43 24h1v1h-1zM69 25h1v1h-1zM61 26h1v1h-1zM92 26h1v1h-1zM38 29h1v1h-1zM0 30h1v1h-1zM84 30h1v1h-1zM85 31h1v1h-1zM40 32h1v1h-1zM77 33h1v1h-1zM50 36h1v1h-1zM12 37h1v1h-1zM43 37h1v1h-1zM36 42h1v1h-1zM61 42h1v1h-1zM47 46h1v1h-1zM5 48h1v1h-1zM43 49h1v1h-1z"/><path fill="#96bf71" d="M0 0h1v1h-1zM27 0h1v1h-1zM47 0h1v1h-1zM63 0h1v1h-1zM69 0h1v1h-1zM0 1h2v1h-2zM7 1h1v1h-1zM11 1h1v1h-1zM26 1h1v1h-1zM34 1h1v1h-1zM76 1h1v1h-1zM78 1h2v1h-2zM87 1h1v1h-1zM0 2h2v1h-2zM5 2h1v1h-1zM14 2h1v1h-1zM28 2h1v1h-1zM31 3h1v1h-1zM62 3h1v1h-1zM0 4h1v1h-1zM3 4h1v1h-1zM10 4h1v1h-1zM34 4h1v1h-1zM30 5h1v1h-1zM26 6h1v1h-1zM31 6h1v1h-1zM63 6h1v1h-1zM86 6h1v1h-1zM0 7h1v1h-1zM3 7h1v1h-1zM33 8h1v1h-1zM57 8h1v1h-1zM71 8h1v1h-1zM23 9h1v1h-1zM90 9h1v1h-1zM68 10h1v1h-1zM8 11h1v1h-1zM33 11h1v1h-1zM81 11h1v1h-1zM7 12h1v1h-1zM27 12h1v1h-1zM31 12h1v1h-1zM6 14h1v1h-1zM19 15h1v1h-1zM83 15h1v1h-1zM68 18h1v1h-1zM9 21h1v1h-1zM28 21h2v1h-2zM48 22h1v1h-1zM59 22h1v1h-1zM43 23h1v1h-1zM47 23h1v1h-1zM1 24h1v1h-1zM10 25h1v1h-1zM42 25h1v1h-1zM37 27h1v1h-1zM63 27h1v1h-1zM27 28h1v1h-1zM27 31h1v1h-1zM41 33h1v1h-1zM97 39h1v1h-1zM25 46h1v1h-1zM58 48h1v1h-1zM33 49h1v1h-1zM52 49h1v1h-1zM59 49h1v1h-1z"/><path fill="#9dbf6e" d="M4 0h1v1h-1zM8 0h3v1h-3zM48 0h1v1h-1zM4 1h1v1h-1zM20 1h1v1h-1zM24 1h1v1h-1zM63 1h1v1h-1zM67 1h1v1h-1zM72 1h1v1h-1zM18 2h1v1h-1zM51 2h1v1h-1zM0 3h1v1h-1zM2 3h2v1h-2zM34 3h1v1h-1zM47 3h1v1h-1zM69 3h2v1h-2zM1 4h1v1h-1zM5 4h1v1h-1zM50 4h1v1h-1zM66 4h1v1h-1zM27 5h2v1h-2zM83 6h1v1h-1zM24 7h1v1h-1zM47 7h1v1h-1zM61 7h1v1h-1zM65 7h1v1h-1zM3 8h1v1h-1zM9 8h1v1h-1zM31 8h1v1h-1zM34 8h1v1h-1zM41 8h1v1h-1zM49 8h1v1h-1zM60 8h1v1h-1zM84 8h1v1h-1zM6 9h1v1h-1zM15 9h1v1h-1zM32 10h1v1h-1zM35 10h1v1h-1zM61 10h1v1h-1zM67 10h1v1h-1zM93 10h1v1h-1zM47 11h1v1h-1zM44 12h1v1h-1zM66 12h1v1h-1zM24 13h1v1h-1zM29 13h1v1h-1zM45 13h1v1h-1zM11 15h1v1h-1zM61 15h1v1h-1zM64 15h1v1h-1zM21 16h1v1h-1zM30 16h1v1h-1zM66 16h1v1h-1zM29 17h1v1h-1zM88 21h1v1h-1zM9 22h1v1h-1zM68 22h2v1h-2zM95 22h1v1h-1zM63 23h1v1h-1zM70 23h1v1h-1zM27 24h1v1h-1zM60 24h1v1h-1zM93 24h1v1h-1zM60 25h1v1h-1zM6 26h1v1h-1zM8 26h1v1h-1zM23 26h1v1h-1zM35 27h1v1h-1zM19 28h1v1h-1zM92 28h1v1h-1zM16 31h1v1h-1zM32 31h1v1h-1zM37 31h1v1h-1zM69 31h1v1h-1zM93 31h1v1h-1zM4 33h1v1h-1zM89 34h1v1h-1zM89 35h1v1h-1zM3 36h1v1h-1zM67 36h1v1h-1zM36 43h1v1h-1zM61 43h1v1h-1zM4 45h1v1h-1zM56 49h2v1h-2z"/><path fill="#a3be6c" d="M21 0h1v1h-1zM23 0h1v1h-1zM25 0h2v1h-2zM29 0h1v1h-1zM43 0h1v1h-1zM49 0h1v1h-1zM95 0h1v1h-1zM2 1h2v1h-2zM9 1h1v1h-1zM36 1h1v1h-1zM41 1h1v1h-1zM64 1h1v1h-1zM71 1h1v1h-1zM84 1h1v1h-1zM88 1h1v1h-1zM2 2h1v1h-1zM10 2h1v1h-1zM46 2h1v1h-1zM59 2h1v1h-1zM93 2h1v1h-1zM5 3h1v1h-1zM24 3h1v1h-1zM30 3h1v1h-1zM4 4h1v1h-1zM7 4h1v1h-1zM28 4h1v1h-1zM30 4h1v1h-1zM9 5h1v1h-1zM62 5h1v1h-1zM64 5h1v1h-1zM67 5h1v1h-1zM83 5h1v1h-1zM15 6h1v1h-1zM29 6h1v1h-1zM48 6h1v1h-1zM59 6h1v1h-1zM81 6h1v1h-1zM92 6h1v1h-1zM99 6h1v1h-1zM25 7h2v1h-2zM54 7h1v1h-1zM57 7h1v1h-1zM60 7h1v1h-1zM19 8h1v1h-1zM4 9h1v1h-1zM9 9h1v1h-1zM24 9h1v1h-1zM27 9h1v1h-1zM34 9h1v1h-1zM20 10h1v1h-1zM41 10h1v1h-1zM57 10h1v1h-1zM83 10h1v1h-1zM44 11h1v1h-1zM77 11h1v1h-1zM10 12h1v1h-1zM28 12h1v1h-1zM62 12h1v1h-1zM94 12h1v1h-1zM0 13h1v1h-1zM31 14h1v1h-1zM60 14h1v1h-1zM66 14h1v1h-1zM88 14h1v1h-1zM36 15h1v1h-1zM50 15h1v1h-1zM60 15h1v1h-1zM69 15h1v1h-1zM76 15h1v1h-1zM25 16h1v1h-1zM33 16h1v1h-1zM58 16h1v1h-1zM87 16h1v1h-1zM30 17h1v1h-1zM13 18h1v1h-1zM95 20h1v1h-1zM93 21h1v1h-1zM27 22h1v1h-1zM33 23h1v1h-1zM95 23h1v1h-1zM62 24h1v1h-1zM29 26h1v1h-1zM67 26h1v1h-1zM3 28h1v1h-1zM94 28h1v1h-1zM22 30h1v1h-1zM43 30h1v1h-1zM76 33h1v1h-1zM91 33h1v1h-1zM64 40h1v1h-1zM39 47h1v1h-1zM85 49h1v1h-1z"/><path fill="#a9be69" d="M6 0h1v1h-1zM32 0h1v1h-1zM59 0h2v1h-2zM89 0h1v1h-1zM94 0h1v1h-1zM96 0h1v1h-1zM40 1h1v1h-1zM42 1h1v1h-1zM55 1h1v1h-1zM57 1h1v1h-1zM89 1h1v1h-1zM8 2h1v1h-1zM31 2h1v1h-1zM41 2h1v1h-1zM44 2h1v1h-1zM48 2h1v1h-1zM58 2h1v1h-1zM87 2h1v1h-1zM97 2h1v1h-1zM4 3h1v1h-1zM6 3h1v1h-1zM9 3h1v1h-1zM11 3h2v1h-2zM29 3h1v1h-1zM32 3h1v1h-1zM42 3h1v1h-1zM44 3h2v1h-2zM32 4h1v1h-1zM68 4h1v1h-1zM73 4h1v1h-1zM94 4h1v1h-1zM7 5h1v1h-1zM32 5h1v1h-1zM44 5h1v1h-1zM47 5h2v1h-2zM84 5h1v1h-1zM0 6h1v1h-1zM5 6h1v1h-1zM9 6h1v1h-1zM13 6h1v1h-1zM27 6h1v1h-1zM30 6h1v1h-1zM32 6h1v1h-1zM64 6h1v1h-1zM67 6h1v1h-1zM87 6h1v1h-1zM31 7h1v1h-1zM42 7h1v1h-1zM63 7h1v1h-1zM66 7h1v1h-1zM68 7h1v1h-1zM88 7h1v1h-1zM0 8h1v1h-1zM40 8h1v1h-1zM47 8h1v1h-1zM74 8h1v1h-1zM89 8h1v1h-1zM8 9h1v1h-1zM43 9h1v1h-1zM6 10h1v1h-1zM25 10h1v1h-1zM36 10h1v1h-1zM65 10h1v1h-1zM25 11h1v1h-1zM30 11h1v1h-1zM19 12h1v1h-1zM63 12h1v1h-1zM66 13h1v1h-1zM9 14h1v1h-1zM30 14h1v1h-1zM64 14h1v1h-1zM39 15h1v1h-1zM43 15h1v1h-1zM52 15h1v1h-1zM62 15h1v1h-1zM95 15h1v1h-1zM4 16h1v1h-1zM44 16h1v1h-1zM75 17h1v1h-1zM3 18h1v1h-1zM3 19h1v1h-1zM68 19h1v1h-1zM6 21h1v1h-1zM2 22h1v1h-1zM62 23h1v1h-1zM65 24h1v1h-1zM61 25h2v1h-2zM68 27h1v1h-1zM90 28h1v1h-1zM76 30h1v1h-1zM30 31h1v1h-1zM2 32h1v1h-1zM83 32h1v1h-1zM8 33h1v1h-1zM16 34h1v1h-1zM6 35h1v1h-1zM37 36h1v1h-1zM67 37h1v1h-1zM35 38h1v1h-1zM7 40h1v1h-1zM31 40h1v1h-1zM63 41h1v1h-1zM45 43h1v1h-1zM3 45h1v1h-1zM63 45h1v1h-1z"/><path fill="#afbe67" d="M3 0h1v1h-1zM30 0h1v1h-1zM42 0h1v1h-1zM66 0h1v1h-1zM71 0h1v1h-1zM73 0h1v1h-1zM93 0h1v1h-1zM59 1h1v1h-1zM86 1h1v1h-1zM23 2h2v1h-2zM27 2h1v1h-1zM62 2h1v1h-1zM66 2h1v1h-1zM85 2h1v1h-1zM88 2h1v1h-1zM94 2h1v1h-1zM35 3h1v1h-1zM40 3h1v1h-1zM46 3h1v1h-1zM60 3h2v1h-2zM8 4h1v1h-1zM46 4h1v1h-1zM48 4h1v1h-1zM61 4h1v1h-1zM87 4h1v1h-1zM2 5h1v1h-1zM4 5h1v1h-1zM29 5h1v1h-1zM46 5h1v1h-1zM59 5h1v1h-1zM65 5h1v1h-1zM86 5h1v1h-1zM89 5h1v1h-1zM95 5h1v1h-1zM2 6h1v1h-1zM6 6h1v1h-1zM10 6h1v1h-1zM41 6h1v1h-1zM61 6h1v1h-1zM84 6h1v1h-1zM89 6h1v1h-1zM30 7h1v1h-1zM62 7h1v1h-1zM67 7h1v1h-1zM71 7h1v1h-1zM90 7h1v1h-1zM10 8h1v1h-1zM32 8h1v1h-1zM67 8h1v1h-1zM0 9h1v1h-1zM2 9h1v1h-1zM32 9h2v1h-2zM37 9h2v1h-2zM45 9h1v1h-1zM62 9h1v1h-1zM24 10h1v1h-1zM38 10h1v1h-1zM40 10h1v1h-1zM71 10h1v1h-1zM28 11h1v1h-1zM43 11h1v1h-1zM64 11h1v1h-1zM68 11h1v1h-1zM70 11h1v1h-1zM78 11h1v1h-1zM88 11h1v1h-1zM91 11h1v1h-1zM30 12h1v1h-1zM47 12h1v1h-1zM67 12h1v1h-1zM1 13h1v1h-1zM4 13h1v1h-1zM11 13h1v1h-1zM61 13h1v1h-1zM63 13h1v1h-1zM68 13h1v1h-1zM91 13h1v1h-1zM24 14h1v1h-1zM59 14h1v1h-1zM62 14h1v1h-1zM65 14h1v1h-1zM70 14h1v1h-1zM89 14h1v1h-1zM0 15h1v1h-1zM8 15h1v1h-1zM29 15h1v1h-1zM49 15h1v1h-1zM85 15h1v1h-1zM89 15h1v1h-1zM71 16h1v1h-1zM85 16h1v1h-1zM48 17h1v1h-1zM56 17h1v1h-1zM60 17h2v1h-2zM66 17h1v1h-1zM69 17h1v1h-1zM91 17h1v1h-1zM6 18h1v1h-1zM87 18h1v1h-1zM99 18h1v1h-1zM7 19h1v1h-1zM72 19h1v1h-1zM44 20h2v1h-2zM53 20h1v1h-1zM62 20h1v1h-1zM65 20h1v1h-1zM88 20h1v1h-1zM96 20h1v1h-1zM1 21h1v1h-1zM69 21h1v1h-1zM64 22h1v1h-1zM26 23h1v1h-1zM60 23h1v1h-1zM25 24h1v1h-1zM1 25h1v1h-1zM25 25h1v1h-1zM56 25h1v1h-1zM88 26h1v1h-1zM65 27h1v1h-1zM90 27h1v1h-1zM2 28h1v1h-1zM42 28h1v1h-1zM97 28h1v1h-1zM60 29h1v1h-1zM68 29h1v1h-1zM91 29h1v1h-1zM78 30h1v1h-1zM41 31h1v1h-1zM66 32h1v1h-1zM31 33h1v1h-1zM0 34h1v1h-1zM61 34h1v1h-1zM69 34h1v1h-1zM57 35h1v1h-1zM86 35h1v1h-1zM23 36h1v1h-1zM92 36h1v1h-1zM4 37h1v1h-1zM31 37h1v1h-1zM44 37h1v1h-1zM51 39h1v1h-1zM41 41h1v1h-1zM47 41h1v1h-1zM20 42h1v1h-1zM59 47h1v1h-1zM8 49h1v1h-1zM39 49h1v1h-1zM77 49h1v1h-1z"/><path fill="#b5bd64" d="M12 0h1v1h-1zM14 0h1v1h-1zM16 0h1v1h-1zM39 0h1v1h-1zM45 0h1v1h-1zM64 0h1v1h-1zM70 0h1v1h-1zM83 0h1v1h-1zM86 0h1v1h-1zM90 0h1v1h-1zM6 1h1v1h-1zM15 1h1v1h-1zM33 1h1v1h-1zM49 1h1v1h-1zM51 1h1v1h-1zM69 1h1v1h-1zM74 1h1v1h-1zM82 1h1v1h-1zM85 1h1v1h-1zM93 1h1v1h-1zM45 2h1v1h-1zM65 2h1v1h-1zM68 2h1v1h-1zM71 2h1v1h-1zM74 2h1v1h-1zM83 2h1v1h-1zM90 2h1v1h-1zM95 2h1v1h-1zM8 3h1v1h-1zM26 3h1v1h-1zM65 3h1v1h-1zM67 3h1v1h-1zM92 3h1v1h-1zM11 4h1v1h-1zM24 4h1v1h-1zM41 4h1v1h-1zM47 4h1v1h-1zM65 4h1v1h-1zM90 4h1v1h-1zM88 5h1v1h-1zM8 6h1v1h-1zM25 6h1v1h-1zM33 6h1v1h-1zM47 6h1v1h-1zM70 6h1v1h-1zM4 7h2v1h-2zM9 7h1v1h-1zM27 7h1v1h-1zM40 7h1v1h-1zM59 7h1v1h-1zM1 8h2v1h-2zM4 8h1v1h-1zM20 8h1v1h-1zM28 8h1v1h-1zM85 8h1v1h-1zM94 8h1v1h-1zM26 9h1v1h-1zM28 9h1v1h-1zM66 9h1v1h-1zM68 9h1v1h-1zM83 9h1v1h-1zM7 10h1v1h-1zM28 10h1v1h-1zM33 10h2v1h-2zM39 10h1v1h-1zM46 10h1v1h-1zM60 10h1v1h-1zM70 10h1v1h-1zM74 10h1v1h-1zM89 10h1v1h-1zM7 11h1v1h-1zM79 11h1v1h-1zM84 11h1v1h-1zM87 11h1v1h-1zM92 11h1v1h-1zM2 12h1v1h-1zM61 12h1v1h-1zM69 12h1v1h-1zM91 12h2v1h-2zM3 13h1v1h-1zM31 13h1v1h-1zM65 13h1v1h-1zM67 13h1v1h-1zM89 13h1v1h-1zM94 13h1v1h-1zM20 14h1v1h-1zM51 14h1v1h-1zM68 14h1v1h-1zM92 14h1v1h-1zM94 14h1v1h-1zM5 15h1v1h-1zM9 15h1v1h-1zM26 15h1v1h-1zM33 15h2v1h-2zM81 15h1v1h-1zM32 16h1v1h-1zM34 16h1v1h-1zM46 16h1v1h-1zM7 17h1v1h-1zM24 17h2v1h-2zM31 17h1v1h-1zM49 17h1v1h-1zM65 17h1v1h-1zM68 17h1v1h-1zM0 18h1v1h-1zM2 18h1v1h-1zM30 18h1v1h-1zM8 19h1v1h-1zM25 19h1v1h-1zM32 19h2v1h-2zM60 19h1v1h-1zM95 19h1v1h-1zM98 19h1v1h-1zM3 20h1v1h-1zM32 20h1v1h-1zM47 20h1v1h-1zM86 20h1v1h-1zM31 21h1v1h-1zM50 21h1v1h-1zM53 21h1v1h-1zM64 21h1v1h-1zM29 22h1v1h-1zM37 22h1v1h-1zM42 22h1v1h-1zM60 22h1v1h-1zM67 22h1v1h-1zM71 22h1v1h-1zM29 23h1v1h-1zM49 23h1v1h-1zM66 23h1v1h-1zM68 23h1v1h-1zM89 23h1v1h-1zM91 23h1v1h-1zM96 23h1v1h-1zM40 24h1v1h-1zM44 24h1v1h-1zM89 24h1v1h-1zM96 24h1v1h-1zM30 25h1v1h-1zM49 25h1v1h-1zM85 25h1v1h-1zM10 27h1v1h-1zM61 27h1v1h-1zM43 29h1v1h-1zM64 29h1v1h-1zM3 30h1v1h-1zM7 30h1v1h-1zM39 30h1v1h-1zM44 30h1v1h-1zM61 30h1v1h-1zM63 30h1v1h-1zM98 30h1v1h-1zM20 32h1v1h-1zM65 32h1v1h-1zM90 34h1v1h-1zM60 35h1v1h-1zM26 36h1v1h-1zM84 37h1v1h-1zM17 38h1v1h-1zM93 38h1v1h-1zM67 39h1v1h-1zM63 40h1v1h-1zM87 40h1v1h-1zM7 42h1v1h-1zM42 42h1v1h-1zM26 45h1v1h-1zM14 49h1v1h-1z"/><path fill="#bbbd62" d="M7 0h1v1h-1zM36 0h2v1h-2zM68 0h1v1h-1zM23 1h1v1h-1zM25 1h1v1h-1zM32 1h1v1h-1zM54 1h1v1h-1zM62 1h1v1h-1zM92 1h1v1h-1zM99 1h1v1h-1zM6 2h1v1h-1zM9 2h1v1h-1zM21 2h1v1h-1zM43 2h1v1h-1zM47 2h1v1h-1zM53 2h1v1h-1zM73 2h1v1h-1zM13 3h1v1h-1zM22 3h1v1h-1zM63 3h1v1h-1zM71 3h1v1h-1zM84 3h1v1h-1zM86 3h1v1h-1zM89 3h3v1h-3zM93 3h1v1h-1zM99 3h1v1h-1zM2 4h1v1h-1zM12 4h1v1h-1zM26 4h1v1h-1zM67 4h1v1h-1zM84 4h1v1h-1zM89 4h1v1h-1zM15 5h1v1h-1zM38 5h1v1h-1zM63 5h1v1h-1zM69 5h1v1h-1zM71 5h1v1h-1zM91 5h1v1h-1zM94 5h1v1h-1zM23 6h1v1h-1zM40 6h1v1h-1zM42 6h2v1h-2zM46 6h1v1h-1zM49 6h1v1h-1zM62 6h1v1h-1zM93 6h1v1h-1zM97 6h1v1h-1zM44 7h1v1h-1zM80 7h1v1h-1zM84 7h1v1h-1zM87 7h1v1h-1zM92 7h2v1h-2zM8 8h1v1h-1zM11 8h1v1h-1zM24 8h1v1h-1zM43 8h1v1h-1zM64 8h1v1h-1zM70 8h1v1h-1zM1 9h1v1h-1zM5 9h1v1h-1zM18 9h1v1h-1zM22 9h1v1h-1zM41 9h1v1h-1zM49 9h1v1h-1zM57 9h1v1h-1zM93 9h2v1h-2zM98 9h1v1h-1zM23 10h1v1h-1zM31 10h1v1h-1zM42 10h1v1h-1zM63 10h2v1h-2zM78 10h1v1h-1zM10 11h1v1h-1zM24 11h1v1h-1zM38 11h1v1h-1zM41 11h1v1h-1zM60 11h1v1h-1zM65 11h1v1h-1zM4 12h1v1h-1zM12 12h1v1h-1zM29 12h1v1h-1zM60 12h1v1h-1zM78 12h1v1h-1zM80 12h1v1h-1zM88 12h1v1h-1zM33 13h1v1h-1zM38 13h1v1h-1zM40 13h1v1h-1zM59 13h2v1h-2zM69 13h3v1h-3zM86 13h1v1h-1zM33 14h1v1h-1zM75 14h1v1h-1zM84 14h1v1h-1zM99 14h1v1h-1zM4 15h1v1h-1zM7 15h1v1h-1zM27 15h2v1h-2zM31 15h1v1h-1zM92 15h1v1h-1zM86 16h1v1h-1zM89 16h1v1h-1zM11 17h1v1h-1zM26 17h1v1h-1zM37 17h1v1h-1zM44 17h1v1h-1zM57 17h1v1h-1zM59 17h1v1h-1zM62 17h1v1h-1zM86 17h1v1h-1zM88 17h1v1h-1zM94 17h1v1h-1zM1 18h1v1h-1zM8 18h1v1h-1zM32 18h1v1h-1zM43 18h1v1h-1zM59 18h1v1h-1zM61 18h1v1h-1zM9 19h1v1h-1zM28 19h1v1h-1zM44 19h1v1h-1zM7 20h1v1h-1zM9 20h1v1h-1zM29 20h1v1h-1zM85 20h1v1h-1zM92 20h1v1h-1zM40 21h1v1h-1zM49 21h1v1h-1zM66 21h1v1h-1zM65 22h1v1h-1zM9 23h1v1h-1zM40 23h1v1h-1zM8 25h1v1h-1zM31 25h1v1h-1zM47 25h1v1h-1zM80 25h1v1h-1zM87 25h1v1h-1zM9 26h1v1h-1zM45 26h1v1h-1zM60 26h1v1h-1zM72 26h1v1h-1zM97 26h1v1h-1zM86 27h1v1h-1zM39 28h1v1h-1zM96 28h1v1h-1zM91 31h1v1h-1zM5 32h1v1h-1zM28 32h1v1h-1zM46 32h1v1h-1zM90 33h1v1h-1zM25 34h1v1h-1zM22 39h1v1h-1zM61 39h1v1h-1zM16 40h1v1h-1zM40 42h1v1h-1zM44 44h1v1h-1zM46 44h1v1h-1zM86 44h1v1h-1zM8 47h1v1h-1zM16 47h1v1h-1zM15 49h1v1h-1z"/><path fill="#c1bc60" d="M2 0h1v1h-1zM22 0h1v1h-1zM38 0h1v1h-1zM41 0h1v1h-1zM44 0h1v1h-1zM50 0h1v1h-1zM61 0h1v1h-1zM76 0h1v1h-1zM5 1h1v1h-1zM60 1h1v1h-1zM90 1h2v1h-2zM98 1h1v1h-1zM3 2h1v1h-1zM15 2h1v1h-1zM32 2h2v1h-2zM54 2h2v1h-2zM61 2h1v1h-1zM64 2h1v1h-1zM76 2h1v1h-1zM98 2h1v1h-1zM19 3h2v1h-2zM23 3h1v1h-1zM43 3h1v1h-1zM51 3h1v1h-1zM23 4h1v1h-1zM25 4h1v1h-1zM33 4h1v1h-1zM49 4h1v1h-1zM60 4h1v1h-1zM83 4h1v1h-1zM88 4h1v1h-1zM97 4h1v1h-1zM10 5h1v1h-1zM14 5h1v1h-1zM31 5h1v1h-1zM33 5h1v1h-1zM90 5h1v1h-1zM7 6h1v1h-1zM45 6h1v1h-1zM60 6h1v1h-1zM88 6h1v1h-1zM90 6h1v1h-1zM2 7h1v1h-1zM10 7h1v1h-1zM33 7h1v1h-1zM38 7h1v1h-1zM46 7h1v1h-1zM48 7h1v1h-1zM56 7h1v1h-1zM70 7h1v1h-1zM77 7h1v1h-1zM83 7h1v1h-1zM91 7h1v1h-1zM26 8h2v1h-2zM29 8h2v1h-2zM50 8h1v1h-1zM59 8h1v1h-1zM63 8h1v1h-1zM77 8h1v1h-1zM95 8h2v1h-2zM29 9h1v1h-1zM40 9h1v1h-1zM53 9h1v1h-1zM71 9h2v1h-2zM89 9h1v1h-1zM91 9h2v1h-2zM95 9h1v1h-1zM0 10h2v1h-2zM9 10h3v1h-3zM29 10h1v1h-1zM59 10h1v1h-1zM88 10h1v1h-1zM96 10h1v1h-1zM4 11h1v1h-1zM6 11h1v1h-1zM23 11h1v1h-1zM59 11h1v1h-1zM63 11h1v1h-1zM67 11h1v1h-1zM69 11h1v1h-1zM0 12h1v1h-1zM3 12h1v1h-1zM34 13h1v1h-1zM84 13h1v1h-1zM27 14h1v1h-1zM40 14h1v1h-1zM48 14h1v1h-1zM63 14h1v1h-1zM10 15h1v1h-1zM15 15h1v1h-1zM30 15h1v1h-1zM67 15h1v1h-1zM90 15h1v1h-1zM96 15h1v1h-1zM0 16h1v1h-1zM2 16h1v1h-1zM10 16h1v1h-1zM26 16h1v1h-1zM60 16h1v1h-1zM65 16h1v1h-1zM70 16h1v1h-1zM83 16h1v1h-1zM0 17h6v1h-6zM32 17h2v1h-2zM46 17h1v1h-1zM67 17h1v1h-1zM24 18h2v1h-2zM27 18h1v1h-1zM31 18h1v1h-1zM52 18h2v1h-2zM62 18h1v1h-1zM86 18h1v1h-1zM97 18h1v1h-1zM15 19h1v1h-1zM88 19h1v1h-1zM26 20h1v1h-1zM42 20h1v1h-1zM48 20h1v1h-1zM59 20h1v1h-1zM64 20h1v1h-1zM70 20h1v1h-1zM80 20h1v1h-1zM84 20h1v1h-1zM87 20h1v1h-1zM26 21h1v1h-1zM45 21h1v1h-1zM48 21h1v1h-1zM61 21h1v1h-1zM92 21h1v1h-1zM96 21h1v1h-1zM10 22h1v1h-1zM28 22h1v1h-1zM32 22h1v1h-1zM52 22h1v1h-1zM92 22h1v1h-1zM8 23h1v1h-1zM46 23h1v1h-1zM53 24h1v1h-1zM61 24h1v1h-1zM7 25h1v1h-1zM62 26h1v1h-1zM81 26h1v1h-1zM91 26h1v1h-1zM2 27h1v1h-1zM23 27h1v1h-1zM27 27h1v1h-1zM5 28h1v1h-1zM8 28h1v1h-1zM61 28h1v1h-1zM65 28h1v1h-1zM25 29h1v1h-1zM58 29h1v1h-1zM69 29h1v1h-1zM5 30h1v1h-1zM26 30h1v1h-1zM33 30h1v1h-1zM65 30h1v1h-1zM26 31h1v1h-1zM54 31h1v1h-1zM62 31h1v1h-1zM73 31h1v1h-1zM94 32h1v1h-1zM10 33h1v1h-1zM42 33h2v1h-2zM46 33h1v1h-1zM53 34h1v1h-1zM77 34h1v1h-1zM4 35h1v1h-1zM24 35h1v1h-1zM37 35h1v1h-1zM93 35h1v1h-1zM45 36h1v1h-1zM93 36h1v1h-1zM64 38h1v1h-1zM21 39h1v1h-1zM26 39h1v1h-1zM36 39h1v1h-1zM86 39h1v1h-1zM6 40h1v1h-1zM45 40h1v1h-1zM28 41h1v1h-1zM40 41h1v1h-1zM22 42h1v1h-1zM28 42h1v1h-1zM80 42h1v1h-1zM65 43h1v1h-1zM0 45h1v1h-1zM98 46h1v1h-1zM61 48h1v1h-1zM20 49h1v1h-1zM79 49h1v1h-1z"/><path fill="#c6bc5d" d="M40 0h1v1h-1zM72 0h1v1h-1zM81 0h1v1h-1zM19 1h1v1h-1zM29 1h1v1h-1zM48 1h1v1h-1zM66 1h1v1h-1zM68 1h1v1h-1zM80 1h1v1h-1zM83 1h1v1h-1zM40 2h1v1h-1zM42 2h1v1h-1zM50 2h1v1h-1zM86 2h1v1h-1zM92 2h1v1h-1zM96 2h1v1h-1zM15 3h1v1h-1zM21 3h1v1h-1zM38 3h1v1h-1zM49 3h1v1h-1zM88 3h1v1h-1zM31 4h1v1h-1zM40 4h1v1h-1zM43 4h1v1h-1zM95 4h1v1h-1zM5 5h2v1h-2zM21 5h2v1h-2zM40 5h1v1h-1zM45 5h1v1h-1zM56 5h1v1h-1zM78 5h2v1h-2zM93 5h1v1h-1zM11 6h1v1h-1zM65 6h1v1h-1zM95 6h1v1h-1zM7 7h1v1h-1zM17 7h1v1h-1zM32 7h1v1h-1zM49 7h1v1h-1zM86 7h1v1h-1zM89 7h1v1h-1zM7 8h1v1h-1zM51 8h1v1h-1zM86 8h1v1h-1zM88 8h1v1h-1zM92 8h2v1h-2zM11 9h1v1h-1zM19 9h1v1h-1zM59 9h1v1h-1zM65 9h1v1h-1zM69 9h1v1h-1zM84 9h2v1h-2zM88 9h1v1h-1zM3 10h1v1h-1zM12 10h1v1h-1zM50 10h1v1h-1zM66 10h1v1h-1zM85 10h1v1h-1zM90 10h1v1h-1zM94 10h1v1h-1zM5 11h1v1h-1zM26 11h1v1h-1zM85 11h1v1h-1zM89 11h1v1h-1zM93 11h1v1h-1zM17 12h1v1h-1zM40 12h1v1h-1zM43 12h1v1h-1zM52 12h1v1h-1zM58 12h1v1h-1zM64 12h2v1h-2zM86 12h1v1h-1zM90 12h1v1h-1zM26 13h2v1h-2zM32 13h1v1h-1zM56 13h1v1h-1zM93 13h1v1h-1zM95 13h1v1h-1zM99 13h1v1h-1zM1 14h1v1h-1zM3 14h1v1h-1zM5 14h1v1h-1zM29 14h1v1h-1zM45 14h1v1h-1zM69 14h1v1h-1zM71 14h1v1h-1zM77 14h1v1h-1zM91 14h1v1h-1zM1 15h1v1h-1zM32 15h1v1h-1zM41 15h2v1h-2zM47 15h1v1h-1zM6 16h1v1h-1zM40 16h2v1h-2zM43 16h1v1h-1zM45 16h1v1h-1zM64 16h1v1h-1zM75 16h1v1h-1zM94 16h1v1h-1zM9 17h1v1h-1zM41 17h1v1h-1zM43 17h1v1h-1zM52 17h1v1h-1zM70 17h1v1h-1zM85 17h1v1h-1zM42 18h1v1h-1zM60 18h1v1h-1zM63 18h1v1h-1zM95 18h1v1h-1zM30 19h1v1h-1zM43 19h1v1h-1zM61 19h1v1h-1zM65 19h1v1h-1zM69 19h1v1h-1zM4 20h2v1h-2zM10 20h1v1h-1zM27 20h1v1h-1zM38 20h1v1h-1zM57 20h1v1h-1zM0 21h1v1h-1zM4 21h1v1h-1zM11 21h1v1h-1zM25 21h1v1h-1zM27 21h1v1h-1zM32 21h1v1h-1zM42 21h1v1h-1zM47 21h1v1h-1zM63 21h1v1h-1zM65 21h1v1h-1zM86 21h1v1h-1zM90 21h1v1h-1zM99 21h1v1h-1zM6 22h1v1h-1zM40 22h1v1h-1zM63 22h1v1h-1zM66 22h1v1h-1zM87 22h1v1h-1zM93 22h1v1h-1zM41 23h1v1h-1zM67 23h1v1h-1zM88 23h1v1h-1zM8 24h2v1h-2zM31 24h1v1h-1zM34 24h1v1h-1zM39 24h1v1h-1zM51 24h1v1h-1zM69 24h1v1h-1zM98 24h1v1h-1zM68 25h1v1h-1zM1 26h1v1h-1zM24 26h1v1h-1zM47 26h1v1h-1zM59 26h1v1h-1zM0 27h2v1h-2zM4 27h1v1h-1zM7 27h2v1h-2zM26 27h1v1h-1zM29 27h2v1h-2zM47 27h1v1h-1zM56 27h1v1h-1zM69 27h1v1h-1zM71 27h1v1h-1zM85 27h1v1h-1zM97 27h1v1h-1zM26 28h1v1h-1zM49 28h1v1h-1zM62 29h1v1h-1zM6 30h1v1h-1zM9 30h1v1h-1zM27 30h1v1h-1zM48 30h1v1h-1zM60 30h1v1h-1zM62 30h1v1h-1zM3 31h1v1h-1zM42 31h1v1h-1zM64 31h1v1h-1zM67 31h1v1h-1zM68 32h1v1h-1zM96 32h1v1h-1zM44 33h1v1h-1zM63 33h1v1h-1zM65 33h1v1h-1zM97 33h1v1h-1zM5 34h1v1h-1zM11 34h1v1h-1zM21 34h1v1h-1zM45 34h1v1h-1zM66 34h1v1h-1zM51 35h1v1h-1zM65 35h1v1h-1zM68 36h1v1h-1zM29 37h1v1h-1zM90 37h1v1h-1zM99 38h1v1h-1zM92 39h1v1h-1zM99 39h1v1h-1zM27 40h1v1h-1zM3 41h1v1h-1zM98 41h1v1h-1zM46 42h1v1h-1zM67 43h1v1h-1zM75 43h1v1h-1zM27 44h1v1h-1zM30 44h1v1h-1zM30 46h1v1h-1zM90 46h1v1h-1zM18 49h1v1h-1zM71 49h1v1h-1z"/><path fill="#ccbb5b" d="M35 0h1v1h-1zM54 0h1v1h-1zM77 0h1v1h-1zM84 0h1v1h-1zM88 0h1v1h-1zM12 1h1v1h-1zM17 1h1v1h-1zM37 1h1v1h-1zM43 1h1v1h-1zM45 1h1v1h-1zM58 1h1v1h-1zM61 1h1v1h-1zM94 1h1v1h-1zM4 2h1v1h-1zM30 2h1v1h-1zM39 2h1v1h-1zM49 2h1v1h-1zM70 2h1v1h-1zM89 2h1v1h-1zM36 3h2v1h-2zM48 3h1v1h-1zM50 3h1v1h-1zM58 3h1v1h-1zM72 3h1v1h-1zM79 3h1v1h-1zM85 3h1v1h-1zM13 4h1v1h-1zM21 4h1v1h-1zM37 4h1v1h-1zM45 4h1v1h-1zM59 4h1v1h-1zM80 4h1v1h-1zM91 4h1v1h-1zM13 5h1v1h-1zM49 5h1v1h-1zM53 5h1v1h-1zM73 5h1v1h-1zM77 5h1v1h-1zM97 5h1v1h-1zM3 6h1v1h-1zM24 6h1v1h-1zM39 6h1v1h-1zM71 6h1v1h-1zM78 6h1v1h-1zM80 6h1v1h-1zM91 6h1v1h-1zM8 7h1v1h-1zM13 7h1v1h-1zM37 7h1v1h-1zM45 7h1v1h-1zM85 7h1v1h-1zM94 7h1v1h-1zM14 8h1v1h-1zM18 8h1v1h-1zM48 8h1v1h-1zM61 8h1v1h-1zM66 8h1v1h-1zM91 8h1v1h-1zM98 8h2v1h-2zM31 9h1v1h-1zM42 9h1v1h-1zM70 9h1v1h-1zM82 9h1v1h-1zM26 10h1v1h-1zM30 10h1v1h-1zM12 11h1v1h-1zM29 11h1v1h-1zM49 11h1v1h-1zM61 11h1v1h-1zM71 11h1v1h-1zM76 11h1v1h-1zM86 11h1v1h-1zM94 11h1v1h-1zM99 11h1v1h-1zM6 12h1v1h-1zM8 12h1v1h-1zM24 12h1v1h-1zM42 12h1v1h-1zM70 12h1v1h-1zM95 12h1v1h-1zM10 13h1v1h-1zM19 13h1v1h-1zM30 13h1v1h-1zM35 13h1v1h-1zM87 13h1v1h-1zM90 13h1v1h-1zM0 14h1v1h-1zM7 14h1v1h-1zM10 14h1v1h-1zM12 14h1v1h-1zM39 14h1v1h-1zM46 14h1v1h-1zM55 14h1v1h-1zM85 14h1v1h-1zM2 15h1v1h-1zM6 15h1v1h-1zM45 15h1v1h-1zM48 15h1v1h-1zM65 15h1v1h-1zM70 15h1v1h-1zM3 16h1v1h-1zM5 16h1v1h-1zM13 16h1v1h-1zM47 16h1v1h-1zM49 16h1v1h-1zM62 16h2v1h-2zM69 16h1v1h-1zM93 16h1v1h-1zM99 16h1v1h-1zM6 17h1v1h-1zM28 17h1v1h-1zM35 17h1v1h-1zM40 17h1v1h-1zM4 18h1v1h-1zM7 18h1v1h-1zM15 18h1v1h-1zM33 18h1v1h-1zM45 18h1v1h-1zM48 18h2v1h-2zM65 18h1v1h-1zM67 18h1v1h-1zM10 19h1v1h-1zM27 19h1v1h-1zM66 19h1v1h-1zM70 19h1v1h-1zM89 19h1v1h-1zM91 19h1v1h-1zM0 20h2v1h-2zM23 20h1v1h-1zM28 20h1v1h-1zM30 20h2v1h-2zM68 20h1v1h-1zM93 20h1v1h-1zM2 21h1v1h-1zM7 21h1v1h-1zM33 21h1v1h-1zM62 21h1v1h-1zM68 21h1v1h-1zM7 22h2v1h-2zM89 22h1v1h-1zM97 22h1v1h-1zM18 23h1v1h-1zM24 23h1v1h-1zM42 23h1v1h-1zM44 23h1v1h-1zM64 23h1v1h-1zM86 23h1v1h-1zM92 23h1v1h-1zM3 24h2v1h-2zM24 24h1v1h-1zM47 24h1v1h-1zM87 24h1v1h-1zM29 25h1v1h-1zM63 25h1v1h-1zM65 25h1v1h-1zM67 25h1v1h-1zM86 25h1v1h-1zM0 26h1v1h-1zM39 26h1v1h-1zM65 26h1v1h-1zM68 26h1v1h-1zM74 26h1v1h-1zM94 26h1v1h-1zM28 27h1v1h-1zM45 27h1v1h-1zM50 27h1v1h-1zM6 28h1v1h-1zM29 28h2v1h-2zM82 28h1v1h-1zM87 28h1v1h-1zM3 29h1v1h-1zM16 29h1v1h-1zM74 29h1v1h-1zM86 29h1v1h-1zM29 30h1v1h-1zM68 30h1v1h-1zM88 30h1v1h-1zM94 30h1v1h-1zM2 31h1v1h-1zM5 31h1v1h-1zM46 31h1v1h-1zM66 31h1v1h-1zM4 32h1v1h-1zM63 32h1v1h-1zM89 32h1v1h-1zM1 33h1v1h-1zM3 33h1v1h-1zM27 33h1v1h-1zM40 33h1v1h-1zM62 33h1v1h-1zM79 33h1v1h-1zM89 33h1v1h-1zM33 34h1v1h-1zM42 34h1v1h-1zM68 34h1v1h-1zM87 34h1v1h-1zM95 34h1v1h-1zM27 35h1v1h-1zM62 35h1v1h-1zM68 35h1v1h-1zM30 36h1v1h-1zM53 36h1v1h-1zM26 37h1v1h-1zM33 37h1v1h-1zM65 37h1v1h-1zM7 38h1v1h-1zM15 42h1v1h-1zM45 42h1v1h-1zM43 43h1v1h-1zM3 44h1v1h-1zM83 44h1v1h-1zM94 44h1v1h-1zM42 47h1v1h-1zM12 49h1v1h-1z"/><path fill="#d1bb59" d="M46 0h1v1h-1zM52 0h1v1h-1zM80 0h1v1h-1zM35 1h1v1h-1zM50 1h1v1h-1zM19 2h2v1h-2zM35 2h1v1h-1zM69 2h1v1h-1zM84 2h1v1h-1zM14 3h1v1h-1zM27 3h1v1h-1zM41 3h1v1h-1zM52 3h1v1h-1zM59 3h1v1h-1zM64 3h1v1h-1zM83 3h1v1h-1zM18 4h2v1h-2zM54 4h1v1h-1zM56 4h1v1h-1zM58 4h1v1h-1zM70 4h1v1h-1zM72 4h1v1h-1zM74 4h1v1h-1zM81 4h2v1h-2zM92 4h1v1h-1zM99 4h1v1h-1zM8 5h1v1h-1zM23 5h1v1h-1zM54 5h1v1h-1zM74 5h1v1h-1zM87 5h1v1h-1zM18 6h2v1h-2zM21 6h1v1h-1zM38 6h1v1h-1zM50 6h1v1h-1zM66 6h1v1h-1zM68 6h1v1h-1zM72 7h1v1h-1zM96 7h2v1h-2zM12 8h1v1h-1zM35 8h1v1h-1zM37 8h1v1h-1zM75 8h1v1h-1zM81 8h1v1h-1zM12 9h1v1h-1zM47 9h2v1h-2zM87 9h1v1h-1zM99 9h1v1h-1zM4 10h1v1h-1zM8 10h1v1h-1zM48 10h1v1h-1zM69 10h1v1h-1zM87 10h1v1h-1zM99 10h1v1h-1zM1 11h1v1h-1zM21 11h1v1h-1zM35 11h3v1h-3zM52 11h1v1h-1zM57 11h1v1h-1zM66 11h1v1h-1zM15 12h1v1h-1zM21 12h1v1h-1zM34 12h1v1h-1zM48 12h1v1h-1zM74 12h1v1h-1zM82 12h1v1h-1zM84 12h1v1h-1zM5 13h1v1h-1zM15 13h1v1h-1zM23 13h1v1h-1zM25 13h1v1h-1zM36 13h1v1h-1zM41 13h1v1h-1zM43 13h2v1h-2zM80 13h1v1h-1zM92 13h1v1h-1zM44 14h1v1h-1zM53 14h1v1h-1zM97 14h1v1h-1zM3 15h1v1h-1zM17 15h1v1h-1zM25 15h1v1h-1zM59 15h1v1h-1zM68 15h1v1h-1zM86 15h1v1h-1zM91 15h1v1h-1zM15 16h1v1h-1zM23 16h1v1h-1zM37 16h1v1h-1zM39 16h1v1h-1zM61 16h1v1h-1zM67 16h1v1h-1zM10 17h1v1h-1zM12 17h1v1h-1zM45 17h1v1h-1zM58 17h1v1h-1zM71 17h1v1h-1zM73 17h1v1h-1zM93 17h1v1h-1zM46 18h1v1h-1zM66 18h1v1h-1zM80 18h1v1h-1zM85 18h1v1h-1zM91 18h1v1h-1zM93 18h2v1h-2zM1 19h1v1h-1zM11 19h1v1h-1zM26 19h1v1h-1zM31 19h1v1h-1zM86 19h1v1h-1zM93 19h1v1h-1zM39 20h1v1h-1zM49 20h2v1h-2zM55 20h1v1h-1zM61 20h1v1h-1zM66 20h1v1h-1zM89 20h2v1h-2zM8 21h1v1h-1zM10 21h1v1h-1zM70 21h1v1h-1zM77 21h1v1h-1zM1 22h1v1h-1zM31 22h1v1h-1zM38 22h1v1h-1zM62 22h1v1h-1zM86 22h1v1h-1zM7 23h1v1h-1zM48 23h1v1h-1zM52 23h1v1h-1zM2 24h1v1h-1zM30 24h1v1h-1zM42 24h1v1h-1zM68 24h1v1h-1zM82 24h1v1h-1zM0 25h1v1h-1zM6 25h1v1h-1zM32 25h1v1h-1zM37 25h1v1h-1zM53 25h1v1h-1zM64 25h1v1h-1zM5 26h1v1h-1zM7 26h1v1h-1zM25 26h1v1h-1zM44 26h1v1h-1zM48 26h1v1h-1zM87 26h1v1h-1zM6 27h1v1h-1zM31 27h1v1h-1zM43 27h2v1h-2zM88 27h1v1h-1zM25 28h1v1h-1zM28 28h1v1h-1zM35 28h1v1h-1zM62 28h1v1h-1zM66 28h1v1h-1zM68 28h2v1h-2zM93 28h1v1h-1zM0 29h2v1h-2zM26 29h1v1h-1zM32 29h1v1h-1zM61 29h1v1h-1zM65 29h1v1h-1zM93 29h1v1h-1zM97 29h1v1h-1zM8 30h1v1h-1zM69 30h1v1h-1zM81 30h1v1h-1zM90 30h3v1h-3zM92 31h1v1h-1zM7 32h1v1h-1zM27 32h1v1h-1zM37 32h1v1h-1zM45 32h1v1h-1zM0 33h1v1h-1zM6 33h1v1h-1zM64 33h1v1h-1zM88 33h1v1h-1zM99 33h1v1h-1zM8 34h1v1h-1zM26 34h1v1h-1zM31 34h1v1h-1zM5 35h1v1h-1zM9 35h1v1h-1zM27 36h1v1h-1zM64 36h1v1h-1zM66 36h1v1h-1zM45 37h2v1h-2zM76 37h1v1h-1zM89 37h1v1h-1zM97 37h1v1h-1zM28 38h1v1h-1zM38 38h1v1h-1zM42 38h1v1h-1zM45 38h2v1h-2zM13 39h1v1h-1zM41 39h1v1h-1zM87 39h1v1h-1zM90 39h1v1h-1zM28 40h1v1h-1zM1 42h2v1h-2zM37 42h1v1h-1zM51 42h1v1h-1zM67 42h1v1h-1zM92 42h1v1h-1zM63 43h1v1h-1zM89 43h1v1h-1zM1 44h1v1h-1zM53 44h1v1h-1zM61 44h1v1h-1zM88 45h1v1h-1zM7 46h1v1h-1zM5 47h1v1h-1zM95 47h1v1h-1zM17 48h1v1h-1zM27 48h1v1h-1zM66 48h1v1h-1zM21 49h1v1h-1z"/><path fill="#d7ba57" d="M18 0h1v1h-1zM20 0h1v1h-1zM51 0h1v1h-1zM55 0h1v1h-1zM92 0h1v1h-1zM16 1h1v1h-1zM73 1h1v1h-1zM95 1h2v1h-2zM17 2h1v1h-1zM81 2h2v1h-2zM73 3h2v1h-2zM77 3h2v1h-2zM80 3h1v1h-1zM22 4h1v1h-1zM36 4h1v1h-1zM42 4h1v1h-1zM52 4h1v1h-1zM62 4h1v1h-1zM76 4h1v1h-1zM12 5h1v1h-1zM36 5h2v1h-2zM55 5h1v1h-1zM58 5h1v1h-1zM70 5h1v1h-1zM82 5h1v1h-1zM85 5h1v1h-1zM34 6h1v1h-1zM74 6h2v1h-2zM20 7h1v1h-1zM28 7h2v1h-2zM41 7h1v1h-1zM43 7h1v1h-1zM5 8h1v1h-1zM42 8h1v1h-1zM53 8h1v1h-1zM72 8h1v1h-1zM79 8h1v1h-1zM3 9h1v1h-1zM7 9h1v1h-1zM44 9h1v1h-1zM55 9h1v1h-1zM79 9h2v1h-2zM86 9h1v1h-1zM17 10h1v1h-1zM22 10h1v1h-1zM45 10h1v1h-1zM54 10h1v1h-1zM56 10h1v1h-1zM81 10h1v1h-1zM95 10h1v1h-1zM11 11h1v1h-1zM27 11h1v1h-1zM40 11h1v1h-1zM62 11h1v1h-1zM1 12h1v1h-1zM35 12h1v1h-1zM38 12h1v1h-1zM85 12h1v1h-1zM89 12h1v1h-1zM93 12h1v1h-1zM96 12h1v1h-1zM42 13h1v1h-1zM46 13h1v1h-1zM64 13h1v1h-1zM96 13h1v1h-1zM11 14h1v1h-1zM13 14h1v1h-1zM16 14h1v1h-1zM21 14h1v1h-1zM28 14h1v1h-1zM41 14h1v1h-1zM58 14h1v1h-1zM67 14h1v1h-1zM72 14h1v1h-1zM74 14h1v1h-1zM79 14h1v1h-1zM87 14h1v1h-1zM95 14h1v1h-1zM57 15h2v1h-2zM66 15h1v1h-1zM73 15h1v1h-1zM79 15h1v1h-1zM84 15h1v1h-1zM87 15h2v1h-2zM28 16h1v1h-1zM31 16h1v1h-1zM42 16h1v1h-1zM48 16h1v1h-1zM59 16h1v1h-1zM88 16h1v1h-1zM34 17h1v1h-1zM72 17h1v1h-1zM77 17h1v1h-1zM87 17h1v1h-1zM92 17h1v1h-1zM20 18h1v1h-1zM23 18h1v1h-1zM29 18h1v1h-1zM39 18h1v1h-1zM70 18h1v1h-1zM72 18h1v1h-1zM89 18h1v1h-1zM6 19h1v1h-1zM24 19h1v1h-1zM29 19h1v1h-1zM34 19h1v1h-1zM40 19h1v1h-1zM42 19h1v1h-1zM51 19h1v1h-1zM64 19h1v1h-1zM67 19h1v1h-1zM80 19h1v1h-1zM85 19h1v1h-1zM11 20h1v1h-1zM24 20h1v1h-1zM40 20h1v1h-1zM63 20h1v1h-1zM71 20h1v1h-1zM5 21h1v1h-1zM34 21h1v1h-1zM43 21h2v1h-2zM59 21h1v1h-1zM71 21h1v1h-1zM82 21h1v1h-1zM87 21h1v1h-1zM89 21h1v1h-1zM91 21h1v1h-1zM3 22h1v1h-1zM25 22h2v1h-2zM39 22h1v1h-1zM49 22h1v1h-1zM98 22h1v1h-1zM4 23h1v1h-1zM13 23h1v1h-1zM25 23h1v1h-1zM27 23h1v1h-1zM30 23h1v1h-1zM34 23h1v1h-1zM45 23h1v1h-1zM56 23h1v1h-1zM61 23h1v1h-1zM69 23h1v1h-1zM94 23h1v1h-1zM5 24h1v1h-1zM7 24h1v1h-1zM28 24h2v1h-2zM49 24h1v1h-1zM63 24h1v1h-1zM66 24h2v1h-2zM90 24h1v1h-1zM24 25h1v1h-1zM33 25h1v1h-1zM71 25h1v1h-1zM79 25h1v1h-1zM28 26h1v1h-1zM31 26h1v1h-1zM42 26h1v1h-1zM93 26h1v1h-1zM5 27h1v1h-1zM41 27h1v1h-1zM46 27h1v1h-1zM66 27h1v1h-1zM95 27h1v1h-1zM31 28h1v1h-1zM33 28h1v1h-1zM43 28h1v1h-1zM67 28h1v1h-1zM99 28h1v1h-1zM41 29h1v1h-1zM48 29h1v1h-1zM63 29h1v1h-1zM66 29h1v1h-1zM70 29h1v1h-1zM84 29h1v1h-1zM96 30h1v1h-1zM45 31h1v1h-1zM59 31h2v1h-2zM90 31h1v1h-1zM97 31h1v1h-1zM6 32h1v1h-1zM12 32h1v1h-1zM26 32h1v1h-1zM32 32h1v1h-1zM44 32h1v1h-1zM69 32h1v1h-1zM28 33h1v1h-1zM45 33h1v1h-1zM54 33h1v1h-1zM69 33h1v1h-1zM74 33h1v1h-1zM93 33h1v1h-1zM3 34h1v1h-1zM91 34h1v1h-1zM93 34h2v1h-2zM8 35h1v1h-1zM46 35h1v1h-1zM64 35h1v1h-1zM85 35h1v1h-1zM88 35h1v1h-1zM94 35h1v1h-1zM6 36h1v1h-1zM86 36h1v1h-1zM88 36h1v1h-1zM1 37h1v1h-1zM28 37h1v1h-1zM93 37h1v1h-1zM1 38h1v1h-1zM5 38h1v1h-1zM8 38h1v1h-1zM87 38h1v1h-1zM30 40h1v1h-1zM57 40h1v1h-1zM29 41h1v1h-1zM42 41h1v1h-1zM45 41h1v1h-1zM61 41h1v1h-1zM93 41h1v1h-1zM26 42h1v1h-1zM43 42h1v1h-1zM90 42h1v1h-1zM27 43h1v1h-1zM29 43h1v1h-1zM66 44h1v1h-1zM2 45h1v1h-1zM32 45h1v1h-1zM49 45h1v1h-1zM89 45h1v1h-1zM2 46h1v1h-1zM4 46h1v1h-1zM31 46h1v1h-1zM30 47h1v1h-1zM66 47h1v1h-1zM68 47h1v1h-1zM28 48h1v1h-1zM80 48h1v1h-1zM86 48h1v1h-1zM98 48h1v1h-1zM84 49h1v1h-1zM92 49h1v1h-1z"/><path fill="#dcba54" d="M19 0h1v1h-1zM98 0h1v1h-1zM14 1h1v1h-1zM38 1h1v1h-1zM52 1h1v1h-1zM56 1h1v1h-1zM36 2h1v1h-1zM72 2h1v1h-1zM7 3h1v1h-1zM16 3h1v1h-1zM56 3h1v1h-1zM76 3h1v1h-1zM98 3h1v1h-1zM16 4h1v1h-1zM39 4h1v1h-1zM53 4h1v1h-1zM63 4h1v1h-1zM75 4h1v1h-1zM79 4h1v1h-1zM85 4h1v1h-1zM96 4h1v1h-1zM39 5h1v1h-1zM52 5h1v1h-1zM96 5h1v1h-1zM54 6h1v1h-1zM57 6h1v1h-1zM72 6h1v1h-1zM94 6h1v1h-1zM11 7h1v1h-1zM16 7h1v1h-1zM18 7h2v1h-2zM35 7h1v1h-1zM53 7h1v1h-1zM75 7h1v1h-1zM17 8h1v1h-1zM23 8h1v1h-1zM45 8h1v1h-1zM14 9h1v1h-1zM61 9h1v1h-1zM75 9h3v1h-3zM2 10h1v1h-1zM13 10h1v1h-1zM16 10h1v1h-1zM49 10h1v1h-1zM75 10h1v1h-1zM0 11h1v1h-1zM3 11h1v1h-1zM31 11h1v1h-1zM46 11h1v1h-1zM50 11h1v1h-1zM55 11h1v1h-1zM83 11h1v1h-1zM95 11h1v1h-1zM11 12h1v1h-1zM25 12h1v1h-1zM37 12h1v1h-1zM71 12h1v1h-1zM83 12h1v1h-1zM98 12h1v1h-1zM12 13h1v1h-1zM14 13h1v1h-1zM39 13h1v1h-1zM48 13h1v1h-1zM50 13h1v1h-1zM83 13h1v1h-1zM8 14h1v1h-1zM18 14h1v1h-1zM32 14h1v1h-1zM35 14h1v1h-1zM37 14h1v1h-1zM42 14h1v1h-1zM80 14h1v1h-1zM82 14h1v1h-1zM22 15h3v1h-3zM53 15h1v1h-1zM93 15h2v1h-2zM1 16h1v1h-1zM7 16h1v1h-1zM12 16h1v1h-1zM16 16h1v1h-1zM80 16h1v1h-1zM97 16h1v1h-1zM42 17h1v1h-1zM47 17h1v1h-1zM64 17h1v1h-1zM9 18h1v1h-1zM14 18h1v1h-1zM41 18h1v1h-1zM51 18h1v1h-1zM54 18h4v1h-4zM74 18h1v1h-1zM81 18h1v1h-1zM84 18h1v1h-1zM92 18h1v1h-1zM39 19h1v1h-1zM47 19h1v1h-1zM55 19h1v1h-1zM57 19h2v1h-2zM90 19h1v1h-1zM2 20h1v1h-1zM8 20h1v1h-1zM22 20h1v1h-1zM35 20h1v1h-1zM37 20h1v1h-1zM91 20h1v1h-1zM24 21h1v1h-1zM51 21h1v1h-1zM85 21h1v1h-1zM97 21h2v1h-2zM20 22h1v1h-1zM24 22h1v1h-1zM35 22h1v1h-1zM41 22h1v1h-1zM72 22h1v1h-1zM76 22h1v1h-1zM84 22h1v1h-1zM88 22h1v1h-1zM94 22h1v1h-1zM0 23h2v1h-2zM3 23h1v1h-1zM20 23h2v1h-2zM39 23h1v1h-1zM99 23h1v1h-1zM0 24h1v1h-1zM6 24h1v1h-1zM11 24h1v1h-1zM16 24h1v1h-1zM36 24h1v1h-1zM46 24h1v1h-1zM56 24h1v1h-1zM85 24h2v1h-2zM92 24h1v1h-1zM99 24h1v1h-1zM5 25h1v1h-1zM19 25h1v1h-1zM44 25h1v1h-1zM89 25h1v1h-1zM92 25h1v1h-1zM95 25h1v1h-1zM2 26h2v1h-2zM11 26h1v1h-1zM27 26h1v1h-1zM43 26h1v1h-1zM51 26h1v1h-1zM85 26h1v1h-1zM25 27h1v1h-1zM38 27h1v1h-1zM40 27h1v1h-1zM94 27h1v1h-1zM0 28h1v1h-1zM9 28h1v1h-1zM40 28h1v1h-1zM40 29h1v1h-1zM49 29h1v1h-1zM92 29h1v1h-1zM12 30h1v1h-1zM30 30h1v1h-1zM47 30h1v1h-1zM52 30h1v1h-1zM93 30h1v1h-1zM9 31h1v1h-1zM12 31h1v1h-1zM65 31h1v1h-1zM94 31h1v1h-1zM25 32h1v1h-1zM31 32h1v1h-1zM42 32h2v1h-2zM7 33h1v1h-1zM9 33h1v1h-1zM22 33h1v1h-1zM26 33h1v1h-1zM92 33h1v1h-1zM79 34h1v1h-1zM85 34h1v1h-1zM98 34h1v1h-1zM2 35h2v1h-2zM26 35h1v1h-1zM30 35h2v1h-2zM61 35h1v1h-1zM77 35h1v1h-1zM51 36h1v1h-1zM6 37h2v1h-2zM42 37h1v1h-1zM62 37h1v1h-1zM66 37h1v1h-1zM68 37h1v1h-1zM88 37h1v1h-1zM1 39h2v1h-2zM7 39h1v1h-1zM25 39h1v1h-1zM30 39h1v1h-1zM45 39h1v1h-1zM48 39h1v1h-1zM1 40h1v1h-1zM43 40h1v1h-1zM62 40h1v1h-1zM91 40h1v1h-1zM1 41h1v1h-1zM25 41h1v1h-1zM65 41h1v1h-1zM67 41h1v1h-1zM90 41h1v1h-1zM31 42h1v1h-1zM66 42h1v1h-1zM87 42h1v1h-1zM91 42h1v1h-1zM26 43h1v1h-1zM28 43h1v1h-1zM82 43h1v1h-1zM91 43h1v1h-1zM4 44h2v1h-2zM42 44h1v1h-1zM16 45h1v1h-1zM65 45h1v1h-1zM27 46h1v1h-1zM61 46h1v1h-1zM6 47h1v1h-1zM33 47h1v1h-1zM3 48h1v1h-1zM43 48h1v1h-1zM46 48h1v1h-1zM63 48h1v1h-1zM95 48h1v1h-1zM0 49h1v1h-1zM3 49h1v1h-1z"/><path fill="#e2b952" d="M13 0h1v1h-1zM15 0h1v1h-1zM53 0h1v1h-1zM58 0h1v1h-1zM82 0h1v1h-1zM18 1h1v1h-1zM22 1h1v1h-1zM53 1h1v1h-1zM57 2h1v1h-1zM75 2h1v1h-1zM80 2h1v1h-1zM99 2h1v1h-1zM75 3h1v1h-1zM14 4h1v1h-1zM17 4h1v1h-1zM29 4h1v1h-1zM38 4h1v1h-1zM20 5h1v1h-1zM50 5h2v1h-2zM75 5h2v1h-2zM92 5h1v1h-1zM98 5h1v1h-1zM14 6h1v1h-1zM20 6h1v1h-1zM52 6h1v1h-1zM55 6h1v1h-1zM73 6h1v1h-1zM98 7h1v1h-1zM39 8h1v1h-1zM46 8h1v1h-1zM52 8h1v1h-1zM54 8h1v1h-1zM58 8h1v1h-1zM78 8h1v1h-1zM83 8h1v1h-1zM90 8h1v1h-1zM21 9h1v1h-1zM36 9h1v1h-1zM50 9h1v1h-1zM73 9h1v1h-1zM18 10h1v1h-1zM37 10h1v1h-1zM52 10h1v1h-1zM14 11h1v1h-1zM39 11h1v1h-1zM42 11h1v1h-1zM74 11h2v1h-2zM13 12h1v1h-1zM49 12h2v1h-2zM54 12h1v1h-1zM72 12h1v1h-1zM77 12h1v1h-1zM8 13h1v1h-1zM21 13h2v1h-2zM74 13h3v1h-3zM78 13h1v1h-1zM82 13h1v1h-1zM22 14h1v1h-1zM38 14h1v1h-1zM47 14h1v1h-1zM50 14h1v1h-1zM56 14h1v1h-1zM86 14h1v1h-1zM90 14h1v1h-1zM13 15h1v1h-1zM38 15h1v1h-1zM51 15h1v1h-1zM54 15h1v1h-1zM72 15h1v1h-1zM38 16h1v1h-1zM57 16h1v1h-1zM72 16h1v1h-1zM50 17h1v1h-1zM98 17h1v1h-1zM10 18h2v1h-2zM26 18h1v1h-1zM34 18h1v1h-1zM44 18h1v1h-1zM50 18h1v1h-1zM64 18h1v1h-1zM73 18h1v1h-1zM0 19h1v1h-1zM12 19h1v1h-1zM63 19h1v1h-1zM71 19h1v1h-1zM92 19h1v1h-1zM99 19h1v1h-1zM94 21h2v1h-2zM0 22h1v1h-1zM45 22h1v1h-1zM47 22h1v1h-1zM70 22h1v1h-1zM80 22h1v1h-1zM28 23h1v1h-1zM74 23h1v1h-1zM87 23h1v1h-1zM98 23h1v1h-1zM35 24h1v1h-1zM50 24h1v1h-1zM55 24h1v1h-1zM95 24h1v1h-1zM97 24h1v1h-1zM4 25h1v1h-1zM9 25h1v1h-1zM41 25h1v1h-1zM73 25h1v1h-1zM91 25h1v1h-1zM93 25h1v1h-1zM96 25h1v1h-1zM80 26h1v1h-1zM83 26h1v1h-1zM89 26h1v1h-1zM98 26h1v1h-1zM48 27h1v1h-1zM53 27h1v1h-1zM60 27h1v1h-1zM64 27h1v1h-1zM7 28h1v1h-1zM89 28h1v1h-1zM6 29h1v1h-1zM8 29h2v1h-2zM24 29h1v1h-1zM29 29h1v1h-1zM42 29h1v1h-1zM59 29h1v1h-1zM1 30h2v1h-2zM28 30h1v1h-1zM31 30h1v1h-1zM64 30h1v1h-1zM86 30h2v1h-2zM89 30h1v1h-1zM28 31h1v1h-1zM31 31h1v1h-1zM34 31h1v1h-1zM48 31h1v1h-1zM57 31h1v1h-1zM87 31h1v1h-1zM89 31h1v1h-1zM95 31h2v1h-2zM0 32h2v1h-2zM3 32h1v1h-1zM30 32h1v1h-1zM41 32h1v1h-1zM47 32h1v1h-1zM87 32h1v1h-1zM48 33h1v1h-1zM53 33h1v1h-1zM61 33h1v1h-1zM66 33h1v1h-1zM78 33h1v1h-1zM2 34h1v1h-1zM4 34h1v1h-1zM7 34h1v1h-1zM13 34h1v1h-1zM27 34h1v1h-1zM43 34h1v1h-1zM47 34h1v1h-1zM50 34h1v1h-1zM92 34h1v1h-1zM1 35h1v1h-1zM28 35h1v1h-1zM55 35h1v1h-1zM63 35h1v1h-1zM61 36h1v1h-1zM65 36h1v1h-1zM2 37h1v1h-1zM53 37h1v1h-1zM91 37h1v1h-1zM59 38h1v1h-1zM69 38h1v1h-1zM81 38h1v1h-1zM89 38h1v1h-1zM97 38h1v1h-1zM3 39h2v1h-2zM28 39h1v1h-1zM2 40h1v1h-1zM4 40h2v1h-2zM47 40h1v1h-1zM66 40h1v1h-1zM68 40h1v1h-1zM88 40h1v1h-1zM90 40h1v1h-1zM16 41h1v1h-1zM30 41h1v1h-1zM46 41h1v1h-1zM69 41h1v1h-1zM92 41h1v1h-1zM44 42h1v1h-1zM47 42h1v1h-1zM1 43h1v1h-1zM18 43h1v1h-1zM42 43h1v1h-1zM43 44h1v1h-1zM78 44h1v1h-1zM97 44h1v1h-1zM5 46h2v1h-2zM41 46h1v1h-1zM94 46h1v1h-1zM35 47h1v1h-1zM91 47h2v1h-2zM1 48h1v1h-1zM65 48h1v1h-1zM62 49h1v1h-1zM93 49h1v1h-1z"/><path fill="#e7b94f" d="M56 0h1v1h-1zM79 0h1v1h-1zM97 0h1v1h-1zM99 0h1v1h-1zM13 1h1v1h-1zM78 2h1v1h-1zM57 3h1v1h-1zM96 3h1v1h-1zM51 4h1v1h-1zM57 4h1v1h-1zM77 4h1v1h-1zM16 5h1v1h-1zM35 5h1v1h-1zM42 5h1v1h-1zM99 5h1v1h-1zM17 6h1v1h-1zM77 6h1v1h-1zM79 6h1v1h-1zM14 7h2v1h-2zM22 7h2v1h-2zM58 7h1v1h-1zM73 7h1v1h-1zM99 7h1v1h-1zM15 8h1v1h-1zM38 8h1v1h-1zM80 8h1v1h-1zM97 8h1v1h-1zM81 9h1v1h-1zM14 10h1v1h-1zM19 10h1v1h-1zM43 10h1v1h-1zM51 10h1v1h-1zM72 10h1v1h-1zM19 11h1v1h-1zM53 11h1v1h-1zM96 11h1v1h-1zM16 12h1v1h-1zM56 12h1v1h-1zM73 12h1v1h-1zM16 13h1v1h-1zM47 13h1v1h-1zM52 13h1v1h-1zM55 13h1v1h-1zM58 13h1v1h-1zM98 13h1v1h-1zM2 14h1v1h-1zM14 14h1v1h-1zM25 14h1v1h-1zM54 14h1v1h-1zM78 14h1v1h-1zM81 14h1v1h-1zM12 15h1v1h-1zM37 15h1v1h-1zM55 16h1v1h-1zM74 16h1v1h-1zM91 16h1v1h-1zM16 17h1v1h-1zM20 17h1v1h-1zM82 17h1v1h-1zM21 18h1v1h-1zM35 18h1v1h-1zM47 18h1v1h-1zM75 18h1v1h-1zM78 18h1v1h-1zM88 18h1v1h-1zM20 19h2v1h-2zM35 19h1v1h-1zM37 19h1v1h-1zM79 19h1v1h-1zM83 19h1v1h-1zM94 19h1v1h-1zM96 19h1v1h-1zM33 20h1v1h-1zM97 20h1v1h-1zM99 20h1v1h-1zM14 21h1v1h-1zM17 21h1v1h-1zM39 21h1v1h-1zM41 21h1v1h-1zM56 21h2v1h-2zM60 21h1v1h-1zM5 22h1v1h-1zM44 22h1v1h-1zM58 22h1v1h-1zM73 22h1v1h-1zM90 22h1v1h-1zM5 23h1v1h-1zM10 23h1v1h-1zM55 23h1v1h-1zM26 24h1v1h-1zM33 24h1v1h-1zM41 24h1v1h-1zM52 24h1v1h-1zM73 24h1v1h-1zM83 24h2v1h-2zM91 24h1v1h-1zM94 24h1v1h-1zM3 25h1v1h-1zM28 25h1v1h-1zM48 25h1v1h-1zM66 25h1v1h-1zM70 25h1v1h-1zM90 25h1v1h-1zM52 26h1v1h-1zM57 26h1v1h-1zM63 26h1v1h-1zM69 26h1v1h-1zM86 26h1v1h-1zM96 26h1v1h-1zM9 27h1v1h-1zM24 27h1v1h-1zM32 27h1v1h-1zM42 27h1v1h-1zM49 27h1v1h-1zM54 27h1v1h-1zM70 27h1v1h-1zM93 27h1v1h-1zM10 28h2v1h-2zM36 28h1v1h-1zM45 28h1v1h-1zM47 28h2v1h-2zM59 28h1v1h-1zM78 28h1v1h-1zM88 28h1v1h-1zM4 29h1v1h-1zM7 29h1v1h-1zM10 29h1v1h-1zM19 29h1v1h-1zM30 29h1v1h-1zM39 29h1v1h-1zM47 29h1v1h-1zM71 29h2v1h-2zM90 29h1v1h-1zM95 29h1v1h-1zM20 30h1v1h-1zM66 30h2v1h-2zM72 30h1v1h-1zM85 30h1v1h-1zM95 30h1v1h-1zM99 30h1v1h-1zM4 31h1v1h-1zM8 31h1v1h-1zM20 31h1v1h-1zM63 31h1v1h-1zM68 31h1v1h-1zM70 31h1v1h-1zM98 31h1v1h-1zM58 32h1v1h-1zM92 32h1v1h-1zM23 33h1v1h-1zM25 33h1v1h-1zM68 33h1v1h-1zM94 33h1v1h-1zM1 34h1v1h-1zM60 34h1v1h-1zM65 34h1v1h-1zM70 34h1v1h-1zM0 35h1v1h-1zM29 35h1v1h-1zM48 35h1v1h-1zM58 35h1v1h-1zM81 35h1v1h-1zM95 35h1v1h-1zM2 36h1v1h-1zM29 36h1v1h-1zM31 36h2v1h-2zM54 36h1v1h-1zM63 36h1v1h-1zM90 36h1v1h-1zM98 36h1v1h-1zM0 37h1v1h-1zM5 37h1v1h-1zM8 37h1v1h-1zM30 37h1v1h-1zM47 37h2v1h-2zM58 37h1v1h-1zM63 37h1v1h-1zM98 37h1v1h-1zM26 38h1v1h-1zM31 38h1v1h-1zM33 38h1v1h-1zM44 38h1v1h-1zM60 38h3v1h-3zM65 38h1v1h-1zM83 38h1v1h-1zM5 39h1v1h-1zM26 40h1v1h-1zM29 40h1v1h-1zM86 40h1v1h-1zM5 41h2v1h-2zM9 41h1v1h-1zM38 41h1v1h-1zM44 41h1v1h-1zM49 41h1v1h-1zM66 41h1v1h-1zM27 42h1v1h-1zM62 42h1v1h-1zM94 42h1v1h-1zM30 43h1v1h-1zM66 43h1v1h-1zM68 43h1v1h-1zM94 43h1v1h-1zM96 43h1v1h-1zM2 44h1v1h-1zM33 44h1v1h-1zM62 44h1v1h-1zM69 44h1v1h-1zM88 44h1v1h-1zM92 44h1v1h-1zM1 45h1v1h-1zM6 45h1v1h-1zM25 45h1v1h-1zM64 45h1v1h-1zM93 45h1v1h-1zM65 46h3v1h-3zM92 46h1v1h-1zM95 46h1v1h-1zM28 47h1v1h-1zM94 47h1v1h-1zM0 48h1v1h-1zM37 48h1v1h-1zM44 48h1v1h-1zM89 48h1v1h-1zM6 49h1v1h-1zM69 49h1v1h-1zM87 49h1v1h-1z"/><path fill="#ecb94c" d="M74 0h1v1h-1zM78 0h1v1h-1zM75 1h1v1h-1zM97 1h1v1h-1zM37 2h1v1h-1zM53 3h1v1h-1zM97 3h1v1h-1zM20 4h1v1h-1zM19 5h1v1h-1zM57 5h1v1h-1zM35 6h2v1h-2zM51 6h1v1h-1zM58 6h1v1h-1zM98 6h1v1h-1zM50 7h2v1h-2zM55 7h1v1h-1zM76 7h1v1h-1zM36 8h1v1h-1zM13 9h1v1h-1zM35 9h1v1h-1zM51 9h1v1h-1zM56 9h1v1h-1zM96 9h1v1h-1zM21 10h1v1h-1zM53 10h1v1h-1zM77 10h1v1h-1zM98 10h1v1h-1zM22 11h1v1h-1zM48 11h1v1h-1zM56 11h1v1h-1zM73 11h1v1h-1zM90 11h1v1h-1zM22 12h1v1h-1zM45 12h1v1h-1zM97 12h1v1h-1zM72 13h2v1h-2zM77 13h1v1h-1zM73 14h1v1h-1zM16 15h1v1h-1zM35 15h1v1h-1zM46 15h1v1h-1zM71 15h1v1h-1zM98 15h1v1h-1zM17 16h1v1h-1zM20 16h1v1h-1zM24 16h1v1h-1zM35 16h1v1h-1zM56 16h1v1h-1zM77 16h1v1h-1zM79 16h1v1h-1zM14 17h1v1h-1zM39 17h1v1h-1zM54 17h2v1h-2zM63 17h1v1h-1zM76 17h1v1h-1zM78 17h1v1h-1zM99 17h1v1h-1zM36 18h1v1h-1zM83 18h1v1h-1zM2 19h1v1h-1zM17 19h1v1h-1zM23 19h1v1h-1zM38 19h1v1h-1zM49 19h1v1h-1zM52 19h2v1h-2zM56 19h1v1h-1zM6 20h1v1h-1zM36 20h1v1h-1zM54 20h1v1h-1zM72 20h1v1h-1zM78 20h1v1h-1zM18 21h1v1h-1zM20 21h1v1h-1zM23 21h1v1h-1zM72 21h1v1h-1zM75 21h2v1h-2zM14 22h1v1h-1zM17 22h1v1h-1zM30 22h1v1h-1zM33 22h1v1h-1zM36 22h1v1h-1zM43 22h1v1h-1zM50 22h1v1h-1zM77 22h1v1h-1zM91 22h1v1h-1zM99 22h1v1h-1zM14 23h1v1h-1zM31 23h1v1h-1zM38 23h1v1h-1zM53 23h1v1h-1zM58 23h2v1h-2zM65 23h1v1h-1zM84 23h1v1h-1zM32 24h1v1h-1zM75 24h1v1h-1zM81 24h1v1h-1zM46 25h1v1h-1zM50 25h1v1h-1zM52 25h1v1h-1zM88 25h1v1h-1zM97 25h1v1h-1zM10 26h1v1h-1zM14 26h1v1h-1zM35 26h1v1h-1zM40 26h1v1h-1zM49 26h1v1h-1zM53 26h1v1h-1zM58 26h1v1h-1zM15 27h1v1h-1zM84 27h1v1h-1zM96 27h1v1h-1zM4 28h1v1h-1zM23 28h1v1h-1zM34 28h1v1h-1zM64 28h1v1h-1zM70 28h1v1h-1zM2 29h1v1h-1zM13 29h1v1h-1zM45 29h2v1h-2zM82 29h1v1h-1zM88 29h1v1h-1zM10 30h1v1h-1zM17 30h1v1h-1zM24 30h1v1h-1zM45 30h1v1h-1zM50 30h1v1h-1zM53 30h1v1h-1zM58 30h2v1h-2zM97 30h1v1h-1zM14 31h1v1h-1zM29 31h1v1h-1zM38 31h1v1h-1zM47 31h1v1h-1zM53 31h1v1h-1zM61 31h1v1h-1zM84 31h1v1h-1zM88 31h1v1h-1zM38 32h1v1h-1zM48 32h1v1h-1zM59 32h1v1h-1zM90 32h1v1h-1zM97 32h1v1h-1zM47 33h1v1h-1zM52 33h1v1h-1zM60 33h1v1h-1zM24 34h1v1h-1zM30 34h1v1h-1zM46 34h1v1h-1zM62 34h1v1h-1zM64 34h1v1h-1zM96 34h1v1h-1zM45 35h1v1h-1zM52 35h1v1h-1zM59 35h1v1h-1zM87 35h1v1h-1zM97 35h1v1h-1zM0 36h1v1h-1zM19 36h1v1h-1zM41 36h1v1h-1zM47 36h1v1h-1zM62 36h1v1h-1zM72 36h1v1h-1zM27 37h1v1h-1zM35 37h1v1h-1zM61 37h1v1h-1zM69 37h1v1h-1zM86 37h2v1h-2zM96 37h1v1h-1zM99 37h1v1h-1zM6 38h1v1h-1zM12 38h1v1h-1zM30 38h1v1h-1zM63 38h1v1h-1zM91 38h1v1h-1zM94 38h1v1h-1zM98 38h1v1h-1zM6 39h1v1h-1zM39 39h1v1h-1zM68 39h1v1h-1zM0 40h1v1h-1zM3 40h1v1h-1zM42 40h1v1h-1zM44 40h1v1h-1zM46 40h1v1h-1zM69 40h1v1h-1zM94 40h1v1h-1zM2 41h1v1h-1zM8 41h1v1h-1zM27 41h1v1h-1zM68 41h1v1h-1zM86 41h1v1h-1zM89 41h1v1h-1zM91 41h1v1h-1zM0 42h1v1h-1zM4 42h1v1h-1zM8 42h1v1h-1zM30 42h1v1h-1zM39 42h1v1h-1zM68 42h1v1h-1zM89 42h1v1h-1zM93 42h1v1h-1zM98 42h1v1h-1zM5 43h2v1h-2zM38 43h1v1h-1zM40 43h1v1h-1zM47 43h1v1h-1zM92 43h2v1h-2zM0 44h1v1h-1zM25 44h1v1h-1zM29 44h1v1h-1zM65 44h1v1h-1zM87 44h1v1h-1zM91 44h1v1h-1zM93 44h1v1h-1zM11 45h1v1h-1zM30 45h1v1h-1zM35 45h1v1h-1zM45 45h1v1h-1zM67 45h3v1h-3zM90 45h1v1h-1zM1 46h1v1h-1zM26 46h1v1h-1zM44 46h3v1h-3zM63 46h2v1h-2zM68 46h1v1h-1zM88 46h2v1h-2zM97 46h1v1h-1zM86 47h1v1h-1zM4 48h1v1h-1zM6 48h1v1h-1zM67 48h3v1h-3zM87 48h1v1h-1zM47 49h1v1h-1zM55 49h1v1h-1zM64 49h1v1h-1z"/><path fill="#f1b949" d="M57 0h1v1h-1zM77 1h1v1h-1zM81 1h1v1h-1zM16 2h1v1h-1zM79 2h1v1h-1zM82 3h1v1h-1zM15 4h1v1h-1zM55 4h1v1h-1zM18 5h1v1h-1zM80 5h1v1h-1zM16 6h1v1h-1zM96 6h1v1h-1zM36 7h1v1h-1zM78 7h1v1h-1zM16 8h1v1h-1zM73 8h1v1h-1zM76 8h1v1h-1zM82 8h1v1h-1zM74 9h1v1h-1zM55 10h1v1h-1zM80 10h1v1h-1zM13 11h1v1h-1zM16 11h1v1h-1zM58 11h1v1h-1zM36 12h1v1h-1zM46 12h1v1h-1zM55 12h1v1h-1zM79 12h1v1h-1zM97 13h1v1h-1zM17 14h1v1h-1zM83 14h1v1h-1zM77 15h1v1h-1zM80 15h1v1h-1zM11 16h1v1h-1zM36 16h1v1h-1zM50 16h1v1h-1zM53 16h1v1h-1zM76 16h1v1h-1zM96 16h1v1h-1zM98 16h1v1h-1zM17 17h1v1h-1zM23 17h1v1h-1zM38 17h1v1h-1zM53 17h1v1h-1zM80 17h1v1h-1zM12 18h1v1h-1zM19 18h1v1h-1zM38 18h1v1h-1zM58 18h1v1h-1zM4 19h1v1h-1zM19 19h1v1h-1zM46 19h1v1h-1zM50 19h1v1h-1zM59 19h1v1h-1zM82 19h1v1h-1zM15 20h1v1h-1zM19 20h1v1h-1zM41 20h1v1h-1zM58 20h1v1h-1zM60 20h1v1h-1zM67 20h1v1h-1zM3 21h1v1h-1zM19 21h1v1h-1zM30 21h1v1h-1zM37 21h1v1h-1zM81 22h1v1h-1zM85 22h1v1h-1zM19 23h1v1h-1zM12 24h1v1h-1zM70 24h2v1h-2zM2 25h1v1h-1zM38 25h1v1h-1zM84 25h1v1h-1zM99 25h1v1h-1zM41 26h1v1h-1zM82 26h1v1h-1zM95 26h1v1h-1zM11 27h1v1h-1zM17 27h1v1h-1zM79 27h1v1h-1zM87 27h1v1h-1zM32 28h1v1h-1zM41 28h1v1h-1zM60 28h1v1h-1zM79 28h1v1h-1zM83 28h1v1h-1zM98 28h1v1h-1zM33 29h1v1h-1zM51 29h2v1h-2zM96 29h1v1h-1zM4 30h1v1h-1zM34 30h1v1h-1zM40 30h3v1h-3zM49 30h1v1h-1zM71 30h1v1h-1zM80 30h1v1h-1zM1 31h1v1h-1zM25 31h1v1h-1zM35 31h1v1h-1zM10 32h1v1h-1zM29 32h1v1h-1zM64 32h1v1h-1zM72 32h1v1h-1zM98 32h2v1h-2zM5 33h1v1h-1zM32 33h1v1h-1zM38 33h1v1h-1zM6 34h1v1h-1zM28 34h1v1h-1zM35 34h1v1h-1zM37 34h1v1h-1zM49 34h1v1h-1zM57 34h1v1h-1zM67 34h1v1h-1zM86 34h1v1h-1zM88 34h1v1h-1zM97 34h1v1h-1zM10 35h1v1h-1zM13 35h1v1h-1zM18 35h1v1h-1zM44 35h1v1h-1zM49 35h1v1h-1zM67 35h1v1h-1zM69 35h1v1h-1zM71 35h1v1h-1zM84 35h1v1h-1zM92 35h1v1h-1zM1 36h1v1h-1zM7 36h1v1h-1zM16 36h1v1h-1zM33 36h1v1h-1zM42 36h1v1h-1zM44 36h1v1h-1zM85 36h1v1h-1zM87 36h1v1h-1zM94 36h1v1h-1zM25 37h1v1h-1zM41 37h1v1h-1zM94 37h1v1h-1zM25 38h1v1h-1zM29 38h1v1h-1zM47 38h1v1h-1zM52 38h1v1h-1zM70 38h1v1h-1zM90 38h1v1h-1zM31 39h2v1h-2zM44 39h1v1h-1zM46 39h1v1h-1zM60 39h1v1h-1zM62 39h1v1h-1zM91 39h1v1h-1zM95 39h1v1h-1zM98 39h1v1h-1zM25 40h1v1h-1zM48 40h1v1h-1zM26 41h1v1h-1zM31 41h1v1h-1zM60 41h1v1h-1zM62 41h1v1h-1zM64 41h1v1h-1zM73 41h1v1h-1zM88 41h1v1h-1zM5 42h1v1h-1zM35 42h1v1h-1zM58 42h1v1h-1zM63 42h3v1h-3zM88 42h1v1h-1zM11 43h1v1h-1zM44 43h1v1h-1zM60 43h1v1h-1zM64 43h1v1h-1zM6 44h1v1h-1zM8 44h1v1h-1zM26 44h1v1h-1zM48 44h1v1h-1zM58 44h1v1h-1zM64 44h1v1h-1zM29 45h1v1h-1zM31 45h1v1h-1zM44 45h1v1h-1zM58 45h2v1h-2zM86 45h1v1h-1zM92 45h1v1h-1zM96 45h1v1h-1zM99 45h1v1h-1zM1 47h1v1h-1zM43 47h1v1h-1zM45 47h1v1h-1zM96 47h2v1h-2zM26 48h1v1h-1zM90 48h1v1h-1zM28 49h1v1h-1zM46 49h1v1h-1zM97 49h1v1h-1z"/><path fill="#f6ba46" d="M55 3h1v1h-1zM81 3h1v1h-1zM72 5h1v1h-1zM22 6h1v1h-1zM74 7h1v1h-1zM79 7h1v1h-1zM13 8h1v1h-1zM21 8h1v1h-1zM55 8h1v1h-1zM20 9h1v1h-1zM97 9h1v1h-1zM76 10h1v1h-1zM51 11h1v1h-1zM72 11h1v1h-1zM57 12h1v1h-1zM99 12h1v1h-1zM37 13h1v1h-1zM54 13h1v1h-1zM79 13h1v1h-1zM76 14h1v1h-1zM14 15h1v1h-1zM82 15h1v1h-1zM22 16h1v1h-1zM52 16h1v1h-1zM54 16h1v1h-1zM18 17h1v1h-1zM22 17h1v1h-1zM13 19h2v1h-2zM41 19h1v1h-1zM45 19h1v1h-1zM74 19h1v1h-1zM77 19h1v1h-1zM16 20h1v1h-1zM74 20h1v1h-1zM38 21h1v1h-1zM54 21h1v1h-1zM58 21h1v1h-1zM81 21h1v1h-1zM34 22h1v1h-1zM57 22h1v1h-1zM61 22h1v1h-1zM74 22h1v1h-1zM78 22h1v1h-1zM15 23h1v1h-1zM36 23h1v1h-1zM50 23h1v1h-1zM54 23h1v1h-1zM71 23h1v1h-1zM93 23h1v1h-1zM97 23h1v1h-1zM10 24h1v1h-1zM13 24h2v1h-2zM18 24h1v1h-1zM20 24h1v1h-1zM48 24h1v1h-1zM57 24h1v1h-1zM59 24h1v1h-1zM79 24h1v1h-1zM16 25h3v1h-3zM35 25h1v1h-1zM39 25h1v1h-1zM45 25h1v1h-1zM12 26h1v1h-1zM15 26h1v1h-1zM17 26h1v1h-1zM34 26h1v1h-1zM38 26h1v1h-1zM71 26h1v1h-1zM73 26h1v1h-1zM12 27h1v1h-1zM22 27h1v1h-1zM39 27h1v1h-1zM59 27h1v1h-1zM82 27h2v1h-2zM89 27h1v1h-1zM92 27h1v1h-1zM13 28h1v1h-1zM24 28h1v1h-1zM37 29h1v1h-1zM57 29h1v1h-1zM13 30h1v1h-1zM36 30h1v1h-1zM54 30h2v1h-2zM70 30h1v1h-1zM0 31h1v1h-1zM6 31h2v1h-2zM15 31h1v1h-1zM33 31h1v1h-1zM40 31h1v1h-1zM43 31h2v1h-2zM50 31h1v1h-1zM58 31h1v1h-1zM71 31h1v1h-1zM8 32h1v1h-1zM39 32h1v1h-1zM49 32h1v1h-1zM51 32h1v1h-1zM57 32h1v1h-1zM70 32h1v1h-1zM88 32h1v1h-1zM93 32h1v1h-1zM95 32h1v1h-1zM35 33h1v1h-1zM37 33h1v1h-1zM51 33h1v1h-1zM59 33h1v1h-1zM72 33h1v1h-1zM9 34h1v1h-1zM48 34h1v1h-1zM32 35h1v1h-1zM47 35h1v1h-1zM91 35h1v1h-1zM98 35h2v1h-2zM5 36h1v1h-1zM11 36h1v1h-1zM14 36h1v1h-1zM17 36h1v1h-1zM25 36h1v1h-1zM36 36h1v1h-1zM43 36h1v1h-1zM60 36h1v1h-1zM69 36h1v1h-1zM91 36h1v1h-1zM18 37h1v1h-1zM36 37h1v1h-1zM40 37h1v1h-1zM70 37h1v1h-1zM92 37h1v1h-1zM2 38h1v1h-1zM27 38h1v1h-1zM36 38h1v1h-1zM40 38h2v1h-2zM56 38h1v1h-1zM77 38h1v1h-1zM85 38h1v1h-1zM95 38h1v1h-1zM0 39h1v1h-1zM35 39h1v1h-1zM37 39h1v1h-1zM42 39h1v1h-1zM66 39h1v1h-1zM88 39h2v1h-2zM94 39h1v1h-1zM32 40h1v1h-1zM50 40h2v1h-2zM60 40h1v1h-1zM93 40h1v1h-1zM18 41h1v1h-1zM48 41h1v1h-1zM58 41h1v1h-1zM38 42h1v1h-1zM7 43h1v1h-1zM25 43h1v1h-1zM55 43h1v1h-1zM62 43h1v1h-1zM87 43h1v1h-1zM90 43h1v1h-1zM95 43h1v1h-1zM28 44h1v1h-1zM45 44h1v1h-1zM54 44h1v1h-1zM63 44h1v1h-1zM70 44h1v1h-1zM28 45h1v1h-1zM50 45h1v1h-1zM0 46h1v1h-1zM50 46h1v1h-1zM86 46h1v1h-1zM93 46h1v1h-1zM96 46h1v1h-1zM7 47h1v1h-1zM26 47h1v1h-1zM38 47h1v1h-1zM48 47h1v1h-1zM62 47h1v1h-1zM65 47h1v1h-1zM87 47h2v1h-2zM62 48h1v1h-1zM91 48h1v1h-1zM96 48h1v1h-1zM2 49h1v1h-1z"/><path fill="#fabc41" d="M52 2h1v1h-1zM56 2h1v1h-1zM35 4h1v1h-1zM37 6h1v1h-1zM82 7h1v1h-1zM22 8h1v1h-1zM52 9h1v1h-1zM54 9h1v1h-1zM15 10h1v1h-1zM58 10h1v1h-1zM73 10h1v1h-1zM82 10h1v1h-1zM18 11h1v1h-1zM20 11h1v1h-1zM54 11h1v1h-1zM80 11h1v1h-1zM82 11h1v1h-1zM14 12h1v1h-1zM51 12h1v1h-1zM81 12h1v1h-1zM13 13h1v1h-1zM20 13h1v1h-1zM23 14h1v1h-1zM52 14h1v1h-1zM18 15h1v1h-1zM56 15h1v1h-1zM97 15h1v1h-1zM19 16h1v1h-1zM78 16h1v1h-1zM81 16h1v1h-1zM21 17h1v1h-1zM74 17h1v1h-1zM83 17h1v1h-1zM97 17h1v1h-1zM16 18h2v1h-2zM40 18h1v1h-1zM76 18h1v1h-1zM79 18h1v1h-1zM82 18h1v1h-1zM22 19h1v1h-1zM97 19h1v1h-1zM12 20h1v1h-1zM14 20h1v1h-1zM20 20h1v1h-1zM73 20h1v1h-1zM81 20h1v1h-1zM98 20h1v1h-1zM15 21h2v1h-2zM16 22h1v1h-1zM23 22h1v1h-1zM53 22h1v1h-1zM56 22h1v1h-1zM96 22h1v1h-1zM57 23h1v1h-1zM77 23h1v1h-1zM83 23h1v1h-1zM19 24h1v1h-1zM38 24h1v1h-1zM54 24h1v1h-1zM80 24h1v1h-1zM11 25h1v1h-1zM34 25h1v1h-1zM36 25h1v1h-1zM43 25h1v1h-1zM51 25h1v1h-1zM55 25h1v1h-1zM57 25h1v1h-1zM59 25h1v1h-1zM72 25h1v1h-1zM82 25h1v1h-1zM26 26h1v1h-1zM32 26h1v1h-1zM37 26h1v1h-1zM50 26h1v1h-1zM54 26h1v1h-1zM77 26h1v1h-1zM18 27h1v1h-1zM33 27h1v1h-1zM51 27h1v1h-1zM55 27h1v1h-1zM58 27h1v1h-1zM78 27h1v1h-1zM1 28h1v1h-1zM12 28h1v1h-1zM18 28h1v1h-1zM57 28h1v1h-1zM71 28h1v1h-1zM76 28h1v1h-1zM20 29h1v1h-1zM31 29h1v1h-1zM54 29h3v1h-3zM67 29h1v1h-1zM25 30h1v1h-1zM35 30h1v1h-1zM37 30h1v1h-1zM46 30h1v1h-1zM11 31h1v1h-1zM24 31h1v1h-1zM49 31h1v1h-1zM75 31h1v1h-1zM14 32h1v1h-1zM18 32h2v1h-2zM33 32h2v1h-2zM76 32h1v1h-1zM86 32h1v1h-1zM81 33h1v1h-1zM84 33h1v1h-1zM86 33h1v1h-1zM10 34h1v1h-1zM22 34h1v1h-1zM34 34h1v1h-1zM41 34h1v1h-1zM44 34h1v1h-1zM56 34h1v1h-1zM59 34h1v1h-1zM63 34h1v1h-1zM7 35h1v1h-1zM22 35h1v1h-1zM25 35h1v1h-1zM40 35h1v1h-1zM8 36h1v1h-1zM21 36h1v1h-1zM34 36h1v1h-1zM46 36h1v1h-1zM48 36h1v1h-1zM70 36h1v1h-1zM84 36h1v1h-1zM96 36h1v1h-1zM50 37h2v1h-2zM59 37h2v1h-2zM64 37h1v1h-1zM85 37h1v1h-1zM49 38h2v1h-2zM66 38h2v1h-2zM92 38h1v1h-1zM38 39h1v1h-1zM93 39h1v1h-1zM18 40h1v1h-1zM24 40h1v1h-1zM33 40h1v1h-1zM39 40h1v1h-1zM49 40h1v1h-1zM65 40h1v1h-1zM67 40h1v1h-1zM70 40h1v1h-1zM95 40h2v1h-2zM98 40h2v1h-2zM0 41h1v1h-1zM12 41h1v1h-1zM56 41h1v1h-1zM70 41h1v1h-1zM87 41h1v1h-1zM96 41h2v1h-2zM99 41h1v1h-1zM3 42h1v1h-1zM14 42h1v1h-1zM29 42h1v1h-1zM77 42h1v1h-1zM99 42h1v1h-1zM31 43h1v1h-1zM49 43h1v1h-1zM86 43h1v1h-1zM88 43h1v1h-1zM97 43h1v1h-1zM31 44h2v1h-2zM39 44h1v1h-1zM41 44h1v1h-1zM74 44h1v1h-1zM98 44h1v1h-1zM91 45h1v1h-1zM94 45h1v1h-1zM38 46h2v1h-2zM52 46h1v1h-1zM60 46h1v1h-1zM62 46h1v1h-1zM70 46h1v1h-1zM67 47h1v1h-1zM69 47h1v1h-1zM98 47h1v1h-1zM34 48h1v1h-1zM36 48h1v1h-1zM51 48h1v1h-1zM1 49h1v1h-1zM26 49h1v1h-1zM44 49h1v1h-1zM89 49h1v1h-1z"/><path fill="#fdbe3d" d="M98 4h1v1h-1zM81 5h1v1h-1zM76 6h1v1h-1zM82 6h1v1h-1zM21 7h1v1h-1zM81 7h1v1h-1zM17 11h1v1h-1zM45 11h1v1h-1zM18 12h1v1h-1zM53 12h1v1h-1zM75 12h1v1h-1zM51 13h1v1h-1zM53 13h1v1h-1zM81 13h1v1h-1zM36 14h1v1h-1zM20 15h1v1h-1zM74 15h1v1h-1zM14 16h1v1h-1zM18 16h1v1h-1zM73 16h1v1h-1zM95 16h1v1h-1zM36 17h1v1h-1zM71 18h1v1h-1zM77 18h1v1h-1zM36 19h1v1h-1zM73 19h1v1h-1zM75 19h1v1h-1zM17 20h1v1h-1zM83 20h1v1h-1zM12 21h1v1h-1zM21 21h1v1h-1zM79 21h1v1h-1zM84 21h1v1h-1zM15 22h1v1h-1zM19 22h1v1h-1zM51 22h1v1h-1zM54 22h1v1h-1zM79 22h1v1h-1zM83 22h1v1h-1zM11 23h2v1h-2zM32 23h1v1h-1zM35 23h1v1h-1zM78 23h1v1h-1zM15 24h1v1h-1zM58 24h1v1h-1zM21 25h3v1h-3zM40 25h1v1h-1zM77 25h2v1h-2zM36 26h1v1h-1zM78 26h1v1h-1zM16 27h1v1h-1zM36 27h1v1h-1zM57 27h1v1h-1zM74 27h1v1h-1zM99 27h1v1h-1zM54 28h1v1h-1zM58 28h1v1h-1zM5 29h1v1h-1zM11 29h1v1h-1zM21 29h1v1h-1zM23 29h1v1h-1zM44 29h1v1h-1zM53 29h1v1h-1zM75 29h1v1h-1zM77 29h1v1h-1zM79 29h1v1h-1zM98 29h2v1h-2zM11 30h1v1h-1zM10 31h1v1h-1zM18 31h1v1h-1zM21 31h1v1h-1zM23 31h1v1h-1zM36 31h1v1h-1zM99 31h1v1h-1zM16 32h1v1h-1zM53 32h2v1h-2zM62 32h1v1h-1zM74 32h1v1h-1zM13 33h1v1h-1zM83 33h1v1h-1zM85 33h1v1h-1zM52 34h1v1h-1zM54 34h2v1h-2zM84 34h1v1h-1zM11 35h1v1h-1zM33 35h1v1h-1zM66 35h1v1h-1zM70 35h1v1h-1zM96 35h1v1h-1zM9 36h2v1h-2zM20 36h1v1h-1zM99 36h1v1h-1zM9 37h1v1h-1zM37 37h2v1h-2zM54 37h1v1h-1zM56 37h1v1h-1zM74 37h1v1h-1zM4 38h1v1h-1zM24 38h1v1h-1zM39 38h1v1h-1zM84 38h1v1h-1zM27 39h1v1h-1zM29 39h1v1h-1zM47 39h1v1h-1zM58 39h1v1h-1zM63 39h1v1h-1zM65 39h1v1h-1zM96 39h1v1h-1zM8 40h1v1h-1zM20 40h1v1h-1zM41 40h1v1h-1zM59 40h1v1h-1zM4 41h1v1h-1zM43 41h1v1h-1zM53 41h1v1h-1zM85 41h1v1h-1zM94 41h1v1h-1zM9 42h1v1h-1zM11 42h1v1h-1zM34 42h1v1h-1zM53 42h1v1h-1zM56 42h1v1h-1zM97 42h1v1h-1zM10 43h1v1h-1zM32 43h1v1h-1zM35 43h1v1h-1zM41 43h1v1h-1zM48 43h1v1h-1zM53 43h1v1h-1zM7 44h1v1h-1zM90 44h1v1h-1zM7 45h1v1h-1zM42 45h1v1h-1zM66 45h1v1h-1zM97 45h1v1h-1zM3 46h1v1h-1zM4 47h1v1h-1zM46 47h1v1h-1zM90 47h1v1h-1zM29 48h1v1h-1zM31 48h1v1h-1zM45 48h1v1h-1zM47 48h2v1h-2zM59 48h1v1h-1zM77 48h1v1h-1zM88 48h1v1h-1zM93 48h1v1h-1zM99 48h1v1h-1zM5 49h1v1h-1zM88 49h1v1h-1zM90 49h1v1h-1z"/><path fill="#fec239" d="M54 3h1v1h-1zM78 9h1v1h-1zM79 10h1v1h-1zM97 11h2v1h-2zM76 12h1v1h-1zM17 13h2v1h-2zM15 14h1v1h-1zM81 17h1v1h-1zM96 17h1v1h-1zM18 18h1v1h-1zM16 19h1v1h-1zM21 20h1v1h-1zM56 20h1v1h-1zM79 20h1v1h-1zM22 21h1v1h-1zM55 21h1v1h-1zM74 21h1v1h-1zM13 22h1v1h-1zM22 22h1v1h-1zM17 23h1v1h-1zM37 23h1v1h-1zM72 23h1v1h-1zM80 23h3v1h-3zM17 24h1v1h-1zM21 24h1v1h-1zM23 24h1v1h-1zM37 24h1v1h-1zM72 24h1v1h-1zM76 24h2v1h-2zM12 25h1v1h-1zM54 25h1v1h-1zM75 25h2v1h-2zM83 25h1v1h-1zM21 26h1v1h-1zM21 27h1v1h-1zM34 27h1v1h-1zM14 28h1v1h-1zM37 28h1v1h-1zM44 28h1v1h-1zM53 28h1v1h-1zM55 28h1v1h-1zM72 28h1v1h-1zM75 28h1v1h-1zM14 29h1v1h-1zM35 29h1v1h-1zM83 29h1v1h-1zM85 29h1v1h-1zM16 30h1v1h-1zM19 30h1v1h-1zM51 30h1v1h-1zM83 30h1v1h-1zM56 31h1v1h-1zM77 31h1v1h-1zM56 32h1v1h-1zM60 32h1v1h-1zM78 32h1v1h-1zM15 33h1v1h-1zM24 33h1v1h-1zM49 33h2v1h-2zM56 33h1v1h-1zM80 33h1v1h-1zM38 34h1v1h-1zM40 34h1v1h-1zM58 34h1v1h-1zM71 34h1v1h-1zM78 34h1v1h-1zM99 34h1v1h-1zM23 35h1v1h-1zM72 35h1v1h-1zM74 35h1v1h-1zM4 36h1v1h-1zM18 36h1v1h-1zM28 36h1v1h-1zM35 36h1v1h-1zM80 36h1v1h-1zM82 36h1v1h-1zM89 36h1v1h-1zM97 36h1v1h-1zM3 37h1v1h-1zM39 37h1v1h-1zM49 37h1v1h-1zM10 38h1v1h-1zM14 38h1v1h-1zM23 38h1v1h-1zM32 38h1v1h-1zM72 38h1v1h-1zM74 38h1v1h-1zM9 39h1v1h-1zM16 39h1v1h-1zM52 39h2v1h-2zM55 39h1v1h-1zM69 39h2v1h-2zM10 40h1v1h-1zM13 40h1v1h-1zM40 40h1v1h-1zM53 40h2v1h-2zM58 40h1v1h-1zM75 40h1v1h-1zM83 40h1v1h-1zM85 40h1v1h-1zM89 40h1v1h-1zM24 41h1v1h-1zM36 41h1v1h-1zM51 41h1v1h-1zM77 41h1v1h-1zM95 41h1v1h-1zM23 42h1v1h-1zM33 42h1v1h-1zM55 42h1v1h-1zM69 42h1v1h-1zM96 42h1v1h-1zM3 43h1v1h-1zM8 43h1v1h-1zM50 43h1v1h-1zM95 44h2v1h-2zM23 45h1v1h-1zM47 45h2v1h-2zM61 45h2v1h-2zM81 45h1v1h-1zM95 45h1v1h-1zM98 45h1v1h-1zM40 46h1v1h-1zM43 46h1v1h-1zM87 46h1v1h-1zM91 46h1v1h-1zM99 46h1v1h-1zM0 47h1v1h-1zM2 47h1v1h-1zM53 47h1v1h-1zM63 47h1v1h-1zM71 47h1v1h-1zM93 47h1v1h-1zM30 48h1v1h-1zM38 48h1v1h-1zM56 48h2v1h-2zM94 48h1v1h-1zM7 49h1v1h-1zM35 49h1v1h-1zM51 49h1v1h-1zM91 49h1v1h-1z"/><path fill="#fec535" d="M78 4h1v1h-1zM16 9h2v1h-2zM82 16h1v1h-1zM13 17h1v1h-1zM22 18h1v1h-1zM37 18h1v1h-1zM54 19h1v1h-1zM81 19h1v1h-1zM13 20h1v1h-1zM13 21h1v1h-1zM73 21h1v1h-1zM78 21h1v1h-1zM80 21h1v1h-1zM83 21h1v1h-1zM21 22h1v1h-1zM82 22h1v1h-1zM23 23h1v1h-1zM51 23h1v1h-1zM73 23h1v1h-1zM74 24h1v1h-1zM13 25h1v1h-1zM15 25h1v1h-1zM74 25h1v1h-1zM98 25h1v1h-1zM16 26h1v1h-1zM18 26h1v1h-1zM79 26h1v1h-1zM84 26h1v1h-1zM20 27h1v1h-1zM52 27h1v1h-1zM77 27h1v1h-1zM15 28h1v1h-1zM21 28h1v1h-1zM52 28h1v1h-1zM56 28h1v1h-1zM77 28h1v1h-1zM81 28h1v1h-1zM80 29h1v1h-1zM15 30h1v1h-1zM38 30h1v1h-1zM79 30h1v1h-1zM39 31h1v1h-1zM51 31h1v1h-1zM72 31h1v1h-1zM81 31h1v1h-1zM15 32h1v1h-1zM22 32h1v1h-1zM24 32h1v1h-1zM36 32h1v1h-1zM82 32h1v1h-1zM84 32h1v1h-1zM12 33h1v1h-1zM36 33h1v1h-1zM39 33h1v1h-1zM58 33h1v1h-1zM87 33h1v1h-1zM96 33h1v1h-1zM98 33h1v1h-1zM19 34h1v1h-1zM32 34h1v1h-1zM14 35h1v1h-1zM20 35h1v1h-1zM36 35h1v1h-1zM38 35h1v1h-1zM50 35h1v1h-1zM53 35h1v1h-1zM12 36h1v1h-1zM57 36h1v1h-1zM73 36h2v1h-2zM76 36h1v1h-1zM34 37h1v1h-1zM95 37h1v1h-1zM3 38h1v1h-1zM48 38h1v1h-1zM57 38h1v1h-1zM24 39h1v1h-1zM34 39h1v1h-1zM49 39h2v1h-2zM64 39h1v1h-1zM52 40h1v1h-1zM78 40h1v1h-1zM32 41h1v1h-1zM52 41h1v1h-1zM59 41h1v1h-1zM75 41h1v1h-1zM52 42h1v1h-1zM60 42h1v1h-1zM70 42h1v1h-1zM76 42h1v1h-1zM95 42h1v1h-1zM0 43h1v1h-1zM22 43h1v1h-1zM39 43h1v1h-1zM54 43h1v1h-1zM56 43h1v1h-1zM99 43h1v1h-1zM40 44h1v1h-1zM47 44h1v1h-1zM89 44h1v1h-1zM99 44h1v1h-1zM15 45h1v1h-1zM46 45h1v1h-1zM56 45h2v1h-2zM8 46h1v1h-1zM32 46h1v1h-1zM42 46h1v1h-1zM57 46h1v1h-1zM59 46h1v1h-1zM85 46h1v1h-1zM25 47h1v1h-1zM27 47h1v1h-1zM7 48h1v1h-1zM64 48h1v1h-1zM92 48h1v1h-1zM97 48h1v1h-1zM27 49h1v1h-1zM32 49h1v1h-1zM48 49h2v1h-2z"/><path fill="#fec932" d="M20 12h1v1h-1zM57 13h1v1h-1zM19 14h1v1h-1zM75 15h1v1h-1zM19 17h1v1h-1zM51 17h1v1h-1zM18 19h1v1h-1zM76 20h2v1h-2zM35 21h2v1h-2zM12 22h1v1h-1zM22 24h1v1h-1zM20 25h1v1h-1zM58 25h1v1h-1zM22 26h1v1h-1zM76 26h1v1h-1zM99 26h1v1h-1zM72 27h1v1h-1zM73 28h1v1h-1zM17 29h1v1h-1zM34 29h1v1h-1zM50 29h1v1h-1zM78 29h1v1h-1zM14 30h1v1h-1zM56 30h1v1h-1zM13 31h1v1h-1zM83 31h1v1h-1zM9 32h1v1h-1zM11 32h1v1h-1zM35 32h1v1h-1zM55 32h1v1h-1zM71 32h1v1h-1zM77 32h1v1h-1zM81 32h1v1h-1zM11 33h1v1h-1zM16 33h1v1h-1zM18 33h1v1h-1zM95 33h1v1h-1zM74 34h1v1h-1zM81 34h1v1h-1zM39 35h1v1h-1zM41 35h1v1h-1zM56 35h1v1h-1zM39 36h2v1h-2zM56 36h1v1h-1zM71 36h1v1h-1zM75 36h1v1h-1zM77 36h1v1h-1zM81 36h1v1h-1zM95 36h1v1h-1zM16 37h1v1h-1zM24 37h1v1h-1zM32 37h1v1h-1zM55 37h1v1h-1zM0 38h1v1h-1zM34 38h1v1h-1zM53 38h1v1h-1zM71 38h1v1h-1zM10 39h1v1h-1zM56 39h2v1h-2zM71 39h1v1h-1zM73 39h1v1h-1zM14 40h1v1h-1zM38 40h1v1h-1zM97 40h1v1h-1zM37 41h1v1h-1zM39 41h1v1h-1zM50 41h1v1h-1zM71 41h1v1h-1zM10 42h1v1h-1zM25 42h1v1h-1zM49 42h1v1h-1zM59 42h1v1h-1zM86 42h1v1h-1zM23 43h1v1h-1zM34 43h1v1h-1zM59 43h1v1h-1zM98 43h1v1h-1zM50 44h1v1h-1zM43 45h1v1h-1zM51 45h2v1h-2zM80 45h1v1h-1zM85 45h1v1h-1zM48 46h1v1h-1zM54 46h2v1h-2zM69 46h1v1h-1zM3 47h1v1h-1zM17 47h1v1h-1zM29 47h1v1h-1zM31 47h1v1h-1zM41 47h1v1h-1zM47 47h1v1h-1zM58 47h1v1h-1zM60 47h1v1h-1zM17 49h1v1h-1zM30 49h1v1h-1zM40 49h1v1h-1zM45 49h1v1h-1zM54 49h1v1h-1zM95 49h1v1h-1zM99 49h1v1h-1z"/><path fill="#fdcc2f" d="M55 15h1v1h-1zM15 17h1v1h-1zM79 17h1v1h-1zM76 19h1v1h-1zM18 20h1v1h-1zM82 20h1v1h-1zM22 23h1v1h-1zM78 24h1v1h-1zM14 25h1v1h-1zM81 25h1v1h-1zM13 26h1v1h-1zM19 26h1v1h-1zM55 26h2v1h-2zM75 26h1v1h-1zM73 27h1v1h-1zM76 27h1v1h-1zM80 27h1v1h-1zM20 28h1v1h-1zM51 28h1v1h-1zM80 28h1v1h-1zM15 29h1v1h-1zM21 30h1v1h-1zM82 31h1v1h-1zM34 33h1v1h-1zM70 33h1v1h-1zM12 34h1v1h-1zM14 34h1v1h-1zM18 34h1v1h-1zM51 34h1v1h-1zM80 34h1v1h-1zM83 34h1v1h-1zM16 35h1v1h-1zM35 35h1v1h-1zM75 35h1v1h-1zM82 35h2v1h-2zM78 36h1v1h-1zM20 37h1v1h-1zM57 37h1v1h-1zM75 37h1v1h-1zM15 38h1v1h-1zM20 38h1v1h-1zM37 38h1v1h-1zM55 38h1v1h-1zM75 38h1v1h-1zM96 38h1v1h-1zM33 39h1v1h-1zM81 39h1v1h-1zM36 40h2v1h-2zM56 40h1v1h-1zM73 40h1v1h-1zM84 40h1v1h-1zM92 40h1v1h-1zM14 41h1v1h-1zM19 41h1v1h-1zM34 41h2v1h-2zM54 41h1v1h-1zM57 41h1v1h-1zM79 41h2v1h-2zM24 42h1v1h-1zM41 42h1v1h-1zM48 42h1v1h-1zM57 42h1v1h-1zM74 42h1v1h-1zM4 43h1v1h-1zM9 43h1v1h-1zM21 43h1v1h-1zM33 43h1v1h-1zM46 43h1v1h-1zM74 43h1v1h-1zM79 43h1v1h-1zM9 44h1v1h-1zM16 44h1v1h-1zM23 44h1v1h-1zM35 44h1v1h-1zM57 44h1v1h-1zM12 45h1v1h-1zM18 45h1v1h-1zM39 45h1v1h-1zM41 45h1v1h-1zM60 45h1v1h-1zM10 46h1v1h-1zM34 46h1v1h-1zM36 46h1v1h-1zM9 47h1v1h-1zM40 47h1v1h-1zM44 47h1v1h-1zM57 47h1v1h-1zM8 48h1v1h-1zM41 48h2v1h-2zM52 48h1v1h-1zM60 48h1v1h-1zM71 48h1v1h-1zM10 49h1v1h-1zM67 49h1v1h-1z"/><path fill="#fbd02c" d="M98 14h1v1h-1zM51 20h2v1h-2zM18 22h1v1h-1zM16 23h1v1h-1zM19 27h1v1h-1zM81 27h1v1h-1zM50 28h1v1h-1zM74 28h1v1h-1zM84 28h1v1h-1zM12 29h1v1h-1zM18 30h1v1h-1zM73 30h1v1h-1zM77 30h1v1h-1zM19 31h1v1h-1zM78 31h1v1h-1zM80 31h1v1h-1zM23 32h1v1h-1zM50 32h1v1h-1zM52 32h1v1h-1zM75 32h1v1h-1zM79 32h1v1h-1zM14 33h1v1h-1zM57 33h1v1h-1zM71 33h1v1h-1zM82 33h1v1h-1zM19 35h1v1h-1zM21 35h1v1h-1zM43 35h1v1h-1zM76 35h1v1h-1zM78 35h1v1h-1zM24 36h1v1h-1zM83 36h1v1h-1zM10 37h2v1h-2zM13 37h1v1h-1zM71 37h1v1h-1zM73 37h1v1h-1zM79 37h1v1h-1zM11 38h1v1h-1zM21 38h2v1h-2zM54 38h1v1h-1zM76 38h1v1h-1zM11 39h1v1h-1zM14 39h1v1h-1zM17 39h1v1h-1zM75 39h1v1h-1zM79 39h1v1h-1zM84 39h1v1h-1zM19 40h1v1h-1zM35 40h1v1h-1zM72 40h1v1h-1zM55 41h1v1h-1zM32 42h1v1h-1zM71 42h1v1h-1zM79 42h1v1h-1zM85 42h1v1h-1zM52 43h1v1h-1zM69 43h2v1h-2zM10 44h1v1h-1zM38 44h1v1h-1zM55 44h1v1h-1zM59 44h1v1h-1zM71 44h1v1h-1zM8 45h2v1h-2zM17 45h1v1h-1zM36 45h1v1h-1zM38 45h1v1h-1zM40 45h1v1h-1zM18 46h1v1h-1zM56 46h1v1h-1zM58 46h1v1h-1zM72 46h1v1h-1zM34 47h1v1h-1zM36 47h1v1h-1zM81 47h2v1h-2zM89 47h1v1h-1zM99 47h1v1h-1zM20 48h1v1h-1zM25 48h1v1h-1zM49 48h1v1h-1zM84 48h1v1h-1zM34 49h1v1h-1zM36 49h2v1h-2zM63 49h1v1h-1z"/><path fill="#fad32a" d="M78 15h1v1h-1zM55 22h1v1h-1zM76 23h1v1h-1zM33 26h1v1h-1zM13 27h2v1h-2zM16 28h2v1h-2zM22 28h1v1h-1zM22 29h1v1h-1zM36 29h1v1h-1zM23 30h1v1h-1zM57 30h1v1h-1zM74 30h2v1h-2zM22 31h1v1h-1zM76 31h1v1h-1zM17 32h1v1h-1zM21 32h1v1h-1zM73 32h1v1h-1zM17 33h1v1h-1zM21 33h1v1h-1zM55 33h1v1h-1zM20 34h1v1h-1zM36 34h1v1h-1zM75 34h1v1h-1zM80 35h1v1h-1zM13 36h1v1h-1zM58 36h2v1h-2zM21 37h1v1h-1zM77 37h1v1h-1zM83 37h1v1h-1zM9 38h1v1h-1zM20 39h1v1h-1zM40 39h1v1h-1zM59 39h1v1h-1zM78 39h1v1h-1zM82 39h1v1h-1zM9 40h1v1h-1zM11 40h1v1h-1zM34 40h1v1h-1zM76 40h2v1h-2zM80 40h1v1h-1zM82 40h1v1h-1zM10 41h1v1h-1zM13 41h1v1h-1zM50 42h1v1h-1zM84 42h1v1h-1zM24 43h1v1h-1zM58 43h1v1h-1zM83 43h1v1h-1zM85 43h1v1h-1zM11 44h1v1h-1zM34 44h1v1h-1zM36 44h1v1h-1zM49 44h1v1h-1zM52 44h1v1h-1zM85 44h1v1h-1zM10 45h1v1h-1zM13 45h1v1h-1zM22 45h1v1h-1zM34 45h1v1h-1zM54 45h1v1h-1zM71 45h1v1h-1zM87 45h1v1h-1zM9 46h1v1h-1zM35 46h1v1h-1zM51 46h1v1h-1zM84 46h1v1h-1zM32 47h1v1h-1zM49 47h1v1h-1zM52 47h1v1h-1zM64 47h1v1h-1zM11 48h2v1h-2zM40 48h1v1h-1zM55 48h1v1h-1zM23 49h1v1h-1zM31 49h1v1h-1zM42 49h1v1h-1zM50 49h1v1h-1zM58 49h1v1h-1zM60 49h1v1h-1zM70 49h1v1h-1zM81 49h1v1h-1z"/><path fill="#f8d727" d="M18 29h1v1h-1zM52 31h1v1h-1zM74 31h1v1h-1zM79 31h1v1h-1zM13 32h1v1h-1zM73 33h1v1h-1zM15 34h1v1h-1zM17 34h1v1h-1zM23 34h1v1h-1zM73 34h1v1h-1zM76 34h1v1h-1zM82 34h1v1h-1zM12 35h1v1h-1zM17 35h1v1h-1zM54 35h1v1h-1zM52 36h1v1h-1zM55 36h1v1h-1zM14 37h1v1h-1zM17 37h1v1h-1zM52 37h1v1h-1zM82 37h1v1h-1zM13 38h1v1h-1zM19 38h1v1h-1zM78 38h1v1h-1zM82 38h1v1h-1zM8 39h1v1h-1zM12 39h1v1h-1zM19 39h1v1h-1zM80 39h1v1h-1zM74 40h1v1h-1zM21 41h1v1h-1zM54 42h1v1h-1zM72 42h1v1h-1zM81 42h1v1h-1zM14 43h2v1h-2zM51 43h1v1h-1zM56 44h1v1h-1zM84 44h1v1h-1zM33 45h1v1h-1zM37 45h1v1h-1zM55 45h1v1h-1zM79 45h1v1h-1zM11 46h1v1h-1zM16 46h1v1h-1zM33 46h1v1h-1zM49 46h1v1h-1zM76 46h1v1h-1zM51 47h1v1h-1zM54 47h1v1h-1zM73 47h1v1h-1zM80 47h1v1h-1zM9 48h1v1h-1zM15 48h2v1h-2zM24 48h1v1h-1zM72 48h1v1h-1z"/><path fill="#f7da24" d="M20 26h1v1h-1zM73 29h1v1h-1zM81 29h1v1h-1zM82 30h1v1h-1zM17 31h1v1h-1zM20 33h1v1h-1zM39 34h1v1h-1zM73 35h1v1h-1zM15 36h1v1h-1zM15 37h1v1h-1zM23 37h1v1h-1zM80 37h1v1h-1zM72 39h1v1h-1zM83 39h1v1h-1zM85 39h1v1h-1zM12 40h1v1h-1zM55 40h1v1h-1zM79 40h1v1h-1zM11 41h1v1h-1zM17 41h1v1h-1zM76 41h1v1h-1zM83 41h2v1h-2zM18 42h1v1h-1zM21 42h1v1h-1zM73 42h1v1h-1zM75 42h1v1h-1zM57 43h1v1h-1zM76 43h1v1h-1zM84 43h1v1h-1zM13 44h1v1h-1zM37 44h1v1h-1zM51 44h1v1h-1zM75 44h1v1h-1zM77 44h1v1h-1zM82 44h1v1h-1zM14 45h1v1h-1zM70 45h1v1h-1zM73 45h1v1h-1zM76 45h1v1h-1zM13 46h1v1h-1zM20 46h1v1h-1zM24 46h1v1h-1zM79 46h1v1h-1zM82 46h1v1h-1zM21 47h1v1h-1zM23 47h1v1h-1zM78 47h1v1h-1zM33 48h1v1h-1zM35 48h1v1h-1zM39 48h1v1h-1zM50 48h1v1h-1zM54 48h1v1h-1zM73 48h1v1h-1zM75 48h1v1h-1zM85 48h1v1h-1zM86 49h1v1h-1z"/><path fill="#f5de21" d="M76 29h1v1h-1zM72 34h1v1h-1zM79 35h1v1h-1zM22 36h1v1h-1zM79 36h1v1h-1zM19 37h1v1h-1zM78 37h1v1h-1zM81 37h1v1h-1zM18 38h1v1h-1zM51 38h1v1h-1zM79 38h2v1h-2zM15 39h1v1h-1zM74 39h1v1h-1zM21 40h1v1h-1zM23 40h1v1h-1zM33 41h1v1h-1zM72 41h1v1h-1zM81 41h1v1h-1zM13 42h1v1h-1zM17 42h1v1h-1zM17 43h1v1h-1zM19 43h2v1h-2zM37 43h1v1h-1zM77 43h1v1h-1zM81 43h1v1h-1zM15 44h1v1h-1zM20 44h1v1h-1zM60 44h1v1h-1zM73 44h1v1h-1zM80 44h1v1h-1zM21 45h1v1h-1zM24 45h1v1h-1zM53 45h1v1h-1zM77 45h1v1h-1zM82 45h1v1h-1zM15 46h1v1h-1zM37 46h1v1h-1zM53 46h1v1h-1zM74 46h1v1h-1zM81 46h1v1h-1zM24 47h1v1h-1zM55 47h2v1h-2zM79 47h1v1h-1zM10 48h1v1h-1zM9 49h1v1h-1zM11 49h1v1h-1zM22 49h1v1h-1zM74 49h1v1h-1z"/><path fill="#f5e21e" d="M75 27h1v1h-1zM80 32h1v1h-1zM75 33h1v1h-1zM15 35h1v1h-1zM38 36h1v1h-1zM72 37h1v1h-1zM71 40h1v1h-1zM81 40h1v1h-1zM15 41h1v1h-1zM22 41h1v1h-1zM78 42h1v1h-1zM83 42h1v1h-1zM16 43h1v1h-1zM71 43h1v1h-1zM17 44h1v1h-1zM19 45h1v1h-1zM84 45h1v1h-1zM14 46h1v1h-1zM78 46h1v1h-1zM83 46h1v1h-1zM12 47h2v1h-2zM18 47h1v1h-1zM20 47h1v1h-1zM13 48h1v1h-1zM23 48h1v1h-1zM32 48h1v1h-1zM79 48h1v1h-1zM80 49h1v1h-1z"/><path fill="#f5e71b" d="M58 38h1v1h-1zM73 38h1v1h-1zM54 39h1v1h-1zM76 39h1v1h-1zM17 40h1v1h-1zM13 43h1v1h-1zM72 43h2v1h-2zM80 43h1v1h-1zM21 44h1v1h-1zM72 45h1v1h-1zM83 45h1v1h-1zM12 46h1v1h-1zM19 46h1v1h-1zM21 46h1v1h-1zM71 46h1v1h-1zM73 46h1v1h-1zM80 46h1v1h-1zM22 47h1v1h-1zM50 47h1v1h-1zM70 47h1v1h-1zM74 47h1v1h-1zM18 48h1v1h-1zM53 48h1v1h-1zM16 49h1v1h-1zM19 49h1v1h-1zM38 49h1v1h-1zM73 49h1v1h-1zM76 49h1v1h-1zM78 49h1v1h-1z"/><path fill="#f5eb18" d="M19 33h1v1h-1zM16 38h1v1h-1zM18 39h1v1h-1zM77 39h1v1h-1zM23 41h1v1h-1zM78 41h1v1h-1zM12 44h1v1h-1zM14 44h1v1h-1zM18 44h1v1h-1zM79 44h1v1h-1zM75 45h1v1h-1zM17 46h1v1h-1zM23 46h1v1h-1zM19 47h1v1h-1zM70 48h1v1h-1zM81 48h1v1h-1zM82 49h1v1h-1z"/><path fill="#f6f015" d="M23 39h1v1h-1zM22 40h1v1h-1zM74 41h1v1h-1zM82 41h1v1h-1zM16 42h1v1h-1zM12 43h1v1h-1zM19 44h1v1h-1zM22 44h1v1h-1zM72 44h1v1h-1zM81 44h1v1h-1zM22 46h1v1h-1zM77 46h1v1h-1zM14 47h2v1h-2zM37 47h1v1h-1zM72 47h1v1h-1zM85 47h1v1h-1zM21 48h1v1h-1zM74 48h1v1h-1z"/><path fill="#f7f511" d="M22 37h1v1h-1zM15 40h1v1h-1zM20 41h1v1h-1zM12 42h1v1h-1zM82 42h1v1h-1zM24 44h1v1h-1zM76 44h1v1h-1zM84 47h1v1h-1zM76 48h1v1h-1zM82 48h2v1h-2zM13 49h1v1h-1z"/><path fill="#f9fb0e" d="M19 42h1v1h-1zM78 43h1v1h-1zM20 45h1v1h-1zM74 45h1v1h-1zM78 45h1v1h-1zM75 46h1v1h-1zM10 47h2v1h-2zM75 47h3v1h-3zM83 47h1v1h-1zM14 48h1v1h-1zM19 48h1v1h-1zM22 48h1v1h-1zM78 48h1v1h-1zM72 49h1v1h-1zM75 49h1v1h-1z"/></g></g></g>
<rect x="397.9" y="266" width="139.7" height="1" fill="#fff8e8" opacity="0.5"/>
<path d="M397.6 233.9 V385.7 H537.6" fill="none" stroke="#7a7a8a" stroke-width="0.8"/>
<text x="20.70" y="274.05" font-size="12.4" text-anchor="end" fill="#262626">0</text>
<text x="20.70" y="255.15" font-size="12.4" text-anchor="end" fill="#262626">1</text>
<text x="20.70" y="236.25" font-size="12.4" text-anchor="end" fill="#262626">2</text>
<text x="20.70" y="217.35" font-size="12.4" text-anchor="end" fill="#262626">3</text>
<text x="20.70" y="198.45" font-size="12.4" text-anchor="end" fill="#262626">4</text>
<text x="20.70" y="179.55" font-size="12.4" text-anchor="end" fill="#262626">5</text>
<text x="20.70" y="160.65" font-size="12.4" text-anchor="end" fill="#262626">6</text>
<text x="20.70" y="141.75" font-size="12.4" text-anchor="end" fill="#262626">7</text>
<text x="24.10" y="299.00" font-size="12.4" text-anchor="middle" fill="#262626">0</text>
<text x="94.50" y="299.00" font-size="12.4" text-anchor="middle" fill="#262626">10</text>
<text x="164.00" y="299.00" font-size="12.4" text-anchor="middle" fill="#262626">20</text>
<text x="98.30" y="309.60" font-size="12.4" text-anchor="middle" fill="#262626">Time (Seconds)</text>
<text x="9.40" y="208.20" font-size="12.4" text-anchor="middle" fill="#262626" transform="rotate(-90 9.40 208.20)">Force (N)</text>
<text x="213.30" y="157.85" font-size="12.4" text-anchor="end" fill="#262626">400</text>
<text x="213.30" y="129.15" font-size="12.4" text-anchor="end" fill="#262626">500</text>
<text x="213.30" y="100.45" font-size="12.4" text-anchor="end" fill="#262626">600</text>
<text x="213.30" y="71.75" font-size="12.4" text-anchor="end" fill="#262626">700</text>
<text x="213.30" y="43.05" font-size="12.4" text-anchor="end" fill="#262626">800</text>
<text x="214.40" y="186.80" font-size="12.4" text-anchor="middle" fill="#262626">0</text>
<text x="285.00" y="186.80" font-size="12.4" text-anchor="middle" fill="#262626">10</text>
<text x="354.00" y="186.80" font-size="12.4" text-anchor="middle" fill="#262626">20</text>
<text x="290.50" y="201.60" font-size="12.4" text-anchor="middle" fill="#262626">Time (Seconds)</text>
<text x="187.00" y="97.30" font-size="12.4" text-anchor="middle" fill="#262626" transform="rotate(-90 187.00 97.30)">Signal</text>
<text x="394.80" y="178.35" font-size="12.4" text-anchor="end" fill="#262626">0</text>
<text x="394.80" y="148.35" font-size="12.4" text-anchor="end" fill="#262626">100</text>
<text x="394.80" y="118.35" font-size="12.4" text-anchor="end" fill="#262626">200</text>
<text x="394.80" y="88.35" font-size="12.4" text-anchor="end" fill="#262626">300</text>
<text x="394.80" y="58.35" font-size="12.4" text-anchor="end" fill="#262626">400</text>
<text x="394.80" y="28.35" font-size="12.4" text-anchor="end" fill="#262626">500</text>
<text x="401.00" y="186.80" font-size="12.4" text-anchor="middle" fill="#262626">0</text>
<text x="471.80" y="186.80" font-size="12.4" text-anchor="middle" fill="#262626">10</text>
<text x="540.70" y="186.80" font-size="12.4" text-anchor="middle" fill="#262626">20</text>
<text x="473.40" y="201.60" font-size="12.4" text-anchor="middle" fill="#262626">Time (Seconds)</text>
<text x="373.50" y="98.40" font-size="12.4" text-anchor="middle" fill="#262626" transform="rotate(-90 373.50 98.40)">Hz</text>
<text x="572.80" y="162.55" font-size="12.4" text-anchor="end" fill="#262626">10</text>
<text x="572.80" y="142.55" font-size="12.4" text-anchor="end" fill="#262626">15</text>
<text x="572.80" y="122.55" font-size="12.4" text-anchor="end" fill="#262626">20</text>
<text x="572.80" y="102.55" font-size="12.4" text-anchor="end" fill="#262626">25</text>
<text x="572.80" y="82.55" font-size="12.4" text-anchor="end" fill="#262626">30</text>
<text x="572.80" y="62.55" font-size="12.4" text-anchor="end" fill="#262626">35</text>
<text x="572.80" y="42.55" font-size="12.4" text-anchor="end" fill="#262626">40</text>
<text x="577.70" y="186.80" font-size="12.4" text-anchor="middle" fill="#262626">0</text>
<text x="648.20" y="186.80" font-size="12.4" text-anchor="middle" fill="#262626">10</text>
<text x="717.20" y="186.80" font-size="12.4" text-anchor="middle" fill="#262626">20</text>
<text x="652.70" y="201.60" font-size="12.4" text-anchor="middle" fill="#262626">Time (Seconds)</text>
<text x="554.90" y="97.90" font-size="12.4" text-anchor="middle" fill="#262626" transform="rotate(-90 554.90 97.90)">MAV</text>
<text x="212.40" y="378.35" font-size="12.4" text-anchor="end" fill="#262626">-200</text>
<text x="212.40" y="352.83" font-size="12.4" text-anchor="end" fill="#262626">-100</text>
<text x="212.40" y="327.31" font-size="12.4" text-anchor="end" fill="#262626">0</text>
<text x="212.40" y="301.79" font-size="12.4" text-anchor="end" fill="#262626">100</text>
<text x="212.40" y="276.27" font-size="12.4" text-anchor="end" fill="#262626">200</text>
<text x="212.40" y="250.75" font-size="12.4" text-anchor="end" fill="#262626">300</text>
<text x="216.40" y="396.80" font-size="12.4" text-anchor="middle" fill="#262626">0</text>
<text x="287.20" y="396.80" font-size="12.4" text-anchor="middle" fill="#262626">10</text>
<text x="356.30" y="396.80" font-size="12.4" text-anchor="middle" fill="#262626">20</text>
<text x="290.40" y="411.90" font-size="12.4" text-anchor="middle" fill="#262626">Time (Seconds)</text>
<text x="184.20" y="307.20" font-size="12.4" text-anchor="middle" fill="#262626" transform="rotate(-90 184.20 307.20)">Signal</text>
<text x="394.80" y="358.67" font-size="12.4" text-anchor="end" fill="#262626">100</text>
<text x="394.80" y="328.59" font-size="12.4" text-anchor="end" fill="#262626">200</text>
<text x="394.80" y="298.51" font-size="12.4" text-anchor="end" fill="#262626">300</text>
<text x="394.80" y="268.43" font-size="12.4" text-anchor="end" fill="#262626">400</text>
<text x="394.80" y="238.35" font-size="12.4" text-anchor="end" fill="#262626">500</text>
<text x="399.50" y="396.80" font-size="12.4" text-anchor="middle" fill="#262626">0</text>
<text x="469.80" y="396.80" font-size="12.4" text-anchor="middle" fill="#262626">10</text>
<text x="539.20" y="396.80" font-size="12.4" text-anchor="middle" fill="#262626">20</text>
<text x="473.50" y="411.50" font-size="12.4" text-anchor="middle" fill="#262626">Time (Seconds)</text>
<text x="373.50" y="308.40" font-size="12.4" text-anchor="middle" fill="#262626" transform="rotate(-90 373.50 308.40)">Hz</text>
<text x="572.80" y="373.55" font-size="12.4" text-anchor="end" fill="#262626">10</text>
<text x="572.80" y="349.19" font-size="12.4" text-anchor="end" fill="#262626">20</text>
<text x="572.80" y="324.83" font-size="12.4" text-anchor="end" fill="#262626">30</text>
<text x="572.80" y="300.47" font-size="12.4" text-anchor="end" fill="#262626">40</text>
<text x="572.80" y="276.11" font-size="12.4" text-anchor="end" fill="#262626">50</text>
<text x="572.80" y="251.75" font-size="12.4" text-anchor="end" fill="#262626">60</text>
<text x="577.90" y="396.80" font-size="12.4" text-anchor="middle" fill="#262626">0</text>
<text x="648.20" y="396.80" font-size="12.4" text-anchor="middle" fill="#262626">10</text>
<text x="717.20" y="396.80" font-size="12.4" text-anchor="middle" fill="#262626">20</text>
<text x="652.20" y="411.20" font-size="12.4" text-anchor="middle" fill="#262626">Time (Seconds)</text>
<text x="555.20" y="307.50" font-size="12.4" text-anchor="middle" fill="#262626" transform="rotate(-90 555.20 307.50)">MAV</text>
<text x="0.60" y="123.80" font-size="18.0" text-anchor="start" font-weight="bold" fill="#000">(a)</text>
<text x="175.60" y="12.60" font-size="18.0" text-anchor="start" font-weight="bold" fill="#000">(b)</text>
<text x="354.00" y="12.60" font-size="18.0" text-anchor="start" font-weight="bold" fill="#000">(c)</text>
<text x="541.10" y="12.60" font-size="18.0" text-anchor="start" font-weight="bold" fill="#000">(d)</text>
<text x="178.80" y="224.80" font-size="18.0" text-anchor="start" font-weight="bold" fill="#000">(e)</text>
<text x="356.80" y="224.80" font-size="18.0" text-anchor="start" font-weight="bold" fill="#000">(f)</text>
<text x="544.20" y="224.80" font-size="18.0" text-anchor="start" font-weight="bold" fill="#000">(g)</text>
</svg></body></html>
